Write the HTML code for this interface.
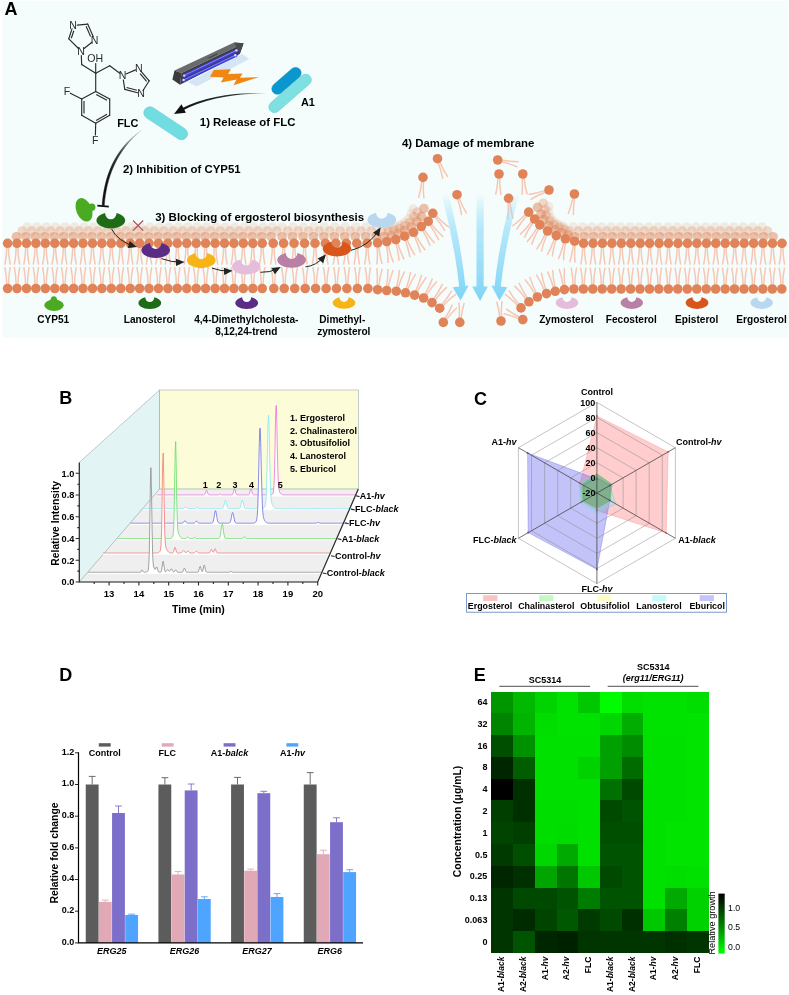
<!DOCTYPE html>
<html lang="en"><head><meta charset="utf-8"><title>Figure</title>
<style>
html,body{margin:0;padding:0;background:#fff;}
body{width:789px;height:995px;overflow:hidden;font-family:"Liberation Sans", Arial, sans-serif;}
svg{display:block;font-family:"Liberation Sans", Arial, sans-serif;}
</style></head><body>
<svg width="789" height="995" viewBox="0 0 789 995">
<rect x="2.2" y="0.8" width="785.8" height="336.9" fill="#f4fdfb"/>
<g fill="#e08358" fill-opacity="0.15"><circle cx="27.4" cy="227.0" r="4.8"/><circle cx="36.8" cy="227.0" r="4.8"/><circle cx="46.3" cy="227.0" r="4.8"/><circle cx="55.7" cy="227.0" r="4.8"/><circle cx="65.1" cy="227.0" r="4.8"/><circle cx="74.5" cy="227.0" r="4.8"/><circle cx="84.0" cy="227.0" r="4.8"/><circle cx="93.4" cy="227.0" r="4.8"/><circle cx="102.8" cy="227.0" r="4.8"/><circle cx="112.3" cy="227.0" r="4.8"/><circle cx="121.7" cy="227.0" r="4.8"/><circle cx="131.1" cy="227.0" r="4.8"/><circle cx="140.6" cy="227.0" r="4.8"/><circle cx="150.0" cy="227.0" r="4.8"/><circle cx="159.4" cy="227.0" r="4.8"/><circle cx="168.8" cy="227.0" r="4.8"/><circle cx="178.3" cy="227.0" r="4.8"/><circle cx="187.7" cy="227.0" r="4.8"/><circle cx="197.1" cy="227.0" r="4.8"/><circle cx="206.6" cy="227.0" r="4.8"/><circle cx="216.0" cy="227.0" r="4.8"/><circle cx="225.4" cy="227.0" r="4.8"/><circle cx="234.9" cy="227.0" r="4.8"/><circle cx="244.3" cy="227.0" r="4.8"/><circle cx="253.7" cy="227.0" r="4.8"/><circle cx="263.1" cy="227.0" r="4.8"/><circle cx="272.6" cy="227.0" r="4.8"/><circle cx="282.0" cy="227.0" r="4.8"/><circle cx="293.0" cy="227.0" r="4.8"/><circle cx="303.4" cy="227.0" r="4.8"/><circle cx="313.9" cy="227.0" r="4.8"/><circle cx="324.4" cy="227.0" r="4.8"/><circle cx="334.8" cy="227.0" r="4.8"/><circle cx="345.2" cy="227.0" r="4.8"/><circle cx="355.7" cy="227.0" r="4.8"/><circle cx="366.1" cy="227.0" r="4.8"/><circle cx="376.6" cy="227.0" r="4.8"/><circle cx="387.1" cy="227.0" r="4.8"/><circle cx="392.5" cy="227.2" r="4.8"/><circle cx="396.7" cy="226.5" r="4.8"/><circle cx="400.8" cy="224.9" r="4.8"/><circle cx="404.7" cy="222.2" r="4.8"/><circle cx="408.6" cy="218.9" r="4.8"/><circle cx="411.4" cy="213.6" r="4.8"/><circle cx="413.3" cy="209.1" r="4.8"/><circle cx="548.7" cy="206.6" r="4.8"/><circle cx="548.4" cy="211.9" r="4.8"/><circle cx="550.4" cy="217.3" r="4.8"/><circle cx="553.5" cy="221.3" r="4.8"/><circle cx="556.9" cy="223.8" r="4.8"/><circle cx="560.5" cy="225.6" r="4.8"/><circle cx="563.7" cy="227.0" r="4.8"/><circle cx="573.2" cy="227.0" r="4.8"/><circle cx="582.6" cy="227.0" r="4.8"/><circle cx="592.1" cy="227.0" r="4.8"/><circle cx="601.5" cy="227.0" r="4.8"/><circle cx="611.0" cy="227.0" r="4.8"/><circle cx="620.4" cy="227.0" r="4.8"/><circle cx="629.9" cy="227.0" r="4.8"/><circle cx="639.3" cy="227.0" r="4.8"/><circle cx="648.8" cy="227.0" r="4.8"/><circle cx="658.2" cy="227.0" r="4.8"/><circle cx="667.7" cy="227.0" r="4.8"/><circle cx="677.1" cy="227.0" r="4.8"/><circle cx="686.6" cy="227.0" r="4.8"/><circle cx="696.0" cy="227.0" r="4.8"/><circle cx="705.5" cy="227.0" r="4.8"/><circle cx="714.9" cy="227.0" r="4.8"/><circle cx="724.4" cy="227.0" r="4.8"/><circle cx="733.8" cy="227.0" r="4.8"/><circle cx="743.2" cy="227.0" r="4.8"/><circle cx="752.7" cy="227.0" r="4.8"/><circle cx="762.2" cy="227.0" r="4.8"/></g>
<g fill="#e08358" fill-opacity="0.3"><circle cx="22.2" cy="231.0" r="4.8"/><circle cx="31.6" cy="231.0" r="4.8"/><circle cx="41.1" cy="231.0" r="4.8"/><circle cx="50.5" cy="231.0" r="4.8"/><circle cx="59.9" cy="231.0" r="4.8"/><circle cx="69.3" cy="231.0" r="4.8"/><circle cx="78.8" cy="231.0" r="4.8"/><circle cx="88.2" cy="231.0" r="4.8"/><circle cx="97.6" cy="231.0" r="4.8"/><circle cx="107.1" cy="231.0" r="4.8"/><circle cx="116.5" cy="231.0" r="4.8"/><circle cx="125.9" cy="231.0" r="4.8"/><circle cx="135.4" cy="231.0" r="4.8"/><circle cx="144.8" cy="231.0" r="4.8"/><circle cx="154.2" cy="231.0" r="4.8"/><circle cx="163.6" cy="231.0" r="4.8"/><circle cx="173.1" cy="231.0" r="4.8"/><circle cx="182.5" cy="231.0" r="4.8"/><circle cx="191.9" cy="231.0" r="4.8"/><circle cx="201.4" cy="231.0" r="4.8"/><circle cx="210.8" cy="231.0" r="4.8"/><circle cx="220.2" cy="231.0" r="4.8"/><circle cx="229.7" cy="231.0" r="4.8"/><circle cx="239.1" cy="231.0" r="4.8"/><circle cx="248.5" cy="231.0" r="4.8"/><circle cx="257.9" cy="231.0" r="4.8"/><circle cx="267.4" cy="231.0" r="4.8"/><circle cx="276.8" cy="231.0" r="4.8"/><circle cx="287.8" cy="231.0" r="4.8"/><circle cx="298.2" cy="231.0" r="4.8"/><circle cx="308.7" cy="231.0" r="4.8"/><circle cx="319.2" cy="231.0" r="4.8"/><circle cx="329.6" cy="231.0" r="4.8"/><circle cx="340.1" cy="231.0" r="4.8"/><circle cx="350.5" cy="231.0" r="4.8"/><circle cx="360.9" cy="231.0" r="4.8"/><circle cx="371.4" cy="231.0" r="4.8"/><circle cx="381.9" cy="231.0" r="4.8"/><circle cx="388.6" cy="231.0" r="4.8"/><circle cx="394.1" cy="230.3" r="4.8"/><circle cx="399.4" cy="228.5" r="4.8"/><circle cx="404.7" cy="225.6" r="4.8"/><circle cx="409.9" cy="222.2" r="4.8"/><circle cx="414.0" cy="216.8" r="4.8"/><circle cx="417.2" cy="212.1" r="4.8"/><circle cx="543.3" cy="203.2" r="4.8"/><circle cx="545.0" cy="209.7" r="4.8"/><circle cx="546.2" cy="215.1" r="4.8"/><circle cx="549.7" cy="220.7" r="4.8"/><circle cx="554.2" cy="224.8" r="4.8"/><circle cx="559.1" cy="227.5" r="4.8"/><circle cx="564.2" cy="229.4" r="4.8"/><circle cx="568.9" cy="231.0" r="4.8"/><circle cx="578.4" cy="231.0" r="4.8"/><circle cx="587.8" cy="231.0" r="4.8"/><circle cx="597.2" cy="231.0" r="4.8"/><circle cx="606.7" cy="231.0" r="4.8"/><circle cx="616.1" cy="231.0" r="4.8"/><circle cx="625.6" cy="231.0" r="4.8"/><circle cx="635.0" cy="231.0" r="4.8"/><circle cx="644.5" cy="231.0" r="4.8"/><circle cx="653.9" cy="231.0" r="4.8"/><circle cx="663.4" cy="231.0" r="4.8"/><circle cx="672.9" cy="231.0" r="4.8"/><circle cx="682.3" cy="231.0" r="4.8"/><circle cx="691.8" cy="231.0" r="4.8"/><circle cx="701.2" cy="231.0" r="4.8"/><circle cx="710.6" cy="231.0" r="4.8"/><circle cx="720.1" cy="231.0" r="4.8"/><circle cx="729.5" cy="231.0" r="4.8"/><circle cx="739.0" cy="231.0" r="4.8"/><circle cx="748.4" cy="231.0" r="4.8"/><circle cx="757.9" cy="231.0" r="4.8"/><circle cx="767.4" cy="231.0" r="4.8"/></g>
<g fill="#e08358" fill-opacity="0.5"><circle cx="16.5" cy="236.7" r="4.8"/><circle cx="25.9" cy="236.7" r="4.8"/><circle cx="35.4" cy="236.7" r="4.8"/><circle cx="44.8" cy="236.7" r="4.8"/><circle cx="54.2" cy="236.7" r="4.8"/><circle cx="63.6" cy="236.7" r="4.8"/><circle cx="73.1" cy="236.7" r="4.8"/><circle cx="82.5" cy="236.7" r="4.8"/><circle cx="91.9" cy="236.7" r="4.8"/><circle cx="101.4" cy="236.7" r="4.8"/><circle cx="110.8" cy="236.7" r="4.8"/><circle cx="120.2" cy="236.7" r="4.8"/><circle cx="129.7" cy="236.7" r="4.8"/><circle cx="139.1" cy="236.7" r="4.8"/><circle cx="148.5" cy="236.7" r="4.8"/><circle cx="157.9" cy="236.7" r="4.8"/><circle cx="167.4" cy="236.7" r="4.8"/><circle cx="176.8" cy="236.7" r="4.8"/><circle cx="186.2" cy="236.7" r="4.8"/><circle cx="195.7" cy="236.7" r="4.8"/><circle cx="205.1" cy="236.7" r="4.8"/><circle cx="214.5" cy="236.7" r="4.8"/><circle cx="224.0" cy="236.7" r="4.8"/><circle cx="233.4" cy="236.7" r="4.8"/><circle cx="242.8" cy="236.7" r="4.8"/><circle cx="252.2" cy="236.7" r="4.8"/><circle cx="261.7" cy="236.7" r="4.8"/><circle cx="271.1" cy="236.7" r="4.8"/><circle cx="282.1" cy="236.7" r="4.8"/><circle cx="292.5" cy="236.7" r="4.8"/><circle cx="303.0" cy="236.7" r="4.8"/><circle cx="313.4" cy="236.7" r="4.8"/><circle cx="323.9" cy="236.7" r="4.8"/><circle cx="334.3" cy="236.7" r="4.8"/><circle cx="344.8" cy="236.7" r="4.8"/><circle cx="355.2" cy="236.7" r="4.8"/><circle cx="365.7" cy="236.7" r="4.8"/><circle cx="376.1" cy="236.7" r="4.8"/><circle cx="384.3" cy="236.5" r="4.8"/><circle cx="391.2" cy="235.6" r="4.8"/><circle cx="398.0" cy="233.6" r="4.8"/><circle cx="404.7" cy="230.5" r="4.8"/><circle cx="411.3" cy="226.9" r="4.8"/><circle cx="416.9" cy="221.3" r="4.8"/><circle cx="421.5" cy="216.4" r="4.8"/><circle cx="423.9" cy="208.5" r="4.8"/><circle cx="537.6" cy="207.3" r="4.8"/><circle cx="541.0" cy="214.0" r="4.8"/><circle cx="543.7" cy="219.6" r="4.8"/><circle cx="548.9" cy="225.5" r="4.8"/><circle cx="555.0" cy="229.8" r="4.8"/><circle cx="561.6" cy="232.7" r="4.8"/><circle cx="568.2" cy="234.9" r="4.8"/><circle cx="574.6" cy="236.7" r="4.8"/><circle cx="584.1" cy="236.7" r="4.8"/><circle cx="593.5" cy="236.7" r="4.8"/><circle cx="603.0" cy="236.7" r="4.8"/><circle cx="612.4" cy="236.7" r="4.8"/><circle cx="621.9" cy="236.7" r="4.8"/><circle cx="631.3" cy="236.7" r="4.8"/><circle cx="640.8" cy="236.7" r="4.8"/><circle cx="650.2" cy="236.7" r="4.8"/><circle cx="659.6" cy="236.7" r="4.8"/><circle cx="669.1" cy="236.7" r="4.8"/><circle cx="678.6" cy="236.7" r="4.8"/><circle cx="688.0" cy="236.7" r="4.8"/><circle cx="697.5" cy="236.7" r="4.8"/><circle cx="706.9" cy="236.7" r="4.8"/><circle cx="716.4" cy="236.7" r="4.8"/><circle cx="725.8" cy="236.7" r="4.8"/><circle cx="735.2" cy="236.7" r="4.8"/><circle cx="744.7" cy="236.7" r="4.8"/><circle cx="754.1" cy="236.7" r="4.8"/><circle cx="763.6" cy="236.7" r="4.8"/><circle cx="773.1" cy="236.7" r="4.8"/></g>
<path d="M376.04,212.75 A5.76,6.08 0 0 0 387.56,212.75 A14.40,7.80 0 1 1 376.04,212.75 Z" fill="#b9d8f0"/>
<path d="M8.5,247.6 Q8.6,256.4 10.3,264.6" stroke="#f7c6b4" stroke-width="1.5" fill="none"/><path d="M6.7,247.6 Q6.6,256.4 4.9,264.6" stroke="#f7c6b4" stroke-width="1.5" fill="none"/><circle cx="7.6" cy="243.3" r="4.8" fill="#e08358"/><path d="M17.9,247.6 Q18.0,256.4 19.7,264.6" stroke="#f7c6b4" stroke-width="1.5" fill="none"/><path d="M16.1,247.6 Q16.0,256.4 14.3,264.6" stroke="#f7c6b4" stroke-width="1.5" fill="none"/><circle cx="17.0" cy="243.3" r="4.8" fill="#e08358"/><path d="M27.4,247.6 Q27.5,256.4 29.2,264.6" stroke="#f7c6b4" stroke-width="1.5" fill="none"/><path d="M25.6,247.6 Q25.5,256.4 23.8,264.6" stroke="#f7c6b4" stroke-width="1.5" fill="none"/><circle cx="26.5" cy="243.3" r="4.8" fill="#e08358"/><path d="M36.8,247.6 Q36.9,256.4 38.6,264.6" stroke="#f7c6b4" stroke-width="1.5" fill="none"/><path d="M35.0,247.6 Q34.9,256.4 33.2,264.6" stroke="#f7c6b4" stroke-width="1.5" fill="none"/><circle cx="35.9" cy="243.3" r="4.8" fill="#e08358"/><path d="M46.2,247.6 Q46.3,256.4 48.0,264.6" stroke="#f7c6b4" stroke-width="1.5" fill="none"/><path d="M44.4,247.6 Q44.3,256.4 42.6,264.6" stroke="#f7c6b4" stroke-width="1.5" fill="none"/><circle cx="45.3" cy="243.3" r="4.8" fill="#e08358"/><path d="M55.6,247.6 Q55.8,256.4 57.5,264.6" stroke="#f7c6b4" stroke-width="1.5" fill="none"/><path d="M53.9,247.6 Q53.8,256.4 52.0,264.6" stroke="#f7c6b4" stroke-width="1.5" fill="none"/><circle cx="54.8" cy="243.3" r="4.8" fill="#e08358"/><path d="M65.1,247.6 Q65.2,256.4 66.9,264.6" stroke="#f7c6b4" stroke-width="1.5" fill="none"/><path d="M63.3,247.6 Q63.2,256.4 61.5,264.6" stroke="#f7c6b4" stroke-width="1.5" fill="none"/><circle cx="64.2" cy="243.3" r="4.8" fill="#e08358"/><path d="M74.5,247.6 Q74.6,256.4 76.3,264.6" stroke="#f7c6b4" stroke-width="1.5" fill="none"/><path d="M72.7,247.6 Q72.6,256.4 70.9,264.6" stroke="#f7c6b4" stroke-width="1.5" fill="none"/><circle cx="73.6" cy="243.3" r="4.8" fill="#e08358"/><path d="M83.9,247.6 Q84.0,256.4 85.7,264.6" stroke="#f7c6b4" stroke-width="1.5" fill="none"/><path d="M82.1,247.6 Q82.0,256.4 80.3,264.6" stroke="#f7c6b4" stroke-width="1.5" fill="none"/><circle cx="83.0" cy="243.3" r="4.8" fill="#e08358"/><path d="M93.4,247.6 Q93.5,256.4 95.2,264.6" stroke="#f7c6b4" stroke-width="1.5" fill="none"/><path d="M91.6,247.6 Q91.5,256.4 89.8,264.6" stroke="#f7c6b4" stroke-width="1.5" fill="none"/><circle cx="92.5" cy="243.3" r="4.8" fill="#e08358"/><path d="M102.8,247.6 Q102.9,256.4 104.6,264.6" stroke="#f7c6b4" stroke-width="1.5" fill="none"/><path d="M101.0,247.6 Q100.9,256.4 99.2,264.6" stroke="#f7c6b4" stroke-width="1.5" fill="none"/><circle cx="101.9" cy="243.3" r="4.8" fill="#e08358"/><path d="M112.2,247.6 Q112.3,256.4 114.0,264.6" stroke="#f7c6b4" stroke-width="1.5" fill="none"/><path d="M110.4,247.6 Q110.3,256.4 108.6,264.6" stroke="#f7c6b4" stroke-width="1.5" fill="none"/><circle cx="111.3" cy="243.3" r="4.8" fill="#e08358"/><path d="M121.7,247.6 Q121.8,256.4 123.5,264.6" stroke="#f7c6b4" stroke-width="1.5" fill="none"/><path d="M119.9,247.6 Q119.8,256.4 118.1,264.6" stroke="#f7c6b4" stroke-width="1.5" fill="none"/><circle cx="120.8" cy="243.3" r="4.8" fill="#e08358"/><path d="M131.1,247.6 Q131.2,256.4 132.9,264.6" stroke="#f7c6b4" stroke-width="1.5" fill="none"/><path d="M129.3,247.6 Q129.2,256.4 127.5,264.6" stroke="#f7c6b4" stroke-width="1.5" fill="none"/><circle cx="130.2" cy="243.3" r="4.8" fill="#e08358"/><path d="M140.5,247.6 Q140.6,256.4 142.3,264.6" stroke="#f7c6b4" stroke-width="1.5" fill="none"/><path d="M138.7,247.6 Q138.6,256.4 136.9,264.6" stroke="#f7c6b4" stroke-width="1.5" fill="none"/><circle cx="139.6" cy="243.3" r="4.8" fill="#e08358"/><path d="M149.9,247.6 Q150.0,256.4 151.7,264.6" stroke="#f7c6b4" stroke-width="1.5" fill="none"/><path d="M148.1,247.6 Q148.0,256.4 146.3,264.6" stroke="#f7c6b4" stroke-width="1.5" fill="none"/><circle cx="149.0" cy="243.3" r="4.8" fill="#e08358"/><path d="M159.4,247.6 Q159.5,256.4 161.2,264.6" stroke="#f7c6b4" stroke-width="1.5" fill="none"/><path d="M157.6,247.6 Q157.5,256.4 155.8,264.6" stroke="#f7c6b4" stroke-width="1.5" fill="none"/><circle cx="158.5" cy="243.3" r="4.8" fill="#e08358"/><path d="M168.8,247.6 Q168.9,256.4 170.6,264.6" stroke="#f7c6b4" stroke-width="1.5" fill="none"/><path d="M167.0,247.6 Q166.9,256.4 165.2,264.6" stroke="#f7c6b4" stroke-width="1.5" fill="none"/><circle cx="167.9" cy="243.3" r="4.8" fill="#e08358"/><path d="M178.2,247.6 Q178.3,256.4 180.0,264.6" stroke="#f7c6b4" stroke-width="1.5" fill="none"/><path d="M176.4,247.6 Q176.3,256.4 174.6,264.6" stroke="#f7c6b4" stroke-width="1.5" fill="none"/><circle cx="177.3" cy="243.3" r="4.8" fill="#e08358"/><path d="M187.7,247.6 Q187.8,256.4 189.5,264.6" stroke="#f7c6b4" stroke-width="1.5" fill="none"/><path d="M185.9,247.6 Q185.8,256.4 184.1,264.6" stroke="#f7c6b4" stroke-width="1.5" fill="none"/><circle cx="186.8" cy="243.3" r="4.8" fill="#e08358"/><path d="M197.1,247.6 Q197.2,256.4 198.9,264.6" stroke="#f7c6b4" stroke-width="1.5" fill="none"/><path d="M195.3,247.6 Q195.2,256.4 193.5,264.6" stroke="#f7c6b4" stroke-width="1.5" fill="none"/><circle cx="196.2" cy="243.3" r="4.8" fill="#e08358"/><path d="M206.5,247.6 Q206.6,256.4 208.3,264.6" stroke="#f7c6b4" stroke-width="1.5" fill="none"/><path d="M204.7,247.6 Q204.6,256.4 202.9,264.6" stroke="#f7c6b4" stroke-width="1.5" fill="none"/><circle cx="205.6" cy="243.3" r="4.8" fill="#e08358"/><path d="M216.0,247.6 Q216.1,256.4 217.8,264.6" stroke="#f7c6b4" stroke-width="1.5" fill="none"/><path d="M214.2,247.6 Q214.1,256.4 212.4,264.6" stroke="#f7c6b4" stroke-width="1.5" fill="none"/><circle cx="215.1" cy="243.3" r="4.8" fill="#e08358"/><path d="M225.4,247.6 Q225.5,256.4 227.2,264.6" stroke="#f7c6b4" stroke-width="1.5" fill="none"/><path d="M223.6,247.6 Q223.5,256.4 221.8,264.6" stroke="#f7c6b4" stroke-width="1.5" fill="none"/><circle cx="224.5" cy="243.3" r="4.8" fill="#e08358"/><path d="M234.8,247.6 Q234.9,256.4 236.6,264.6" stroke="#f7c6b4" stroke-width="1.5" fill="none"/><path d="M233.0,247.6 Q232.9,256.4 231.2,264.6" stroke="#f7c6b4" stroke-width="1.5" fill="none"/><circle cx="233.9" cy="243.3" r="4.8" fill="#e08358"/><path d="M244.2,247.6 Q244.3,256.4 246.0,264.6" stroke="#f7c6b4" stroke-width="1.5" fill="none"/><path d="M242.4,247.6 Q242.3,256.4 240.7,264.6" stroke="#f7c6b4" stroke-width="1.5" fill="none"/><circle cx="243.3" cy="243.3" r="4.8" fill="#e08358"/><path d="M253.7,247.6 Q253.8,256.4 255.5,264.6" stroke="#f7c6b4" stroke-width="1.5" fill="none"/><path d="M251.9,247.6 Q251.8,256.4 250.1,264.6" stroke="#f7c6b4" stroke-width="1.5" fill="none"/><circle cx="252.8" cy="243.3" r="4.8" fill="#e08358"/><path d="M263.1,247.6 Q263.2,256.4 264.9,264.6" stroke="#f7c6b4" stroke-width="1.5" fill="none"/><path d="M261.3,247.6 Q261.2,256.4 259.5,264.6" stroke="#f7c6b4" stroke-width="1.5" fill="none"/><circle cx="262.2" cy="243.3" r="4.8" fill="#e08358"/><path d="M274.1,247.6 Q274.2,256.4 275.9,264.6" stroke="#f7c6b4" stroke-width="1.5" fill="none"/><path d="M272.3,247.6 Q272.2,256.4 270.5,264.6" stroke="#f7c6b4" stroke-width="1.5" fill="none"/><circle cx="273.2" cy="243.3" r="4.8" fill="#e08358"/><path d="M284.5,247.6 Q284.6,256.4 286.3,264.6" stroke="#f7c6b4" stroke-width="1.5" fill="none"/><path d="M282.8,247.6 Q282.6,256.4 280.9,264.6" stroke="#f7c6b4" stroke-width="1.5" fill="none"/><circle cx="283.6" cy="243.3" r="4.8" fill="#e08358"/><path d="M295.0,247.6 Q295.1,256.4 296.8,264.6" stroke="#f7c6b4" stroke-width="1.5" fill="none"/><path d="M293.2,247.6 Q293.1,256.4 291.4,264.6" stroke="#f7c6b4" stroke-width="1.5" fill="none"/><circle cx="294.1" cy="243.3" r="4.8" fill="#e08358"/><path d="M305.4,247.6 Q305.6,256.4 307.2,264.6" stroke="#f7c6b4" stroke-width="1.5" fill="none"/><path d="M303.7,247.6 Q303.6,256.4 301.9,264.6" stroke="#f7c6b4" stroke-width="1.5" fill="none"/><circle cx="304.6" cy="243.3" r="4.8" fill="#e08358"/><path d="M315.9,247.6 Q316.0,256.4 317.7,264.6" stroke="#f7c6b4" stroke-width="1.5" fill="none"/><path d="M314.1,247.6 Q314.0,256.4 312.3,264.6" stroke="#f7c6b4" stroke-width="1.5" fill="none"/><circle cx="315.0" cy="243.3" r="4.8" fill="#e08358"/><path d="M326.3,247.6 Q326.4,256.4 328.1,264.6" stroke="#f7c6b4" stroke-width="1.5" fill="none"/><path d="M324.6,247.6 Q324.4,256.4 322.8,264.6" stroke="#f7c6b4" stroke-width="1.5" fill="none"/><circle cx="325.4" cy="243.3" r="4.8" fill="#e08358"/><path d="M336.8,247.6 Q336.9,256.4 338.6,264.6" stroke="#f7c6b4" stroke-width="1.5" fill="none"/><path d="M335.0,247.6 Q334.9,256.4 333.2,264.6" stroke="#f7c6b4" stroke-width="1.5" fill="none"/><circle cx="335.9" cy="243.3" r="4.8" fill="#e08358"/><path d="M347.2,247.6 Q347.3,256.4 349.0,264.6" stroke="#f7c6b4" stroke-width="1.5" fill="none"/><path d="M345.4,247.6 Q345.3,256.4 343.6,264.6" stroke="#f7c6b4" stroke-width="1.5" fill="none"/><circle cx="346.3" cy="243.3" r="4.8" fill="#e08358"/><path d="M357.7,247.6 Q357.8,256.4 359.5,264.6" stroke="#f7c6b4" stroke-width="1.5" fill="none"/><path d="M355.9,247.6 Q355.8,256.4 354.1,264.6" stroke="#f7c6b4" stroke-width="1.5" fill="none"/><circle cx="356.8" cy="243.3" r="4.8" fill="#e08358"/><path d="M368.1,247.6 Q368.2,256.4 369.9,264.6" stroke="#f7c6b4" stroke-width="1.5" fill="none"/><path d="M366.4,247.6 Q366.2,256.4 364.6,264.6" stroke="#f7c6b4" stroke-width="1.5" fill="none"/><circle cx="367.2" cy="243.3" r="4.8" fill="#e08358"/><path d="M378.9,247.1 Q379.8,255.8 382.2,263.9" stroke="#f7c6b4" stroke-width="1.5" fill="none"/><path d="M377.1,247.3 Q377.8,256.0 376.9,264.4" stroke="#f7c6b4" stroke-width="1.5" fill="none"/><circle cx="377.6" cy="242.9" r="4.8" fill="#e08358"/><path d="M388.5,245.8 Q390.2,254.3 393.3,262.2" stroke="#f7c6b4" stroke-width="1.5" fill="none"/><path d="M386.7,246.1 Q388.2,254.7 388.0,263.1" stroke="#f7c6b4" stroke-width="1.5" fill="none"/><circle cx="386.8" cy="241.7" r="4.8" fill="#e08358"/><path d="M397.8,243.4 Q400.3,251.8 404.2,259.3" stroke="#f7c6b4" stroke-width="1.5" fill="none"/><path d="M396.1,243.9 Q398.4,252.3 399.0,260.7" stroke="#f7c6b4" stroke-width="1.5" fill="none"/><circle cx="395.8" cy="239.5" r="4.8" fill="#e08358"/><path d="M407.1,239.9 Q410.3,248.0 414.9,255.1" stroke="#f7c6b4" stroke-width="1.5" fill="none"/><path d="M405.4,240.6 Q408.4,248.7 409.8,257.1" stroke="#f7c6b4" stroke-width="1.5" fill="none"/><circle cx="404.7" cy="236.2" r="4.8" fill="#e08358"/><path d="M416.2,235.8 Q420.2,243.6 425.3,250.2" stroke="#f7c6b4" stroke-width="1.5" fill="none"/><path d="M414.6,236.6 Q418.4,244.4 420.5,252.6" stroke="#f7c6b4" stroke-width="1.5" fill="none"/><circle cx="413.5" cy="232.3" r="4.8" fill="#e08358"/><path d="M424.3,229.7 Q429.0,237.1 434.7,243.3" stroke="#f7c6b4" stroke-width="1.5" fill="none"/><path d="M422.8,230.7 Q427.3,238.1 430.1,246.1" stroke="#f7c6b4" stroke-width="1.5" fill="none"/><circle cx="421.3" cy="226.5" r="4.8" fill="#e08358"/><path d="M431.5,224.3 Q436.8,231.3 443.1,236.9" stroke="#f7c6b4" stroke-width="1.5" fill="none"/><path d="M430.1,225.4 Q435.2,232.5 438.8,240.1" stroke="#f7c6b4" stroke-width="1.5" fill="none"/><circle cx="428.2" cy="221.4" r="4.8" fill="#e08358"/><path d="M436.4,215.9 Q442.3,222.3 449.1,227.3" stroke="#f7c6b4" stroke-width="1.5" fill="none"/><path d="M435.0,217.1 Q440.8,223.7 445.0,230.9" stroke="#f7c6b4" stroke-width="1.5" fill="none"/><circle cx="432.8" cy="213.3" r="4.8" fill="#e08358"/><path d="M526.5,215.9 Q520.7,222.5 516.5,229.7" stroke="#f7c6b4" stroke-width="1.5" fill="none"/><path d="M525.1,214.7 Q519.2,221.1 512.4,226.1" stroke="#f7c6b4" stroke-width="1.5" fill="none"/><circle cx="528.7" cy="212.1" r="4.8" fill="#e08358"/><path d="M532.8,223.0 Q527.7,230.1 524.3,237.8" stroke="#f7c6b4" stroke-width="1.5" fill="none"/><path d="M531.3,222.0 Q526.1,229.0 519.9,234.6" stroke="#f7c6b4" stroke-width="1.5" fill="none"/><circle cx="534.6" cy="219.0" r="4.8" fill="#e08358"/><path d="M538.5,229.1 Q534.2,236.7 531.6,244.7" stroke="#f7c6b4" stroke-width="1.5" fill="none"/><path d="M537.0,228.2 Q532.5,235.7 526.9,242.0" stroke="#f7c6b4" stroke-width="1.5" fill="none"/><circle cx="539.9" cy="224.9" r="4.8" fill="#e08358"/><path d="M546.7,235.3 Q543.2,243.3 541.4,251.6" stroke="#f7c6b4" stroke-width="1.5" fill="none"/><path d="M545.0,234.6 Q541.4,242.5 536.5,249.4" stroke="#f7c6b4" stroke-width="1.5" fill="none"/><circle cx="547.6" cy="231.0" r="4.8" fill="#e08358"/><path d="M555.8,240.0 Q553.2,248.3 552.3,256.7" stroke="#f7c6b4" stroke-width="1.5" fill="none"/><path d="M554.1,239.4 Q551.3,247.7 547.2,255.0" stroke="#f7c6b4" stroke-width="1.5" fill="none"/><circle cx="556.3" cy="235.6" r="4.8" fill="#e08358"/><path d="M565.4,243.2 Q563.7,251.8 563.6,260.2" stroke="#f7c6b4" stroke-width="1.5" fill="none"/><path d="M563.6,242.8 Q561.7,251.4 558.3,259.1" stroke="#f7c6b4" stroke-width="1.5" fill="none"/><circle cx="565.4" cy="238.8" r="4.8" fill="#e08358"/><path d="M575.0,245.6 Q574.2,254.3 575.1,262.7" stroke="#f7c6b4" stroke-width="1.5" fill="none"/><path d="M573.3,245.4 Q572.2,254.1 569.7,262.1" stroke="#f7c6b4" stroke-width="1.5" fill="none"/><circle cx="574.6" cy="241.2" r="4.8" fill="#e08358"/><path d="M584.4,247.6 Q584.5,256.4 586.2,264.6" stroke="#f7c6b4" stroke-width="1.5" fill="none"/><path d="M582.6,247.6 Q582.5,256.4 580.8,264.6" stroke="#f7c6b4" stroke-width="1.5" fill="none"/><circle cx="583.5" cy="243.3" r="4.8" fill="#e08358"/><path d="M593.9,247.6 Q594.0,256.4 595.7,264.6" stroke="#f7c6b4" stroke-width="1.5" fill="none"/><path d="M592.1,247.6 Q592.0,256.4 590.2,264.6" stroke="#f7c6b4" stroke-width="1.5" fill="none"/><circle cx="593.0" cy="243.3" r="4.8" fill="#e08358"/><path d="M603.3,247.6 Q603.4,256.4 605.1,264.6" stroke="#f7c6b4" stroke-width="1.5" fill="none"/><path d="M601.5,247.6 Q601.4,256.4 599.7,264.6" stroke="#f7c6b4" stroke-width="1.5" fill="none"/><circle cx="602.4" cy="243.3" r="4.8" fill="#e08358"/><path d="M612.8,247.6 Q612.9,256.4 614.6,264.6" stroke="#f7c6b4" stroke-width="1.5" fill="none"/><path d="M611.0,247.6 Q610.9,256.4 609.1,264.6" stroke="#f7c6b4" stroke-width="1.5" fill="none"/><circle cx="611.9" cy="243.3" r="4.8" fill="#e08358"/><path d="M622.2,247.6 Q622.3,256.4 624.0,264.6" stroke="#f7c6b4" stroke-width="1.5" fill="none"/><path d="M620.4,247.6 Q620.3,256.4 618.6,264.6" stroke="#f7c6b4" stroke-width="1.5" fill="none"/><circle cx="621.3" cy="243.3" r="4.8" fill="#e08358"/><path d="M631.6,247.6 Q631.8,256.4 633.5,264.6" stroke="#f7c6b4" stroke-width="1.5" fill="none"/><path d="M629.9,247.6 Q629.8,256.4 628.0,264.6" stroke="#f7c6b4" stroke-width="1.5" fill="none"/><circle cx="630.8" cy="243.3" r="4.8" fill="#e08358"/><path d="M641.1,247.6 Q641.2,256.4 642.9,264.6" stroke="#f7c6b4" stroke-width="1.5" fill="none"/><path d="M639.3,247.6 Q639.2,256.4 637.5,264.6" stroke="#f7c6b4" stroke-width="1.5" fill="none"/><circle cx="640.2" cy="243.3" r="4.8" fill="#e08358"/><path d="M650.5,247.6 Q650.6,256.4 652.4,264.6" stroke="#f7c6b4" stroke-width="1.5" fill="none"/><path d="M648.8,247.6 Q648.6,256.4 646.9,264.6" stroke="#f7c6b4" stroke-width="1.5" fill="none"/><circle cx="649.6" cy="243.3" r="4.8" fill="#e08358"/><path d="M660.0,247.6 Q660.1,256.4 661.8,264.6" stroke="#f7c6b4" stroke-width="1.5" fill="none"/><path d="M658.2,247.6 Q658.1,256.4 656.4,264.6" stroke="#f7c6b4" stroke-width="1.5" fill="none"/><circle cx="659.1" cy="243.3" r="4.8" fill="#e08358"/><path d="M669.4,247.6 Q669.5,256.4 671.2,264.6" stroke="#f7c6b4" stroke-width="1.5" fill="none"/><path d="M667.6,247.6 Q667.5,256.4 665.8,264.6" stroke="#f7c6b4" stroke-width="1.5" fill="none"/><circle cx="668.5" cy="243.3" r="4.8" fill="#e08358"/><path d="M678.9,247.6 Q679.0,256.4 680.7,264.6" stroke="#f7c6b4" stroke-width="1.5" fill="none"/><path d="M677.1,247.6 Q677.0,256.4 675.3,264.6" stroke="#f7c6b4" stroke-width="1.5" fill="none"/><circle cx="678.0" cy="243.3" r="4.8" fill="#e08358"/><path d="M688.4,247.6 Q688.5,256.4 690.2,264.6" stroke="#f7c6b4" stroke-width="1.5" fill="none"/><path d="M686.6,247.6 Q686.5,256.4 684.8,264.6" stroke="#f7c6b4" stroke-width="1.5" fill="none"/><circle cx="687.5" cy="243.3" r="4.8" fill="#e08358"/><path d="M697.8,247.6 Q697.9,256.4 699.6,264.6" stroke="#f7c6b4" stroke-width="1.5" fill="none"/><path d="M696.0,247.6 Q695.9,256.4 694.2,264.6" stroke="#f7c6b4" stroke-width="1.5" fill="none"/><circle cx="696.9" cy="243.3" r="4.8" fill="#e08358"/><path d="M707.2,247.6 Q707.4,256.4 709.1,264.6" stroke="#f7c6b4" stroke-width="1.5" fill="none"/><path d="M705.5,247.6 Q705.4,256.4 703.6,264.6" stroke="#f7c6b4" stroke-width="1.5" fill="none"/><circle cx="706.4" cy="243.3" r="4.8" fill="#e08358"/><path d="M716.7,247.6 Q716.8,256.4 718.5,264.6" stroke="#f7c6b4" stroke-width="1.5" fill="none"/><path d="M714.9,247.6 Q714.8,256.4 713.1,264.6" stroke="#f7c6b4" stroke-width="1.5" fill="none"/><circle cx="715.8" cy="243.3" r="4.8" fill="#e08358"/><path d="M726.1,247.6 Q726.2,256.4 728.0,264.6" stroke="#f7c6b4" stroke-width="1.5" fill="none"/><path d="M724.4,247.6 Q724.2,256.4 722.5,264.6" stroke="#f7c6b4" stroke-width="1.5" fill="none"/><circle cx="725.2" cy="243.3" r="4.8" fill="#e08358"/><path d="M735.6,247.6 Q735.7,256.4 737.4,264.6" stroke="#f7c6b4" stroke-width="1.5" fill="none"/><path d="M733.8,247.6 Q733.7,256.4 732.0,264.6" stroke="#f7c6b4" stroke-width="1.5" fill="none"/><circle cx="734.7" cy="243.3" r="4.8" fill="#e08358"/><path d="M745.0,247.6 Q745.1,256.4 746.9,264.6" stroke="#f7c6b4" stroke-width="1.5" fill="none"/><path d="M743.2,247.6 Q743.1,256.4 741.4,264.6" stroke="#f7c6b4" stroke-width="1.5" fill="none"/><circle cx="744.1" cy="243.3" r="4.8" fill="#e08358"/><path d="M754.5,247.6 Q754.6,256.4 756.3,264.6" stroke="#f7c6b4" stroke-width="1.5" fill="none"/><path d="M752.7,247.6 Q752.6,256.4 750.9,264.6" stroke="#f7c6b4" stroke-width="1.5" fill="none"/><circle cx="753.6" cy="243.3" r="4.8" fill="#e08358"/><path d="M763.9,247.6 Q764.0,256.4 765.8,264.6" stroke="#f7c6b4" stroke-width="1.5" fill="none"/><path d="M762.1,247.6 Q762.0,256.4 760.3,264.6" stroke="#f7c6b4" stroke-width="1.5" fill="none"/><circle cx="763.0" cy="243.3" r="4.8" fill="#e08358"/><path d="M773.4,247.6 Q773.5,256.4 775.2,264.6" stroke="#f7c6b4" stroke-width="1.5" fill="none"/><path d="M771.6,247.6 Q771.5,256.4 769.8,264.6" stroke="#f7c6b4" stroke-width="1.5" fill="none"/><circle cx="772.5" cy="243.3" r="4.8" fill="#e08358"/><path d="M782.9,247.6 Q783.0,256.4 784.7,264.6" stroke="#f7c6b4" stroke-width="1.5" fill="none"/><path d="M781.1,247.6 Q781.0,256.4 779.2,264.6" stroke="#f7c6b4" stroke-width="1.5" fill="none"/><circle cx="782.0" cy="243.3" r="4.8" fill="#e08358"/>
<path d="M6.7,284.2 Q6.6,275.4 4.9,267.2" stroke="#f7c6b4" stroke-width="1.5" fill="none"/><path d="M8.5,284.2 Q8.6,275.4 10.3,267.2" stroke="#f7c6b4" stroke-width="1.5" fill="none"/><circle cx="7.6" cy="288.5" r="4.8" fill="#e08358"/><path d="M16.1,284.2 Q16.0,275.4 14.3,267.2" stroke="#f7c6b4" stroke-width="1.5" fill="none"/><path d="M17.9,284.2 Q18.0,275.4 19.7,267.2" stroke="#f7c6b4" stroke-width="1.5" fill="none"/><circle cx="17.0" cy="288.5" r="4.8" fill="#e08358"/><path d="M25.6,284.2 Q25.5,275.4 23.8,267.2" stroke="#f7c6b4" stroke-width="1.5" fill="none"/><path d="M27.4,284.2 Q27.5,275.4 29.2,267.2" stroke="#f7c6b4" stroke-width="1.5" fill="none"/><circle cx="26.5" cy="288.5" r="4.8" fill="#e08358"/><path d="M35.0,284.2 Q34.9,275.4 33.2,267.2" stroke="#f7c6b4" stroke-width="1.5" fill="none"/><path d="M36.8,284.2 Q36.9,275.4 38.6,267.2" stroke="#f7c6b4" stroke-width="1.5" fill="none"/><circle cx="35.9" cy="288.5" r="4.8" fill="#e08358"/><path d="M44.4,284.2 Q44.3,275.4 42.6,267.2" stroke="#f7c6b4" stroke-width="1.5" fill="none"/><path d="M46.2,284.2 Q46.3,275.4 48.0,267.2" stroke="#f7c6b4" stroke-width="1.5" fill="none"/><circle cx="45.3" cy="288.5" r="4.8" fill="#e08358"/><path d="M53.9,284.2 Q53.8,275.4 52.0,267.2" stroke="#f7c6b4" stroke-width="1.5" fill="none"/><path d="M55.6,284.2 Q55.8,275.4 57.5,267.2" stroke="#f7c6b4" stroke-width="1.5" fill="none"/><circle cx="54.8" cy="288.5" r="4.8" fill="#e08358"/><path d="M63.3,284.2 Q63.2,275.4 61.5,267.2" stroke="#f7c6b4" stroke-width="1.5" fill="none"/><path d="M65.1,284.2 Q65.2,275.4 66.9,267.2" stroke="#f7c6b4" stroke-width="1.5" fill="none"/><circle cx="64.2" cy="288.5" r="4.8" fill="#e08358"/><path d="M72.7,284.2 Q72.6,275.4 70.9,267.2" stroke="#f7c6b4" stroke-width="1.5" fill="none"/><path d="M74.5,284.2 Q74.6,275.4 76.3,267.2" stroke="#f7c6b4" stroke-width="1.5" fill="none"/><circle cx="73.6" cy="288.5" r="4.8" fill="#e08358"/><path d="M82.1,284.2 Q82.0,275.4 80.3,267.2" stroke="#f7c6b4" stroke-width="1.5" fill="none"/><path d="M83.9,284.2 Q84.0,275.4 85.7,267.2" stroke="#f7c6b4" stroke-width="1.5" fill="none"/><circle cx="83.0" cy="288.5" r="4.8" fill="#e08358"/><path d="M91.6,284.2 Q91.5,275.4 89.8,267.2" stroke="#f7c6b4" stroke-width="1.5" fill="none"/><path d="M93.4,284.2 Q93.5,275.4 95.2,267.2" stroke="#f7c6b4" stroke-width="1.5" fill="none"/><circle cx="92.5" cy="288.5" r="4.8" fill="#e08358"/><path d="M101.0,284.2 Q100.9,275.4 99.2,267.2" stroke="#f7c6b4" stroke-width="1.5" fill="none"/><path d="M102.8,284.2 Q102.9,275.4 104.6,267.2" stroke="#f7c6b4" stroke-width="1.5" fill="none"/><circle cx="101.9" cy="288.5" r="4.8" fill="#e08358"/><path d="M110.4,284.2 Q110.3,275.4 108.6,267.2" stroke="#f7c6b4" stroke-width="1.5" fill="none"/><path d="M112.2,284.2 Q112.3,275.4 114.0,267.2" stroke="#f7c6b4" stroke-width="1.5" fill="none"/><circle cx="111.3" cy="288.5" r="4.8" fill="#e08358"/><path d="M119.9,284.2 Q119.8,275.4 118.1,267.2" stroke="#f7c6b4" stroke-width="1.5" fill="none"/><path d="M121.7,284.2 Q121.8,275.4 123.5,267.2" stroke="#f7c6b4" stroke-width="1.5" fill="none"/><circle cx="120.8" cy="288.5" r="4.8" fill="#e08358"/><path d="M129.3,284.2 Q129.2,275.4 127.5,267.2" stroke="#f7c6b4" stroke-width="1.5" fill="none"/><path d="M131.1,284.2 Q131.2,275.4 132.9,267.2" stroke="#f7c6b4" stroke-width="1.5" fill="none"/><circle cx="130.2" cy="288.5" r="4.8" fill="#e08358"/><path d="M138.7,284.2 Q138.6,275.4 136.9,267.2" stroke="#f7c6b4" stroke-width="1.5" fill="none"/><path d="M140.5,284.2 Q140.6,275.4 142.3,267.2" stroke="#f7c6b4" stroke-width="1.5" fill="none"/><circle cx="139.6" cy="288.5" r="4.8" fill="#e08358"/><path d="M148.1,284.2 Q148.0,275.4 146.3,267.2" stroke="#f7c6b4" stroke-width="1.5" fill="none"/><path d="M149.9,284.2 Q150.0,275.4 151.7,267.2" stroke="#f7c6b4" stroke-width="1.5" fill="none"/><circle cx="149.0" cy="288.5" r="4.8" fill="#e08358"/><path d="M157.6,284.2 Q157.5,275.4 155.8,267.2" stroke="#f7c6b4" stroke-width="1.5" fill="none"/><path d="M159.4,284.2 Q159.5,275.4 161.2,267.2" stroke="#f7c6b4" stroke-width="1.5" fill="none"/><circle cx="158.5" cy="288.5" r="4.8" fill="#e08358"/><path d="M167.0,284.2 Q166.9,275.4 165.2,267.2" stroke="#f7c6b4" stroke-width="1.5" fill="none"/><path d="M168.8,284.2 Q168.9,275.4 170.6,267.2" stroke="#f7c6b4" stroke-width="1.5" fill="none"/><circle cx="167.9" cy="288.5" r="4.8" fill="#e08358"/><path d="M176.4,284.2 Q176.3,275.4 174.6,267.2" stroke="#f7c6b4" stroke-width="1.5" fill="none"/><path d="M178.2,284.2 Q178.3,275.4 180.0,267.2" stroke="#f7c6b4" stroke-width="1.5" fill="none"/><circle cx="177.3" cy="288.5" r="4.8" fill="#e08358"/><path d="M185.9,284.2 Q185.8,275.4 184.1,267.2" stroke="#f7c6b4" stroke-width="1.5" fill="none"/><path d="M187.7,284.2 Q187.8,275.4 189.5,267.2" stroke="#f7c6b4" stroke-width="1.5" fill="none"/><circle cx="186.8" cy="288.5" r="4.8" fill="#e08358"/><path d="M195.3,284.2 Q195.2,275.4 193.5,267.2" stroke="#f7c6b4" stroke-width="1.5" fill="none"/><path d="M197.1,284.2 Q197.2,275.4 198.9,267.2" stroke="#f7c6b4" stroke-width="1.5" fill="none"/><circle cx="196.2" cy="288.5" r="4.8" fill="#e08358"/><path d="M204.7,284.2 Q204.6,275.4 202.9,267.2" stroke="#f7c6b4" stroke-width="1.5" fill="none"/><path d="M206.5,284.2 Q206.6,275.4 208.3,267.2" stroke="#f7c6b4" stroke-width="1.5" fill="none"/><circle cx="205.6" cy="288.5" r="4.8" fill="#e08358"/><path d="M214.2,284.2 Q214.1,275.4 212.4,267.2" stroke="#f7c6b4" stroke-width="1.5" fill="none"/><path d="M216.0,284.2 Q216.1,275.4 217.8,267.2" stroke="#f7c6b4" stroke-width="1.5" fill="none"/><circle cx="215.1" cy="288.5" r="4.8" fill="#e08358"/><path d="M223.6,284.2 Q223.5,275.4 221.8,267.2" stroke="#f7c6b4" stroke-width="1.5" fill="none"/><path d="M225.4,284.2 Q225.5,275.4 227.2,267.2" stroke="#f7c6b4" stroke-width="1.5" fill="none"/><circle cx="224.5" cy="288.5" r="4.8" fill="#e08358"/><path d="M233.0,284.2 Q232.9,275.4 231.2,267.2" stroke="#f7c6b4" stroke-width="1.5" fill="none"/><path d="M234.8,284.2 Q234.9,275.4 236.6,267.2" stroke="#f7c6b4" stroke-width="1.5" fill="none"/><circle cx="233.9" cy="288.5" r="4.8" fill="#e08358"/><path d="M242.4,284.2 Q242.3,275.4 240.7,267.2" stroke="#f7c6b4" stroke-width="1.5" fill="none"/><path d="M244.2,284.2 Q244.3,275.4 246.0,267.2" stroke="#f7c6b4" stroke-width="1.5" fill="none"/><circle cx="243.3" cy="288.5" r="4.8" fill="#e08358"/><path d="M251.9,284.2 Q251.8,275.4 250.1,267.2" stroke="#f7c6b4" stroke-width="1.5" fill="none"/><path d="M253.7,284.2 Q253.8,275.4 255.5,267.2" stroke="#f7c6b4" stroke-width="1.5" fill="none"/><circle cx="252.8" cy="288.5" r="4.8" fill="#e08358"/><path d="M261.3,284.2 Q261.2,275.4 259.5,267.2" stroke="#f7c6b4" stroke-width="1.5" fill="none"/><path d="M263.1,284.2 Q263.2,275.4 264.9,267.2" stroke="#f7c6b4" stroke-width="1.5" fill="none"/><circle cx="262.2" cy="288.5" r="4.8" fill="#e08358"/><path d="M272.9,284.2 Q272.8,275.4 271.1,267.2" stroke="#f7c6b4" stroke-width="1.5" fill="none"/><path d="M274.7,284.2 Q274.8,275.4 276.5,267.2" stroke="#f7c6b4" stroke-width="1.5" fill="none"/><circle cx="273.8" cy="288.5" r="4.8" fill="#e08358"/><path d="M283.4,284.2 Q283.2,275.4 281.6,267.2" stroke="#f7c6b4" stroke-width="1.5" fill="none"/><path d="M285.1,284.2 Q285.2,275.4 286.9,267.2" stroke="#f7c6b4" stroke-width="1.5" fill="none"/><circle cx="284.2" cy="288.5" r="4.8" fill="#e08358"/><path d="M293.8,284.2 Q293.7,275.4 292.0,267.2" stroke="#f7c6b4" stroke-width="1.5" fill="none"/><path d="M295.6,284.2 Q295.7,275.4 297.4,267.2" stroke="#f7c6b4" stroke-width="1.5" fill="none"/><circle cx="294.7" cy="288.5" r="4.8" fill="#e08358"/><path d="M304.3,284.2 Q304.2,275.4 302.5,267.2" stroke="#f7c6b4" stroke-width="1.5" fill="none"/><path d="M306.1,284.2 Q306.2,275.4 307.9,267.2" stroke="#f7c6b4" stroke-width="1.5" fill="none"/><circle cx="305.2" cy="288.5" r="4.8" fill="#e08358"/><path d="M314.7,284.2 Q314.6,275.4 312.9,267.2" stroke="#f7c6b4" stroke-width="1.5" fill="none"/><path d="M316.5,284.2 Q316.6,275.4 318.3,267.2" stroke="#f7c6b4" stroke-width="1.5" fill="none"/><circle cx="315.6" cy="288.5" r="4.8" fill="#e08358"/><path d="M325.2,284.2 Q325.1,275.4 323.4,267.2" stroke="#f7c6b4" stroke-width="1.5" fill="none"/><path d="M326.9,284.2 Q327.1,275.4 328.8,267.2" stroke="#f7c6b4" stroke-width="1.5" fill="none"/><circle cx="326.1" cy="288.5" r="4.8" fill="#e08358"/><path d="M335.6,284.2 Q335.5,275.4 333.8,267.2" stroke="#f7c6b4" stroke-width="1.5" fill="none"/><path d="M337.4,284.2 Q337.5,275.4 339.2,267.2" stroke="#f7c6b4" stroke-width="1.5" fill="none"/><circle cx="336.5" cy="288.5" r="4.8" fill="#e08358"/><path d="M346.1,284.2 Q345.9,275.4 344.2,267.2" stroke="#f7c6b4" stroke-width="1.5" fill="none"/><path d="M347.8,284.2 Q347.9,275.4 349.6,267.2" stroke="#f7c6b4" stroke-width="1.5" fill="none"/><circle cx="346.9" cy="288.5" r="4.8" fill="#e08358"/><path d="M356.5,284.2 Q356.4,275.4 354.7,267.2" stroke="#f7c6b4" stroke-width="1.5" fill="none"/><path d="M358.3,284.2 Q358.4,275.4 360.1,267.2" stroke="#f7c6b4" stroke-width="1.5" fill="none"/><circle cx="357.4" cy="288.5" r="4.8" fill="#e08358"/><path d="M367.0,284.2 Q366.9,275.4 365.2,267.2" stroke="#f7c6b4" stroke-width="1.5" fill="none"/><path d="M368.8,284.2 Q368.9,275.4 370.6,267.2" stroke="#f7c6b4" stroke-width="1.5" fill="none"/><circle cx="367.9" cy="288.5" r="4.8" fill="#e08358"/><path d="M377.1,285.3 Q377.8,276.6 376.9,268.2" stroke="#f7c6b4" stroke-width="1.5" fill="none"/><path d="M378.9,285.5 Q379.8,276.8 382.2,268.7" stroke="#f7c6b4" stroke-width="1.5" fill="none"/><circle cx="377.6" cy="289.7" r="4.8" fill="#e08358"/><path d="M386.6,286.1 Q388.1,277.5 387.9,269.1" stroke="#f7c6b4" stroke-width="1.5" fill="none"/><path d="M388.4,286.4 Q390.1,277.9 393.2,270.0" stroke="#f7c6b4" stroke-width="1.5" fill="none"/><circle cx="386.7" cy="290.5" r="4.8" fill="#e08358"/><path d="M396.6,286.8 Q398.9,278.4 399.5,270.0" stroke="#f7c6b4" stroke-width="1.5" fill="none"/><path d="M398.3,287.3 Q400.8,278.9 404.7,271.4" stroke="#f7c6b4" stroke-width="1.5" fill="none"/><circle cx="396.3" cy="291.2" r="4.8" fill="#e08358"/><path d="M406.2,288.4 Q409.2,280.3 410.6,271.9" stroke="#f7c6b4" stroke-width="1.5" fill="none"/><path d="M407.9,289.1 Q411.1,281.0 415.7,273.9" stroke="#f7c6b4" stroke-width="1.5" fill="none"/><circle cx="405.5" cy="292.8" r="4.8" fill="#e08358"/><path d="M415.7,290.8 Q419.5,283.0 421.6,274.8" stroke="#f7c6b4" stroke-width="1.5" fill="none"/><path d="M417.3,291.6 Q421.3,283.8 426.4,277.2" stroke="#f7c6b4" stroke-width="1.5" fill="none"/><circle cx="414.6" cy="295.1" r="4.8" fill="#e08358"/><path d="M425.1,293.8 Q429.6,286.4 432.4,278.4" stroke="#f7c6b4" stroke-width="1.5" fill="none"/><path d="M426.6,294.8 Q431.3,287.4 437.0,281.2" stroke="#f7c6b4" stroke-width="1.5" fill="none"/><circle cx="423.6" cy="298.0" r="4.8" fill="#e08358"/><path d="M433.9,298.6 Q439.0,291.5 442.6,283.9" stroke="#f7c6b4" stroke-width="1.5" fill="none"/><path d="M435.3,299.7 Q440.6,292.7 446.9,287.1" stroke="#f7c6b4" stroke-width="1.5" fill="none"/><circle cx="432.0" cy="302.6" r="4.8" fill="#e08358"/><path d="M441.9,304.4 Q447.7,297.8 451.9,290.6" stroke="#f7c6b4" stroke-width="1.5" fill="none"/><path d="M443.3,305.6 Q449.2,299.2 456.0,294.2" stroke="#f7c6b4" stroke-width="1.5" fill="none"/><circle cx="439.7" cy="308.2" r="4.8" fill="#e08358"/><path d="M517.4,305.3 Q511.5,298.9 504.7,293.9" stroke="#f7c6b4" stroke-width="1.5" fill="none"/><path d="M518.8,304.1 Q513.0,297.5 508.8,290.3" stroke="#f7c6b4" stroke-width="1.5" fill="none"/><circle cx="521.0" cy="307.9" r="4.8" fill="#e08358"/><path d="M525.7,298.8 Q520.6,291.7 514.5,285.9" stroke="#f7c6b4" stroke-width="1.5" fill="none"/><path d="M527.2,297.7 Q522.2,290.5 518.9,282.8" stroke="#f7c6b4" stroke-width="1.5" fill="none"/><circle cx="528.9" cy="301.8" r="4.8" fill="#e08358"/><path d="M534.6,293.6 Q530.4,285.9 525.0,279.5" stroke="#f7c6b4" stroke-width="1.5" fill="none"/><path d="M536.2,292.8 Q532.2,285.0 529.8,276.9" stroke="#f7c6b4" stroke-width="1.5" fill="none"/><circle cx="537.4" cy="297.0" r="4.8" fill="#e08358"/><path d="M544.1,289.9 Q540.9,281.8 536.3,274.7" stroke="#f7c6b4" stroke-width="1.5" fill="none"/><path d="M545.8,289.2 Q542.8,281.1 541.4,272.7" stroke="#f7c6b4" stroke-width="1.5" fill="none"/><circle cx="546.5" cy="293.6" r="4.8" fill="#e08358"/><path d="M553.3,287.3 Q551.1,278.9 547.4,271.3" stroke="#f7c6b4" stroke-width="1.5" fill="none"/><path d="M555.0,286.9 Q553.0,278.4 552.7,270.0" stroke="#f7c6b4" stroke-width="1.5" fill="none"/><circle cx="555.2" cy="291.3" r="4.8" fill="#e08358"/><path d="M563.0,285.4 Q561.8,276.8 559.1,268.8" stroke="#f7c6b4" stroke-width="1.5" fill="none"/><path d="M564.8,285.2 Q563.8,276.5 564.5,268.1" stroke="#f7c6b4" stroke-width="1.5" fill="none"/><circle cx="564.4" cy="289.6" r="4.8" fill="#e08358"/><path d="M573.0,284.7 Q572.9,275.9 571.2,267.7" stroke="#f7c6b4" stroke-width="1.5" fill="none"/><path d="M574.8,284.7 Q574.9,275.9 576.6,267.7" stroke="#f7c6b4" stroke-width="1.5" fill="none"/><circle cx="573.9" cy="289.0" r="4.8" fill="#e08358"/><path d="M582.5,284.7 Q582.4,275.9 580.6,267.7" stroke="#f7c6b4" stroke-width="1.5" fill="none"/><path d="M584.2,284.7 Q584.4,275.9 586.1,267.7" stroke="#f7c6b4" stroke-width="1.5" fill="none"/><circle cx="583.4" cy="289.0" r="4.8" fill="#e08358"/><path d="M591.9,284.7 Q591.8,275.9 590.1,267.7" stroke="#f7c6b4" stroke-width="1.5" fill="none"/><path d="M593.7,284.7 Q593.8,275.9 595.5,267.7" stroke="#f7c6b4" stroke-width="1.5" fill="none"/><circle cx="592.8" cy="289.0" r="4.8" fill="#e08358"/><path d="M601.4,284.7 Q601.2,275.9 599.5,267.7" stroke="#f7c6b4" stroke-width="1.5" fill="none"/><path d="M603.1,284.7 Q603.2,275.9 605.0,267.7" stroke="#f7c6b4" stroke-width="1.5" fill="none"/><circle cx="602.2" cy="289.0" r="4.8" fill="#e08358"/><path d="M610.8,284.7 Q610.7,275.9 609.0,267.7" stroke="#f7c6b4" stroke-width="1.5" fill="none"/><path d="M612.6,284.7 Q612.7,275.9 614.4,267.7" stroke="#f7c6b4" stroke-width="1.5" fill="none"/><circle cx="611.7" cy="289.0" r="4.8" fill="#e08358"/><path d="M620.2,284.7 Q620.1,275.9 618.4,267.7" stroke="#f7c6b4" stroke-width="1.5" fill="none"/><path d="M622.0,284.7 Q622.1,275.9 623.9,267.7" stroke="#f7c6b4" stroke-width="1.5" fill="none"/><circle cx="621.1" cy="289.0" r="4.8" fill="#e08358"/><path d="M629.7,284.7 Q629.6,275.9 627.9,267.7" stroke="#f7c6b4" stroke-width="1.5" fill="none"/><path d="M631.5,284.7 Q631.6,275.9 633.3,267.7" stroke="#f7c6b4" stroke-width="1.5" fill="none"/><circle cx="630.6" cy="289.0" r="4.8" fill="#e08358"/><path d="M639.1,284.7 Q639.0,275.9 637.3,267.7" stroke="#f7c6b4" stroke-width="1.5" fill="none"/><path d="M640.9,284.7 Q641.0,275.9 642.8,267.7" stroke="#f7c6b4" stroke-width="1.5" fill="none"/><circle cx="640.0" cy="289.0" r="4.8" fill="#e08358"/><path d="M648.6,284.7 Q648.5,275.9 646.8,267.7" stroke="#f7c6b4" stroke-width="1.5" fill="none"/><path d="M650.4,284.7 Q650.5,275.9 652.2,267.7" stroke="#f7c6b4" stroke-width="1.5" fill="none"/><circle cx="649.5" cy="289.0" r="4.8" fill="#e08358"/><path d="M658.0,284.7 Q657.9,275.9 656.2,267.7" stroke="#f7c6b4" stroke-width="1.5" fill="none"/><path d="M659.8,284.7 Q659.9,275.9 661.6,267.7" stroke="#f7c6b4" stroke-width="1.5" fill="none"/><circle cx="658.9" cy="289.0" r="4.8" fill="#e08358"/><path d="M667.5,284.7 Q667.4,275.9 665.7,267.7" stroke="#f7c6b4" stroke-width="1.5" fill="none"/><path d="M669.3,284.7 Q669.4,275.9 671.1,267.7" stroke="#f7c6b4" stroke-width="1.5" fill="none"/><circle cx="668.4" cy="289.0" r="4.8" fill="#e08358"/><path d="M676.9,284.7 Q676.8,275.9 675.1,267.7" stroke="#f7c6b4" stroke-width="1.5" fill="none"/><path d="M678.7,284.7 Q678.8,275.9 680.5,267.7" stroke="#f7c6b4" stroke-width="1.5" fill="none"/><circle cx="677.8" cy="289.0" r="4.8" fill="#e08358"/><path d="M686.4,284.7 Q686.3,275.9 684.6,267.7" stroke="#f7c6b4" stroke-width="1.5" fill="none"/><path d="M688.2,284.7 Q688.3,275.9 690.0,267.7" stroke="#f7c6b4" stroke-width="1.5" fill="none"/><circle cx="687.3" cy="289.0" r="4.8" fill="#e08358"/><path d="M695.9,284.7 Q695.8,275.9 694.0,267.7" stroke="#f7c6b4" stroke-width="1.5" fill="none"/><path d="M697.6,284.7 Q697.8,275.9 699.5,267.7" stroke="#f7c6b4" stroke-width="1.5" fill="none"/><circle cx="696.8" cy="289.0" r="4.8" fill="#e08358"/><path d="M705.3,284.7 Q705.2,275.9 703.5,267.7" stroke="#f7c6b4" stroke-width="1.5" fill="none"/><path d="M707.1,284.7 Q707.2,275.9 708.9,267.7" stroke="#f7c6b4" stroke-width="1.5" fill="none"/><circle cx="706.2" cy="289.0" r="4.8" fill="#e08358"/><path d="M714.8,284.7 Q714.6,275.9 712.9,267.7" stroke="#f7c6b4" stroke-width="1.5" fill="none"/><path d="M716.5,284.7 Q716.6,275.9 718.4,267.7" stroke="#f7c6b4" stroke-width="1.5" fill="none"/><circle cx="715.6" cy="289.0" r="4.8" fill="#e08358"/><path d="M724.2,284.7 Q724.1,275.9 722.4,267.7" stroke="#f7c6b4" stroke-width="1.5" fill="none"/><path d="M726.0,284.7 Q726.1,275.9 727.8,267.7" stroke="#f7c6b4" stroke-width="1.5" fill="none"/><circle cx="725.1" cy="289.0" r="4.8" fill="#e08358"/><path d="M733.6,284.7 Q733.5,275.9 731.8,267.7" stroke="#f7c6b4" stroke-width="1.5" fill="none"/><path d="M735.4,284.7 Q735.5,275.9 737.2,267.7" stroke="#f7c6b4" stroke-width="1.5" fill="none"/><circle cx="734.5" cy="289.0" r="4.8" fill="#e08358"/><path d="M743.1,284.7 Q743.0,275.9 741.3,267.7" stroke="#f7c6b4" stroke-width="1.5" fill="none"/><path d="M744.9,284.7 Q745.0,275.9 746.7,267.7" stroke="#f7c6b4" stroke-width="1.5" fill="none"/><circle cx="744.0" cy="289.0" r="4.8" fill="#e08358"/><path d="M752.5,284.7 Q752.4,275.9 750.7,267.7" stroke="#f7c6b4" stroke-width="1.5" fill="none"/><path d="M754.3,284.7 Q754.4,275.9 756.1,267.7" stroke="#f7c6b4" stroke-width="1.5" fill="none"/><circle cx="753.4" cy="289.0" r="4.8" fill="#e08358"/><path d="M762.0,284.7 Q761.9,275.9 760.2,267.7" stroke="#f7c6b4" stroke-width="1.5" fill="none"/><path d="M763.8,284.7 Q763.9,275.9 765.6,267.7" stroke="#f7c6b4" stroke-width="1.5" fill="none"/><circle cx="762.9" cy="289.0" r="4.8" fill="#e08358"/><path d="M771.4,284.7 Q771.3,275.9 769.6,267.7" stroke="#f7c6b4" stroke-width="1.5" fill="none"/><path d="M773.2,284.7 Q773.3,275.9 775.0,267.7" stroke="#f7c6b4" stroke-width="1.5" fill="none"/><circle cx="772.3" cy="289.0" r="4.8" fill="#e08358"/><path d="M780.9,284.7 Q780.8,275.9 779.1,267.7" stroke="#f7c6b4" stroke-width="1.5" fill="none"/><path d="M782.7,284.7 Q782.8,275.9 784.5,267.7" stroke="#f7c6b4" stroke-width="1.5" fill="none"/><circle cx="781.8" cy="289.0" r="4.8" fill="#e08358"/><path d="M445.0,318.3 Q449.5,311.8 452.4,304.6" stroke="#f7c6b4" stroke-width="1.5" fill="none"/><path d="M446.5,319.4 Q451.2,312.9 456.9,307.7" stroke="#f7c6b4" stroke-width="1.5" fill="none"/><circle cx="443.3" cy="322.4" r="4.8" fill="#e08358"/><path d="M459.3,318.0 Q459.9,310.1 458.8,302.4" stroke="#f7c6b4" stroke-width="1.5" fill="none"/><path d="M461.1,318.2 Q461.9,310.2 464.2,302.9" stroke="#f7c6b4" stroke-width="1.5" fill="none"/><circle cx="459.8" cy="322.4" r="4.8" fill="#e08358"/><path d="M499.7,316.8 Q498.9,308.8 496.6,301.5" stroke="#f7c6b4" stroke-width="1.5" fill="none"/><path d="M501.5,316.6 Q500.9,308.7 502.0,301.0" stroke="#f7c6b4" stroke-width="1.5" fill="none"/><circle cx="501.0" cy="321.0" r="4.8" fill="#e08358"/><path d="M518.5,318.6 Q511.2,315.3 503.7,313.7" stroke="#f7c6b4" stroke-width="1.5" fill="none"/><path d="M519.3,317.0 Q512.1,313.5 506.0,308.8" stroke="#f7c6b4" stroke-width="1.5" fill="none"/><circle cx="522.8" cy="319.6" r="4.8" fill="#e08358"/><path d="M440.0,162.4 Q443.2,170.2 447.8,177.0" stroke="#f7c6b4" stroke-width="1.5" fill="none"/><path d="M438.3,163.0 Q441.4,170.9 442.8,179.0" stroke="#f7c6b4" stroke-width="1.5" fill="none"/><circle cx="437.5" cy="158.7" r="4.8" fill="#e08358"/><path d="M423.5,181.8 Q422.9,190.2 423.9,198.4" stroke="#f7c6b4" stroke-width="1.5" fill="none"/><path d="M421.7,181.6 Q420.9,190.1 418.5,197.9" stroke="#f7c6b4" stroke-width="1.5" fill="none"/><circle cx="423.0" cy="177.4" r="4.8" fill="#e08358"/><path d="M459.3,198.5 Q462.3,206.4 466.7,213.3" stroke="#f7c6b4" stroke-width="1.5" fill="none"/><path d="M457.6,199.1 Q460.4,207.1 461.6,215.2" stroke="#f7c6b4" stroke-width="1.5" fill="none"/><circle cx="457.0" cy="194.7" r="4.8" fill="#e08358"/><path d="M502.1,160.0 Q510.4,161.7 518.6,161.7" stroke="#f7c6b4" stroke-width="1.5" fill="none"/><path d="M501.7,161.8 Q510.0,163.6 517.5,167.0" stroke="#f7c6b4" stroke-width="1.5" fill="none"/><circle cx="497.7" cy="160.0" r="4.8" fill="#e08358"/><path d="M499.7,178.3 Q499.6,186.8 501.0,194.9" stroke="#f7c6b4" stroke-width="1.5" fill="none"/><path d="M497.9,178.3 Q497.6,186.8 495.6,194.7" stroke="#f7c6b4" stroke-width="1.5" fill="none"/><circle cx="499.0" cy="174.0" r="4.8" fill="#e08358"/><path d="M524.1,178.2 Q524.9,186.7 527.3,194.5" stroke="#f7c6b4" stroke-width="1.5" fill="none"/><path d="M522.3,178.4 Q522.9,186.8 521.9,195.0" stroke="#f7c6b4" stroke-width="1.5" fill="none"/><circle cx="522.8" cy="174.0" r="4.8" fill="#e08358"/><path d="M545.2,192.3 Q537.3,195.3 530.4,199.7" stroke="#f7c6b4" stroke-width="1.5" fill="none"/><path d="M544.6,190.6 Q536.6,193.4 528.5,194.6" stroke="#f7c6b4" stroke-width="1.5" fill="none"/><circle cx="549.0" cy="190.0" r="4.8" fill="#e08358"/><path d="M509.9,202.5 Q510.7,211.0 513.1,218.8" stroke="#f7c6b4" stroke-width="1.5" fill="none"/><path d="M508.1,202.7 Q508.7,211.1 507.7,219.3" stroke="#f7c6b4" stroke-width="1.5" fill="none"/><circle cx="508.6" cy="198.3" r="4.8" fill="#e08358"/><path d="M574.5,198.4 Q573.2,206.8 573.4,215.0" stroke="#f7c6b4" stroke-width="1.5" fill="none"/><path d="M572.8,198.1 Q571.2,206.4 568.1,214.0" stroke="#f7c6b4" stroke-width="1.5" fill="none"/><circle cx="574.4" cy="194.0" r="4.8" fill="#e08358"/>
<defs>
<linearGradient id="ba" x1="0" y1="193" x2="0" y2="300" gradientUnits="userSpaceOnUse">
<stop offset="0" stop-color="#7fd6f8" stop-opacity="0"/><stop offset="0.35" stop-color="#9fe0fa" stop-opacity="0.75"/><stop offset="1" stop-color="#7fd4f7" stop-opacity="1"/></linearGradient></defs>
<path d="M476.5,193 L483.7,193 L483.7,286.6 L487.8,286.6 L480.1,301 L472.2,286.6 L476.5,286.6 Z" fill="url(#ba)"/>
<path d="M441.1,193 L448.1,192.5 Q460.5,240 465.4,286 L468.6,285.5 L460.6,300.4 L452.6,287.3 L459.2,286.6 Q454,240 441.1,193 Z" fill="url(#ba)"/>
<path d="M518.9,195 L511.9,194.5 Q499.5,240 494.6,286 L491.4,285.5 L499.4,300.4 L507.4,287.3 L500.8,286.6 Q506,240 518.9,195 Z" fill="url(#ba)"/>
<path d="M105.04,212.98 A5.76,6.32 0 0 0 116.56,212.98 A14.40,8.10 0 1 1 105.04,212.98 Z" fill="#1e6d16"/>
<path d="M149.98,242.96 A5.72,6.16 0 0 0 161.42,242.96 A14.30,7.90 0 1 1 149.98,242.96 Z" fill="#5b2c86"/>
<path d="M195.58,253.11 A5.72,6.12 0 0 0 207.02,253.11 A14.30,7.85 0 1 1 195.58,253.11 Z" fill="#f6b417"/>
<path d="M240.50,259.41 A5.70,6.12 0 0 0 251.90,259.41 A14.25,7.85 0 1 1 240.50,259.41 Z" fill="#e6bcdc"/>
<path d="M285.86,252.90 A5.74,6.04 0 0 0 297.34,252.90 A14.35,7.75 0 1 1 285.86,252.90 Z" fill="#b97fa6"/>
<path d="M331.30,241.74 A5.70,6.01 0 0 0 342.70,241.74 A14.25,7.70 0 1 1 331.30,241.74 Z" fill="#d8561b"/>
<ellipse cx="84" cy="209.8" rx="7.7" ry="12.3" transform="rotate(-22 84 209.8)" fill="#4aab22"/><circle cx="91.7" cy="207.3" r="3.7" fill="#4aab22"/>
<ellipse cx="54" cy="305.2" rx="9.7" ry="5.7" fill="#4aab22"/><circle cx="53.8" cy="299.2" r="3" fill="#4aab22"/><path d="M48.5,301.2 Q51,300.2 51.2,298.2 L56.4,298.2 Q56.8,300.2 59.5,301.2 Z" fill="#4aab22"/>
<path d="M145.24,297.31 A4.56,4.76 0 0 0 154.36,297.31 A11.40,6.10 0 1 1 145.24,297.31 Z" fill="#1e6d16"/>
<path d="M242.14,297.31 A4.56,4.76 0 0 0 251.26,297.31 A11.40,6.10 0 1 1 242.14,297.31 Z" fill="#5b2c86"/>
<path d="M339.44,297.30 A4.56,4.68 0 0 0 348.56,297.30 A11.40,6.00 0 1 1 339.44,297.30 Z" fill="#f6b417"/>
<path d="M562.48,297.16 A4.52,4.80 0 0 0 571.52,297.16 A11.30,6.15 0 1 1 562.48,297.16 Z" fill="#e6bcdc"/>
<path d="M627.32,297.16 A4.48,4.80 0 0 0 636.28,297.16 A11.20,6.15 0 1 1 627.32,297.16 Z" fill="#b97fa6"/>
<path d="M692.44,297.16 A4.56,4.80 0 0 0 701.56,297.16 A11.40,6.15 0 1 1 692.44,297.16 Z" fill="#d8561b"/>
<path d="M757.22,297.16 A4.48,4.80 0 0 0 766.18,297.16 A11.20,6.15 0 1 1 757.22,297.16 Z" fill="#b9d8f0"/>
<text x="53.2" y="323.3" font-size="10.1" font-weight="bold" text-anchor="middle" fill="#000" >CYP51</text>
<text x="149.6" y="323.3" font-size="10.1" font-weight="bold" text-anchor="middle" fill="#000" >Lanosterol</text>
<text x="566.4" y="323.3" font-size="10.1" font-weight="bold" text-anchor="middle" fill="#000" >Zymosterol</text>
<text x="631.3" y="323.3" font-size="10.1" font-weight="bold" text-anchor="middle" fill="#000" >Fecosterol</text>
<text x="696.7" y="323.3" font-size="10.1" font-weight="bold" text-anchor="middle" fill="#000" >Episterol</text>
<text x="761.6" y="323.3" font-size="10.1" font-weight="bold" text-anchor="middle" fill="#000" >Ergosterol</text>
<text x="246.3" y="323.0" font-size="10.1" font-weight="bold" text-anchor="middle" fill="#000" >4,4-Dimethylcholesta-</text>
<text x="246.3" y="335.3" font-size="10.1" font-weight="bold" text-anchor="middle" fill="#000" >8,12,24-trend</text>
<text x="342.3" y="323.0" font-size="10.1" font-weight="bold" text-anchor="middle" fill="#000" >Dimethyl-</text>
<text x="343.8" y="335.3" font-size="10.1" font-weight="bold" text-anchor="middle" fill="#000" >zymosterol</text>
<path d="M133,220.5 L143.2,230.7 M143.2,220.5 L133,230.7" stroke="#b04a55" stroke-width="1.1" fill="none"/>
<defs><marker id="ah" viewBox="0 0 10 10" refX="7" refY="5" markerWidth="9.5" markerHeight="8.6" orient="auto" markerUnits="userSpaceOnUse"><path d="M0,0.8 L10,5 L0,9.2 Z" fill="#222"/></marker></defs>
<path d="M111.6,229 Q118,241.5 134.5,246.2" stroke="#222" stroke-width="1" fill="none" marker-end="url(#ah)"/>
<path d="M161.3,258.6 Q172,262.5 182,262.2" stroke="#222" stroke-width="1" fill="none" marker-end="url(#ah)"/>
<path d="M212,268.1 Q221,271.5 230,271" stroke="#222" stroke-width="1" fill="none" marker-end="url(#ah)"/>
<path d="M260.5,272.3 Q270,272.8 278.5,268.3" stroke="#222" stroke-width="1" fill="none" marker-end="url(#ah)"/>
<path d="M305.5,266.8 Q316,266 324.3,256.3" stroke="#222" stroke-width="1" fill="none" marker-end="url(#ah)"/>
<path d="M351,250.4 Q369,246 379.3,229.5" stroke="#222" stroke-width="1" fill="none" marker-end="url(#ah)"/>
<text x="199.8" y="126.4" font-size="11.4" font-weight="bold" text-anchor="start" fill="#000" >1) Release of FLC</text>
<text x="122.9" y="173.0" font-size="11.4" font-weight="bold" text-anchor="start" fill="#000" >2) Inhibition of CYP51</text>
<text x="155.2" y="221.4" font-size="11.5" font-weight="bold" text-anchor="start" fill="#000" >3) Blocking of ergosterol biosynthesis</text>
<text x="402.0" y="146.7" font-size="11.4" font-weight="bold" text-anchor="start" fill="#000" >4) Damage of membrane</text>
<text x="117.2" y="126.9" font-size="10.9" font-weight="bold" text-anchor="start" fill="#000" >FLC</text>
<text x="301.0" y="105.7" font-size="10.9" font-weight="bold" text-anchor="start" fill="#000" >A1</text>
<rect x="-25" y="-6" width="50" height="12" rx="6" transform="translate(165.7,123.3) rotate(33.5)" fill="#72dde1" stroke="#5ccfd6" stroke-width="0.6"/>
<rect x="-17.6" y="-5.6" width="35.2" height="11.2" rx="5.6" transform="translate(286.5,80.9) rotate(-41)" fill="#0a97cf" stroke="#0a8cc4" stroke-width="0.5"/>
<rect x="-26.3" y="-5.6" width="52.6" height="11.2" rx="5.6" transform="translate(290.1,93.4) rotate(-41)" fill="#7fe0e2" stroke="#5ccfd6" stroke-width="0.6"/>
<defs><linearGradient id="ga" x1="266" y1="0" x2="180" y2="0" gradientUnits="userSpaceOnUse"><stop offset="0" stop-color="#111" stop-opacity="0.15"/><stop offset="0.35" stop-color="#111" stop-opacity="0.85"/><stop offset="1" stop-color="#111"/></linearGradient></defs><path d="M265.6,93.2 Q216,91.5 181.6,108.4 L182.6,110.4 Q216,93.3 265.6,93.6 Z" fill="url(#ga)"/>
<path d="M174,113.9 L181.5,104.2 L185.9,112.8 Z" fill="#111"/>
<defs><linearGradient id="gi" x1="0" y1="130" x2="0" y2="206" gradientUnits="userSpaceOnUse"><stop offset="0" stop-color="#111" stop-opacity="0.1"/><stop offset="0.3" stop-color="#111" stop-opacity="0.8"/><stop offset="0.6" stop-color="#111"/></linearGradient></defs><path d="M141.5,130.2 C113.5,149.5 104.2,178 102.1,205.5 L104.3,205.5 C106.4,178 116,151 141.5,130.2 Z" fill="url(#gi)" stroke="url(#gi)" stroke-width="0.4"/>
<path d="M97.3,205.6 L108.8,206.6" stroke="#111" stroke-width="1.6"/>
<polygon points="187.8,81.9 196.7,86.4 249.3,59.1 242.3,54" fill="#d6e5f6"/>
<polygon points="174.5,70.5 234.1,42.6 243.6,43.2 181.5,73" fill="#6b6b6b"/>
<polygon points="174.5,70.5 181.5,73 180,84.7 172.4,79.4" fill="#3a3a3a"/>
<polygon points="181.5,73 243.6,43.2 239.8,54 180,84.7" fill="#3d3d48"/>
<polygon points="234.1,42.6 243.6,43.2 239.8,54 236.5,47" fill="#4a4a4a"/>
<path d="M184,76 L237.2,50.4" stroke="#3f3fd9" stroke-width="3.2" stroke-linecap="round"/>
<path d="M183.4,80.6 L236,55.4" stroke="#3f3fd9" stroke-width="3.2" stroke-linecap="round"/>
<path d="M185,75 L236.5,50.2" stroke="#8c8cf2" stroke-width="0.9"/>
<path d="M184.4,79.6 L235.4,55.2" stroke="#8c8cf2" stroke-width="0.9"/>
<circle cx="184.2" cy="75.6" r="1.2" fill="#dde"/><circle cx="183.6" cy="79.9" r="1.2" fill="#dde"/><circle cx="236.4" cy="50.4" r="1.2" fill="#dde"/><circle cx="235.2" cy="55.3" r="1.2" fill="#dde"/>
<path d="M208.7,58 L217,54.1" stroke="#333" stroke-width="0.9"/>
<polygon points="213.8,69.9 230.9,69.2 228.1,74 242.6,73.4 240,77.8 258.8,77.2 233.4,85.3 236.6,79.6 220.8,82.5 223.6,77.5 210,76.8" fill="#f08712"/>
<line x1="77.3" y1="25.1" x2="87.7" y2="24.1" stroke="#2b2b2b" stroke-width="1.15" stroke-linecap="round"/>
<line x1="87.7" y1="24.1" x2="93.2" y2="36.6" stroke="#2b2b2b" stroke-width="1.15" stroke-linecap="round"/>
<line x1="86.1" y1="26.2" x2="90.6" y2="36.4" stroke="#2b2b2b" stroke-width="1.15"/>
<line x1="91.9" y1="42.2" x2="83.8" y2="48.8" stroke="#2b2b2b" stroke-width="1.15" stroke-linecap="round"/>
<line x1="78.5" y1="48.5" x2="68.8" y2="38.8" stroke="#2b2b2b" stroke-width="1.15" stroke-linecap="round"/>
<line x1="68.8" y1="38.8" x2="72.0" y2="28.9" stroke="#2b2b2b" stroke-width="1.15" stroke-linecap="round"/>
<line x1="71.3" y1="38.3" x2="73.8" y2="30.7" stroke="#2b2b2b" stroke-width="1.15"/>
<text x="73.1" y="29.0" font-size="10.6" text-anchor="middle" fill="#2b2b2b">N</text>
<text x="94.6" y="43.5" font-size="10.6" text-anchor="middle" fill="#2b2b2b">N</text>
<text x="81.1" y="54.7" font-size="10.6" text-anchor="middle" fill="#2b2b2b">N</text>
<line x1="81.3" y1="55.5" x2="81.7" y2="64.6" stroke="#2b2b2b" stroke-width="1.15" stroke-linecap="round"/>
<line x1="81.7" y1="64.6" x2="95.7" y2="73.3" stroke="#2b2b2b" stroke-width="1.15" stroke-linecap="round"/>
<line x1="95.7" y1="73.3" x2="109.7" y2="65.7" stroke="#2b2b2b" stroke-width="1.15" stroke-linecap="round"/>
<line x1="109.7" y1="65.7" x2="119.8" y2="73.3" stroke="#2b2b2b" stroke-width="1.15" stroke-linecap="round"/>
<line x1="95.7" y1="73.3" x2="95.7" y2="63.6" stroke="#2b2b2b" stroke-width="1.15" stroke-linecap="round"/>
<text x="95.3" y="61.8" font-size="10.6" text-anchor="middle" fill="#2b2b2b">OH</text>
<line x1="126.0" y1="74.0" x2="135.5" y2="69.9" stroke="#2b2b2b" stroke-width="1.15" stroke-linecap="round"/>
<line x1="141.1" y1="71.3" x2="149.2" y2="80.8" stroke="#2b2b2b" stroke-width="1.15" stroke-linecap="round"/>
<line x1="149.2" y1="80.8" x2="142.9" y2="90.7" stroke="#2b2b2b" stroke-width="1.15" stroke-linecap="round"/>
<line x1="137.5" y1="92.8" x2="124.8" y2="89.4" stroke="#2b2b2b" stroke-width="1.15" stroke-linecap="round"/>
<line x1="124.8" y1="89.4" x2="123.3" y2="79.8" stroke="#2b2b2b" stroke-width="1.15" stroke-linecap="round"/>
<line x1="140.1" y1="73.7" x2="146.6" y2="81.4" stroke="#2b2b2b" stroke-width="1.15"/>
<line x1="136.9" y1="90.3" x2="126.6" y2="87.5" stroke="#2b2b2b" stroke-width="1.15"/>
<text x="122.7" y="79.0" font-size="10.6" text-anchor="middle" fill="#2b2b2b">N</text>
<text x="138.8" y="72.1" font-size="10.6" text-anchor="middle" fill="#2b2b2b">N</text>
<text x="141.0" y="97.3" font-size="10.6" text-anchor="middle" fill="#2b2b2b">N</text>
<line x1="95.7" y1="73.3" x2="95.7" y2="91.6" stroke="#2b2b2b" stroke-width="1.15" stroke-linecap="round"/>
<line x1="95.7" y1="91.6" x2="81.7" y2="99.1" stroke="#2b2b2b" stroke-width="1.15" stroke-linecap="round"/>
<line x1="81.7" y1="99.1" x2="81.7" y2="115.3" stroke="#2b2b2b" stroke-width="1.15" stroke-linecap="round"/>
<line x1="81.7" y1="115.3" x2="95.7" y2="123.2" stroke="#2b2b2b" stroke-width="1.15" stroke-linecap="round"/>
<line x1="95.7" y1="123.2" x2="109.7" y2="115.3" stroke="#2b2b2b" stroke-width="1.15" stroke-linecap="round"/>
<line x1="109.7" y1="115.3" x2="109.7" y2="99.1" stroke="#2b2b2b" stroke-width="1.15" stroke-linecap="round"/>
<line x1="109.7" y1="99.1" x2="95.7" y2="91.6" stroke="#2b2b2b" stroke-width="1.15" stroke-linecap="round"/>
<line x1="84.0" y1="100.9" x2="84.0" y2="113.5" stroke="#2b2b2b" stroke-width="1.15"/>
<line x1="96.1" y1="120.4" x2="107.0" y2="114.2" stroke="#2b2b2b" stroke-width="1.15"/>
<line x1="107.0" y1="100.3" x2="96.2" y2="94.5" stroke="#2b2b2b" stroke-width="1.15"/>
<line x1="81.7" y1="99.1" x2="70.3" y2="93.2" stroke="#2b2b2b" stroke-width="1.15" stroke-linecap="round"/>
<text x="67.1" y="95.2" font-size="10.6" text-anchor="middle" fill="#2b2b2b">F</text>
<line x1="95.7" y1="123.2" x2="95.4" y2="135.0" stroke="#2b2b2b" stroke-width="1.15" stroke-linecap="round"/>
<text x="95.3" y="143.7" font-size="10.6" text-anchor="middle" fill="#2b2b2b">F</text>
<polygon points="79.3,582 79.3,462.4 159.6,390 159.6,489.1" fill="#e2f4f3" stroke="#9aa" stroke-width="0.6"/>
<rect x="159.6" y="390" width="198.7" height="99.1" fill="#fdfcd8" stroke="#9aa" stroke-width="0.6"/>
<polygon points="79.3,582 159.6,489.1 358.3,489.1 317.7,582" fill="#efefef" stroke="#9aa" stroke-width="0.5"/>
<path d="M157.1,494.9 L157.6,494.9 L158.0,494.9 L158.5,494.9 L159.0,494.9 L159.5,494.9 L159.9,494.9 L160.4,494.9 L160.9,494.9 L161.3,494.9 L161.8,494.9 L162.3,494.9 L162.8,494.9 L163.2,494.9 L163.7,494.9 L164.2,494.9 L164.6,494.9 L165.1,494.9 L165.6,494.9 L166.1,494.9 L166.5,494.9 L167.0,494.9 L167.5,494.9 L167.9,494.9 L168.4,494.9 L168.9,494.9 L169.4,494.9 L169.8,494.9 L170.3,494.9 L170.8,494.9 L171.2,494.9 L171.7,494.9 L172.2,494.9 L172.7,494.9 L173.1,494.9 L173.6,494.9 L174.1,494.9 L174.5,494.9 L175.0,494.9 L175.5,494.9 L176.0,494.9 L176.4,494.9 L176.9,494.9 L177.4,494.9 L177.8,494.9 L178.3,494.9 L178.8,494.9 L179.3,494.9 L179.7,494.9 L180.2,494.9 L180.7,494.9 L181.1,494.9 L181.6,494.9 L182.1,494.9 L182.6,494.9 L183.0,494.9 L183.5,494.9 L184.0,494.9 L184.4,494.9 L184.9,494.9 L185.4,494.9 L185.9,494.9 L186.3,494.9 L186.8,494.9 L187.3,494.9 L187.7,494.9 L188.2,494.9 L188.7,494.9 L189.2,494.9 L189.6,494.9 L190.1,494.9 L190.6,494.9 L191.0,494.9 L191.5,494.9 L192.0,494.9 L192.5,494.9 L192.9,494.9 L193.4,494.9 L193.9,494.9 L194.3,494.9 L194.8,494.9 L195.3,494.9 L195.8,494.9 L196.2,494.9 L196.7,494.9 L197.2,494.9 L197.6,494.9 L198.1,494.9 L198.6,494.9 L199.1,494.9 L199.5,494.9 L200.0,494.9 L200.5,494.9 L200.9,494.9 L201.4,494.9 L201.9,494.9 L202.4,494.9 L202.8,494.9 L203.3,494.9 L203.8,494.9 L204.2,494.8 L204.7,494.4 L205.2,493.7 L205.7,492.3 L206.1,490.9 L206.6,490.3 L207.1,490.9 L207.5,492.3 L208.0,493.7 L208.5,494.4 L209.0,494.8 L209.4,494.9 L209.9,494.9 L210.4,494.9 L210.8,494.9 L211.3,494.9 L211.8,494.9 L212.3,494.9 L212.7,494.9 L213.2,494.9 L213.7,494.9 L214.1,494.9 L214.6,494.9 L215.1,494.9 L215.6,494.9 L216.0,494.9 L216.5,494.9 L217.0,494.9 L217.4,494.9 L217.9,494.9 L218.4,494.9 L218.9,494.8 L219.3,494.5 L219.8,494.2 L220.3,494.1 L220.7,494.3 L221.2,494.6 L221.7,494.8 L222.2,494.9 L222.6,494.9 L223.1,494.9 L223.6,494.9 L224.0,494.9 L224.5,494.9 L225.0,494.9 L225.5,494.9 L225.9,494.9 L226.4,494.9 L226.9,494.9 L227.3,494.9 L227.8,494.9 L228.3,494.9 L228.8,494.9 L229.2,494.9 L229.7,494.9 L230.2,494.9 L230.6,494.9 L231.1,494.9 L231.6,494.9 L232.1,494.8 L232.5,494.5 L233.0,493.7 L233.5,492.2 L233.9,490.2 L234.4,489.0 L234.9,489.3 L235.4,490.9 L235.8,492.8 L236.3,494.1 L236.8,494.6 L237.2,494.8 L237.7,494.9 L238.2,494.9 L238.7,494.9 L239.1,494.9 L239.6,494.9 L240.1,494.9 L240.5,494.9 L241.0,494.9 L241.5,494.9 L242.0,494.9 L242.4,494.9 L242.9,494.9 L243.4,494.9 L243.8,494.9 L244.3,494.9 L244.8,494.9 L245.3,494.9 L245.7,494.9 L246.2,494.9 L246.7,494.9 L247.1,494.9 L247.6,494.9 L248.1,494.9 L248.6,494.7 L249.0,494.3 L249.5,493.2 L250.0,491.3 L250.4,489.4 L250.9,488.6 L251.4,489.5 L251.9,491.4 L252.3,493.2 L252.8,494.3 L253.3,494.7 L253.7,494.9 L254.2,494.9 L254.7,494.9 L255.2,494.9 L255.6,494.9 L256.1,494.9 L256.6,494.9 L257.0,494.9 L257.5,494.9 L258.0,494.9 L258.5,494.9 L258.9,494.9 L259.4,494.9 L259.9,494.9 L260.3,494.9 L260.8,494.9 L261.3,494.9 L261.8,494.9 L262.2,494.9 L262.7,494.9 L263.2,494.9 L263.6,494.9 L264.1,494.9 L264.6,494.9 L265.1,494.9 L265.5,494.9 L266.0,494.9 L266.5,494.9 L266.9,494.9 L267.4,494.9 L267.9,494.9 L268.4,494.9 L268.8,494.9 L269.3,494.9 L269.8,494.9 L270.2,494.9 L270.7,494.8 L271.2,494.7 L271.7,494.6 L272.1,494.4 L272.6,493.9 L273.1,493.0 L273.5,490.7 L274.0,484.9 L274.5,472.1 L275.0,450.8 L275.4,425.1 L275.9,406.4 L276.4,405.4 L276.8,422.4 L277.3,447.3 L277.8,468.5 L278.3,481.5 L278.7,487.8 L279.2,490.5 L279.7,491.9 L280.1,492.8 L280.6,493.4 L281.1,493.9 L281.6,494.3 L282.0,494.5 L282.5,494.7 L283.0,494.8 L283.4,494.8 L283.9,494.9 L284.4,494.9 L284.9,494.9 L285.3,494.9 L285.8,494.9 L286.3,494.9 L286.7,494.9 L287.2,494.9 L287.7,494.9 L288.2,494.9 L288.6,494.9 L289.1,494.9 L289.6,494.9 L290.0,494.9 L290.5,494.9 L291.0,494.9 L291.5,494.9 L291.9,494.9 L292.4,494.9 L292.9,494.9 L293.3,494.9 L293.8,494.9 L294.3,494.9 L294.8,494.9 L295.2,494.9 L295.7,494.9 L296.2,494.9 L296.6,494.9 L297.1,494.9 L297.6,494.9 L298.1,494.9 L298.5,494.9 L299.0,494.9 L299.5,494.9 L299.9,494.9 L300.4,494.9 L300.9,494.9 L301.4,494.9 L301.8,494.9 L302.3,494.9 L302.8,494.9 L303.2,494.9 L303.7,494.9 L304.2,494.9 L304.7,494.9 L305.1,494.9 L305.6,494.9 L306.1,494.9 L306.5,494.9 L307.0,494.9 L307.5,494.9 L308.0,494.9 L308.4,494.9 L308.9,494.9 L309.4,494.9 L309.8,494.9 L310.3,494.9 L310.8,494.9 L311.3,494.9 L311.7,494.9 L312.2,494.9 L312.7,494.9 L313.1,494.9 L313.6,494.9 L314.1,494.9 L314.6,494.9 L315.0,494.9 L315.5,494.9 L316.0,494.9 L316.4,494.9 L316.9,494.9 L317.4,494.9 L317.9,494.9 L318.3,494.9 L318.8,494.9 L319.3,494.9 L319.7,494.9 L320.2,494.9 L320.7,494.9 L321.2,494.9 L321.6,494.9 L322.1,494.9 L322.6,494.9 L323.0,494.9 L323.5,494.9 L324.0,494.9 L324.5,494.9 L324.9,494.9 L325.4,494.9 L325.9,494.9 L326.3,494.9 L326.8,494.9 L327.3,494.9 L327.8,494.9 L328.2,494.9 L328.7,494.9 L329.2,494.9 L329.6,494.9 L330.1,494.9 L330.6,494.9 L331.1,494.9 L331.5,494.9 L332.0,494.9 L332.5,494.9 L332.9,494.9 L333.4,494.9 L333.9,494.9 L334.4,494.9 L334.8,494.9 L335.3,494.9 L335.8,494.9 L336.2,494.9 L336.7,494.9 L337.2,494.9 L337.7,494.9 L338.1,494.9 L338.6,494.9 L339.1,494.9 L339.5,494.9 L340.0,494.9 L340.5,494.9 L341.0,494.9 L341.4,494.9 L341.9,494.9 L342.4,494.9 L342.8,494.9 L343.3,494.9 L343.8,494.9 L344.3,494.9 L344.7,494.9 L345.2,494.9 L345.7,494.9 L346.1,494.9 L346.6,494.9 L347.1,494.9 L347.6,494.9 L348.0,494.9 L348.5,494.9 L349.0,494.9 L349.4,494.9 L349.9,494.9 L350.4,494.9 L350.9,494.9 L351.3,494.9 L351.8,494.9 L352.3,494.9 L352.7,494.9 L353.2,494.9 L353.7,494.9 L354.2,494.9 L354.6,494.9 L355.1,494.9 L355.1,496.6 L157.1,496.6 Z" fill="#fff" stroke="none"/>
<path d="M157.1,494.9 L157.6,494.9 L158.0,494.9 L158.5,494.9 L159.0,494.9 L159.5,494.9 L159.9,494.9 L160.4,494.9 L160.9,494.9 L161.3,494.9 L161.8,494.9 L162.3,494.9 L162.8,494.9 L163.2,494.9 L163.7,494.9 L164.2,494.9 L164.6,494.9 L165.1,494.9 L165.6,494.9 L166.1,494.9 L166.5,494.9 L167.0,494.9 L167.5,494.9 L167.9,494.9 L168.4,494.9 L168.9,494.9 L169.4,494.9 L169.8,494.9 L170.3,494.9 L170.8,494.9 L171.2,494.9 L171.7,494.9 L172.2,494.9 L172.7,494.9 L173.1,494.9 L173.6,494.9 L174.1,494.9 L174.5,494.9 L175.0,494.9 L175.5,494.9 L176.0,494.9 L176.4,494.9 L176.9,494.9 L177.4,494.9 L177.8,494.9 L178.3,494.9 L178.8,494.9 L179.3,494.9 L179.7,494.9 L180.2,494.9 L180.7,494.9 L181.1,494.9 L181.6,494.9 L182.1,494.9 L182.6,494.9 L183.0,494.9 L183.5,494.9 L184.0,494.9 L184.4,494.9 L184.9,494.9 L185.4,494.9 L185.9,494.9 L186.3,494.9 L186.8,494.9 L187.3,494.9 L187.7,494.9 L188.2,494.9 L188.7,494.9 L189.2,494.9 L189.6,494.9 L190.1,494.9 L190.6,494.9 L191.0,494.9 L191.5,494.9 L192.0,494.9 L192.5,494.9 L192.9,494.9 L193.4,494.9 L193.9,494.9 L194.3,494.9 L194.8,494.9 L195.3,494.9 L195.8,494.9 L196.2,494.9 L196.7,494.9 L197.2,494.9 L197.6,494.9 L198.1,494.9 L198.6,494.9 L199.1,494.9 L199.5,494.9 L200.0,494.9 L200.5,494.9 L200.9,494.9 L201.4,494.9 L201.9,494.9 L202.4,494.9 L202.8,494.9 L203.3,494.9 L203.8,494.9 L204.2,494.8 L204.7,494.4 L205.2,493.7 L205.7,492.3 L206.1,490.9 L206.6,490.3 L207.1,490.9 L207.5,492.3 L208.0,493.7 L208.5,494.4 L209.0,494.8 L209.4,494.9 L209.9,494.9 L210.4,494.9 L210.8,494.9 L211.3,494.9 L211.8,494.9 L212.3,494.9 L212.7,494.9 L213.2,494.9 L213.7,494.9 L214.1,494.9 L214.6,494.9 L215.1,494.9 L215.6,494.9 L216.0,494.9 L216.5,494.9 L217.0,494.9 L217.4,494.9 L217.9,494.9 L218.4,494.9 L218.9,494.8 L219.3,494.5 L219.8,494.2 L220.3,494.1 L220.7,494.3 L221.2,494.6 L221.7,494.8 L222.2,494.9 L222.6,494.9 L223.1,494.9 L223.6,494.9 L224.0,494.9 L224.5,494.9 L225.0,494.9 L225.5,494.9 L225.9,494.9 L226.4,494.9 L226.9,494.9 L227.3,494.9 L227.8,494.9 L228.3,494.9 L228.8,494.9 L229.2,494.9 L229.7,494.9 L230.2,494.9 L230.6,494.9 L231.1,494.9 L231.6,494.9 L232.1,494.8 L232.5,494.5 L233.0,493.7 L233.5,492.2 L233.9,490.2 L234.4,489.0 L234.9,489.3 L235.4,490.9 L235.8,492.8 L236.3,494.1 L236.8,494.6 L237.2,494.8 L237.7,494.9 L238.2,494.9 L238.7,494.9 L239.1,494.9 L239.6,494.9 L240.1,494.9 L240.5,494.9 L241.0,494.9 L241.5,494.9 L242.0,494.9 L242.4,494.9 L242.9,494.9 L243.4,494.9 L243.8,494.9 L244.3,494.9 L244.8,494.9 L245.3,494.9 L245.7,494.9 L246.2,494.9 L246.7,494.9 L247.1,494.9 L247.6,494.9 L248.1,494.9 L248.6,494.7 L249.0,494.3 L249.5,493.2 L250.0,491.3 L250.4,489.4 L250.9,488.6 L251.4,489.5 L251.9,491.4 L252.3,493.2 L252.8,494.3 L253.3,494.7 L253.7,494.9 L254.2,494.9 L254.7,494.9 L255.2,494.9 L255.6,494.9 L256.1,494.9 L256.6,494.9 L257.0,494.9 L257.5,494.9 L258.0,494.9 L258.5,494.9 L258.9,494.9 L259.4,494.9 L259.9,494.9 L260.3,494.9 L260.8,494.9 L261.3,494.9 L261.8,494.9 L262.2,494.9 L262.7,494.9 L263.2,494.9 L263.6,494.9 L264.1,494.9 L264.6,494.9 L265.1,494.9 L265.5,494.9 L266.0,494.9 L266.5,494.9 L266.9,494.9 L267.4,494.9 L267.9,494.9 L268.4,494.9 L268.8,494.9 L269.3,494.9 L269.8,494.9 L270.2,494.9 L270.7,494.8 L271.2,494.7 L271.7,494.6 L272.1,494.4 L272.6,493.9 L273.1,493.0 L273.5,490.7 L274.0,484.9 L274.5,472.1 L275.0,450.8 L275.4,425.1 L275.9,406.4 L276.4,405.4 L276.8,422.4 L277.3,447.3 L277.8,468.5 L278.3,481.5 L278.7,487.8 L279.2,490.5 L279.7,491.9 L280.1,492.8 L280.6,493.4 L281.1,493.9 L281.6,494.3 L282.0,494.5 L282.5,494.7 L283.0,494.8 L283.4,494.8 L283.9,494.9 L284.4,494.9 L284.9,494.9 L285.3,494.9 L285.8,494.9 L286.3,494.9 L286.7,494.9 L287.2,494.9 L287.7,494.9 L288.2,494.9 L288.6,494.9 L289.1,494.9 L289.6,494.9 L290.0,494.9 L290.5,494.9 L291.0,494.9 L291.5,494.9 L291.9,494.9 L292.4,494.9 L292.9,494.9 L293.3,494.9 L293.8,494.9 L294.3,494.9 L294.8,494.9 L295.2,494.9 L295.7,494.9 L296.2,494.9 L296.6,494.9 L297.1,494.9 L297.6,494.9 L298.1,494.9 L298.5,494.9 L299.0,494.9 L299.5,494.9 L299.9,494.9 L300.4,494.9 L300.9,494.9 L301.4,494.9 L301.8,494.9 L302.3,494.9 L302.8,494.9 L303.2,494.9 L303.7,494.9 L304.2,494.9 L304.7,494.9 L305.1,494.9 L305.6,494.9 L306.1,494.9 L306.5,494.9 L307.0,494.9 L307.5,494.9 L308.0,494.9 L308.4,494.9 L308.9,494.9 L309.4,494.9 L309.8,494.9 L310.3,494.9 L310.8,494.9 L311.3,494.9 L311.7,494.9 L312.2,494.9 L312.7,494.9 L313.1,494.9 L313.6,494.9 L314.1,494.9 L314.6,494.9 L315.0,494.9 L315.5,494.9 L316.0,494.9 L316.4,494.9 L316.9,494.9 L317.4,494.9 L317.9,494.9 L318.3,494.9 L318.8,494.9 L319.3,494.9 L319.7,494.9 L320.2,494.9 L320.7,494.9 L321.2,494.9 L321.6,494.9 L322.1,494.9 L322.6,494.9 L323.0,494.9 L323.5,494.9 L324.0,494.9 L324.5,494.9 L324.9,494.9 L325.4,494.9 L325.9,494.9 L326.3,494.9 L326.8,494.9 L327.3,494.9 L327.8,494.9 L328.2,494.9 L328.7,494.9 L329.2,494.9 L329.6,494.9 L330.1,494.9 L330.6,494.9 L331.1,494.9 L331.5,494.9 L332.0,494.9 L332.5,494.9 L332.9,494.9 L333.4,494.9 L333.9,494.9 L334.4,494.9 L334.8,494.9 L335.3,494.9 L335.8,494.9 L336.2,494.9 L336.7,494.9 L337.2,494.9 L337.7,494.9 L338.1,494.9 L338.6,494.9 L339.1,494.9 L339.5,494.9 L340.0,494.9 L340.5,494.9 L341.0,494.9 L341.4,494.9 L341.9,494.9 L342.4,494.9 L342.8,494.9 L343.3,494.9 L343.8,494.9 L344.3,494.9 L344.7,494.9 L345.2,494.9 L345.7,494.9 L346.1,494.9 L346.6,494.9 L347.1,494.9 L347.6,494.9 L348.0,494.9 L348.5,494.9 L349.0,494.9 L349.4,494.9 L349.9,494.9 L350.4,494.9 L350.9,494.9 L351.3,494.9 L351.8,494.9 L352.3,494.9 L352.7,494.9 L353.2,494.9 L353.7,494.9 L354.2,494.9 L354.6,494.9 L355.1,494.9" fill="none" stroke="#ec6fdc" stroke-width="0.8" stroke-linejoin="round"/>
<path d="M143.9,508.6 L144.4,508.6 L144.9,508.6 L145.4,508.6 L145.9,508.6 L146.4,508.6 L146.9,508.6 L147.4,508.6 L147.9,508.6 L148.3,508.6 L148.8,508.6 L149.3,508.6 L149.8,508.6 L150.3,508.6 L150.8,508.6 L151.3,508.6 L151.8,508.6 L152.3,508.6 L152.8,508.6 L153.3,508.6 L153.8,508.6 L154.3,508.6 L154.8,508.6 L155.3,508.6 L155.8,508.6 L156.3,508.6 L156.8,508.6 L157.2,508.6 L157.7,508.6 L158.2,508.6 L158.7,508.6 L159.2,508.6 L159.7,508.6 L160.2,508.6 L160.7,508.6 L161.2,508.6 L161.7,508.6 L162.2,508.6 L162.7,508.6 L163.2,508.6 L163.7,508.6 L164.2,508.6 L164.7,508.6 L165.2,508.6 L165.6,508.6 L166.1,508.6 L166.6,508.6 L167.1,508.6 L167.6,508.6 L168.1,508.6 L168.6,508.6 L169.1,508.6 L169.6,508.6 L170.1,508.6 L170.6,508.6 L171.1,508.6 L171.6,508.6 L172.1,508.6 L172.6,508.6 L173.1,508.6 L173.6,508.6 L174.1,508.6 L174.5,508.6 L175.0,508.6 L175.5,508.6 L176.0,508.6 L176.5,508.6 L177.0,508.6 L177.5,508.6 L178.0,508.6 L178.5,508.6 L179.0,508.6 L179.5,508.6 L180.0,508.6 L180.5,508.6 L181.0,508.6 L181.5,508.6 L182.0,508.6 L182.5,508.6 L182.9,508.6 L183.4,508.4 L183.9,508.1 L184.4,507.6 L184.9,507.0 L185.4,506.8 L185.9,507.0 L186.4,507.6 L186.9,508.1 L187.4,508.4 L187.9,508.6 L188.4,508.6 L188.9,508.6 L189.4,508.6 L189.9,508.6 L190.4,508.6 L190.9,508.6 L191.4,508.6 L191.8,508.6 L192.3,508.6 L192.8,508.6 L193.3,508.6 L193.8,508.6 L194.3,508.6 L194.8,508.5 L195.3,508.4 L195.8,508.2 L196.3,507.8 L196.8,507.5 L197.3,507.4 L197.8,507.7 L198.3,508.1 L198.8,508.4 L199.3,508.5 L199.8,508.6 L200.2,508.6 L200.7,508.6 L201.2,508.6 L201.7,508.6 L202.2,508.6 L202.7,508.6 L203.2,508.6 L203.7,508.6 L204.2,508.6 L204.7,508.6 L205.2,508.6 L205.7,508.6 L206.2,508.6 L206.7,508.6 L207.2,508.6 L207.7,508.6 L208.2,508.6 L208.7,508.6 L209.1,508.6 L209.6,508.6 L210.1,508.6 L210.6,508.6 L211.1,508.6 L211.6,508.6 L212.1,508.6 L212.6,508.6 L213.1,508.6 L213.6,508.6 L214.1,508.6 L214.6,508.6 L215.1,508.6 L215.6,508.6 L216.1,508.6 L216.6,508.6 L217.1,508.6 L217.5,508.6 L218.0,508.6 L218.5,508.6 L219.0,508.6 L219.5,508.6 L220.0,508.6 L220.5,508.6 L221.0,508.6 L221.5,508.6 L222.0,508.5 L222.5,508.3 L223.0,507.8 L223.5,506.8 L224.0,505.0 L224.5,502.8 L225.0,501.0 L225.5,500.4 L226.0,501.4 L226.4,503.5 L226.9,505.6 L227.4,507.2 L227.9,508.0 L228.4,508.4 L228.9,508.6 L229.4,508.6 L229.9,508.6 L230.4,508.6 L230.9,508.6 L231.4,508.6 L231.9,508.6 L232.4,508.6 L232.9,508.6 L233.4,508.6 L233.9,508.6 L234.4,508.6 L234.8,508.6 L235.3,508.6 L235.8,508.6 L236.3,508.6 L236.8,508.6 L237.3,508.6 L237.8,508.6 L238.3,508.6 L238.8,508.5 L239.3,508.4 L239.8,507.9 L240.3,506.9 L240.8,505.1 L241.3,502.8 L241.8,500.8 L242.3,500.0 L242.8,500.9 L243.3,502.9 L243.7,505.2 L244.2,506.9 L244.7,507.9 L245.2,508.4 L245.7,508.5 L246.2,508.6 L246.7,508.6 L247.2,508.6 L247.7,508.6 L248.2,508.6 L248.7,508.6 L249.2,508.6 L249.7,508.6 L250.2,508.6 L250.7,508.6 L251.2,508.6 L251.7,508.6 L252.1,508.6 L252.6,508.6 L253.1,508.6 L253.6,508.6 L254.1,508.6 L254.6,508.6 L255.1,508.6 L255.6,508.6 L256.1,508.6 L256.6,508.6 L257.1,508.6 L257.6,508.6 L258.1,508.6 L258.6,508.6 L259.1,508.6 L259.6,508.6 L260.1,508.6 L260.6,508.6 L261.0,508.6 L261.5,508.6 L262.0,508.5 L262.5,508.4 L263.0,508.3 L263.5,508.1 L264.0,507.8 L264.5,507.3 L265.0,506.3 L265.5,504.2 L266.0,499.3 L266.5,488.8 L267.0,470.7 L267.5,446.5 L268.0,424.5 L268.5,415.1 L269.0,423.4 L269.4,444.4 L269.9,467.8 L270.4,485.5 L270.9,495.9 L271.4,500.9 L271.9,503.4 L272.4,504.8 L272.9,505.8 L273.4,506.6 L273.9,507.3 L274.4,507.7 L274.9,508.1 L275.4,508.3 L275.9,508.4 L276.4,508.5 L276.9,508.5 L277.4,508.6 L277.9,508.6 L278.3,508.6 L278.8,508.6 L279.3,508.6 L279.8,508.6 L280.3,508.6 L280.8,508.6 L281.3,508.6 L281.8,508.6 L282.3,508.6 L282.8,508.6 L283.3,508.6 L283.8,508.6 L284.3,508.6 L284.8,508.6 L285.3,508.6 L285.8,508.6 L286.3,508.6 L286.7,508.6 L287.2,508.6 L287.7,508.6 L288.2,508.6 L288.7,508.6 L289.2,508.6 L289.7,508.6 L290.2,508.6 L290.7,508.6 L291.2,508.6 L291.7,508.6 L292.2,508.6 L292.7,508.6 L293.2,508.6 L293.7,508.6 L294.2,508.6 L294.7,508.6 L295.2,508.6 L295.6,508.6 L296.1,508.6 L296.6,508.6 L297.1,508.6 L297.6,508.6 L298.1,508.6 L298.6,508.6 L299.1,508.6 L299.6,508.6 L300.1,508.6 L300.6,508.6 L301.1,508.6 L301.6,508.6 L302.1,508.6 L302.6,508.6 L303.1,508.6 L303.6,508.6 L304.0,508.6 L304.5,508.6 L305.0,508.6 L305.5,508.6 L306.0,508.6 L306.5,508.6 L307.0,508.6 L307.5,508.6 L308.0,508.6 L308.5,508.6 L309.0,508.6 L309.5,508.6 L310.0,508.6 L310.5,508.6 L311.0,508.6 L311.5,508.6 L312.0,508.6 L312.5,508.6 L312.9,508.6 L313.4,508.6 L313.9,508.6 L314.4,508.6 L314.9,508.6 L315.4,508.6 L315.9,508.6 L316.4,508.6 L316.9,508.6 L317.4,508.6 L317.9,508.6 L318.4,508.6 L318.9,508.6 L319.4,508.6 L319.9,508.6 L320.4,508.6 L320.9,508.6 L321.3,508.6 L321.8,508.6 L322.3,508.6 L322.8,508.6 L323.3,508.6 L323.8,508.6 L324.3,508.6 L324.8,508.6 L325.3,508.6 L325.8,508.6 L326.3,508.6 L326.8,508.6 L327.3,508.6 L327.8,508.6 L328.3,508.6 L328.8,508.6 L329.3,508.6 L329.8,508.6 L330.2,508.6 L330.7,508.6 L331.2,508.6 L331.7,508.6 L332.2,508.6 L332.7,508.6 L333.2,508.6 L333.7,508.6 L334.2,508.6 L334.7,508.6 L335.2,508.6 L335.7,508.6 L336.2,508.6 L336.7,508.6 L337.2,508.6 L337.7,508.6 L338.2,508.6 L338.6,508.6 L339.1,508.6 L339.6,508.6 L340.1,508.6 L340.6,508.6 L341.1,508.6 L341.6,508.6 L342.1,508.6 L342.6,508.6 L343.1,508.6 L343.6,508.6 L344.1,508.6 L344.6,508.6 L345.1,508.6 L345.6,508.6 L346.1,508.6 L346.6,508.6 L347.1,508.6 L347.5,508.6 L348.0,508.6 L348.5,508.6 L349.0,508.6 L349.5,508.6 L350.0,508.6 L350.5,508.6 L351.0,508.6 L351.5,508.6 L351.5,510.3 L143.9,510.3 Z" fill="#fff" stroke="none"/>
<path d="M143.9,508.6 L144.4,508.6 L144.9,508.6 L145.4,508.6 L145.9,508.6 L146.4,508.6 L146.9,508.6 L147.4,508.6 L147.9,508.6 L148.3,508.6 L148.8,508.6 L149.3,508.6 L149.8,508.6 L150.3,508.6 L150.8,508.6 L151.3,508.6 L151.8,508.6 L152.3,508.6 L152.8,508.6 L153.3,508.6 L153.8,508.6 L154.3,508.6 L154.8,508.6 L155.3,508.6 L155.8,508.6 L156.3,508.6 L156.8,508.6 L157.2,508.6 L157.7,508.6 L158.2,508.6 L158.7,508.6 L159.2,508.6 L159.7,508.6 L160.2,508.6 L160.7,508.6 L161.2,508.6 L161.7,508.6 L162.2,508.6 L162.7,508.6 L163.2,508.6 L163.7,508.6 L164.2,508.6 L164.7,508.6 L165.2,508.6 L165.6,508.6 L166.1,508.6 L166.6,508.6 L167.1,508.6 L167.6,508.6 L168.1,508.6 L168.6,508.6 L169.1,508.6 L169.6,508.6 L170.1,508.6 L170.6,508.6 L171.1,508.6 L171.6,508.6 L172.1,508.6 L172.6,508.6 L173.1,508.6 L173.6,508.6 L174.1,508.6 L174.5,508.6 L175.0,508.6 L175.5,508.6 L176.0,508.6 L176.5,508.6 L177.0,508.6 L177.5,508.6 L178.0,508.6 L178.5,508.6 L179.0,508.6 L179.5,508.6 L180.0,508.6 L180.5,508.6 L181.0,508.6 L181.5,508.6 L182.0,508.6 L182.5,508.6 L182.9,508.6 L183.4,508.4 L183.9,508.1 L184.4,507.6 L184.9,507.0 L185.4,506.8 L185.9,507.0 L186.4,507.6 L186.9,508.1 L187.4,508.4 L187.9,508.6 L188.4,508.6 L188.9,508.6 L189.4,508.6 L189.9,508.6 L190.4,508.6 L190.9,508.6 L191.4,508.6 L191.8,508.6 L192.3,508.6 L192.8,508.6 L193.3,508.6 L193.8,508.6 L194.3,508.6 L194.8,508.5 L195.3,508.4 L195.8,508.2 L196.3,507.8 L196.8,507.5 L197.3,507.4 L197.8,507.7 L198.3,508.1 L198.8,508.4 L199.3,508.5 L199.8,508.6 L200.2,508.6 L200.7,508.6 L201.2,508.6 L201.7,508.6 L202.2,508.6 L202.7,508.6 L203.2,508.6 L203.7,508.6 L204.2,508.6 L204.7,508.6 L205.2,508.6 L205.7,508.6 L206.2,508.6 L206.7,508.6 L207.2,508.6 L207.7,508.6 L208.2,508.6 L208.7,508.6 L209.1,508.6 L209.6,508.6 L210.1,508.6 L210.6,508.6 L211.1,508.6 L211.6,508.6 L212.1,508.6 L212.6,508.6 L213.1,508.6 L213.6,508.6 L214.1,508.6 L214.6,508.6 L215.1,508.6 L215.6,508.6 L216.1,508.6 L216.6,508.6 L217.1,508.6 L217.5,508.6 L218.0,508.6 L218.5,508.6 L219.0,508.6 L219.5,508.6 L220.0,508.6 L220.5,508.6 L221.0,508.6 L221.5,508.6 L222.0,508.5 L222.5,508.3 L223.0,507.8 L223.5,506.8 L224.0,505.0 L224.5,502.8 L225.0,501.0 L225.5,500.4 L226.0,501.4 L226.4,503.5 L226.9,505.6 L227.4,507.2 L227.9,508.0 L228.4,508.4 L228.9,508.6 L229.4,508.6 L229.9,508.6 L230.4,508.6 L230.9,508.6 L231.4,508.6 L231.9,508.6 L232.4,508.6 L232.9,508.6 L233.4,508.6 L233.9,508.6 L234.4,508.6 L234.8,508.6 L235.3,508.6 L235.8,508.6 L236.3,508.6 L236.8,508.6 L237.3,508.6 L237.8,508.6 L238.3,508.6 L238.8,508.5 L239.3,508.4 L239.8,507.9 L240.3,506.9 L240.8,505.1 L241.3,502.8 L241.8,500.8 L242.3,500.0 L242.8,500.9 L243.3,502.9 L243.7,505.2 L244.2,506.9 L244.7,507.9 L245.2,508.4 L245.7,508.5 L246.2,508.6 L246.7,508.6 L247.2,508.6 L247.7,508.6 L248.2,508.6 L248.7,508.6 L249.2,508.6 L249.7,508.6 L250.2,508.6 L250.7,508.6 L251.2,508.6 L251.7,508.6 L252.1,508.6 L252.6,508.6 L253.1,508.6 L253.6,508.6 L254.1,508.6 L254.6,508.6 L255.1,508.6 L255.6,508.6 L256.1,508.6 L256.6,508.6 L257.1,508.6 L257.6,508.6 L258.1,508.6 L258.6,508.6 L259.1,508.6 L259.6,508.6 L260.1,508.6 L260.6,508.6 L261.0,508.6 L261.5,508.6 L262.0,508.5 L262.5,508.4 L263.0,508.3 L263.5,508.1 L264.0,507.8 L264.5,507.3 L265.0,506.3 L265.5,504.2 L266.0,499.3 L266.5,488.8 L267.0,470.7 L267.5,446.5 L268.0,424.5 L268.5,415.1 L269.0,423.4 L269.4,444.4 L269.9,467.8 L270.4,485.5 L270.9,495.9 L271.4,500.9 L271.9,503.4 L272.4,504.8 L272.9,505.8 L273.4,506.6 L273.9,507.3 L274.4,507.7 L274.9,508.1 L275.4,508.3 L275.9,508.4 L276.4,508.5 L276.9,508.5 L277.4,508.6 L277.9,508.6 L278.3,508.6 L278.8,508.6 L279.3,508.6 L279.8,508.6 L280.3,508.6 L280.8,508.6 L281.3,508.6 L281.8,508.6 L282.3,508.6 L282.8,508.6 L283.3,508.6 L283.8,508.6 L284.3,508.6 L284.8,508.6 L285.3,508.6 L285.8,508.6 L286.3,508.6 L286.7,508.6 L287.2,508.6 L287.7,508.6 L288.2,508.6 L288.7,508.6 L289.2,508.6 L289.7,508.6 L290.2,508.6 L290.7,508.6 L291.2,508.6 L291.7,508.6 L292.2,508.6 L292.7,508.6 L293.2,508.6 L293.7,508.6 L294.2,508.6 L294.7,508.6 L295.2,508.6 L295.6,508.6 L296.1,508.6 L296.6,508.6 L297.1,508.6 L297.6,508.6 L298.1,508.6 L298.6,508.6 L299.1,508.6 L299.6,508.6 L300.1,508.6 L300.6,508.6 L301.1,508.6 L301.6,508.6 L302.1,508.6 L302.6,508.6 L303.1,508.6 L303.6,508.6 L304.0,508.6 L304.5,508.6 L305.0,508.6 L305.5,508.6 L306.0,508.6 L306.5,508.6 L307.0,508.6 L307.5,508.6 L308.0,508.6 L308.5,508.6 L309.0,508.6 L309.5,508.6 L310.0,508.6 L310.5,508.6 L311.0,508.6 L311.5,508.6 L312.0,508.6 L312.5,508.6 L312.9,508.6 L313.4,508.6 L313.9,508.6 L314.4,508.6 L314.9,508.6 L315.4,508.6 L315.9,508.6 L316.4,508.6 L316.9,508.6 L317.4,508.6 L317.9,508.6 L318.4,508.6 L318.9,508.6 L319.4,508.6 L319.9,508.6 L320.4,508.6 L320.9,508.6 L321.3,508.6 L321.8,508.6 L322.3,508.6 L322.8,508.6 L323.3,508.6 L323.8,508.6 L324.3,508.6 L324.8,508.6 L325.3,508.6 L325.8,508.6 L326.3,508.6 L326.8,508.6 L327.3,508.6 L327.8,508.6 L328.3,508.6 L328.8,508.6 L329.3,508.6 L329.8,508.6 L330.2,508.6 L330.7,508.6 L331.2,508.6 L331.7,508.6 L332.2,508.6 L332.7,508.6 L333.2,508.6 L333.7,508.6 L334.2,508.6 L334.7,508.6 L335.2,508.6 L335.7,508.6 L336.2,508.6 L336.7,508.6 L337.2,508.6 L337.7,508.6 L338.2,508.6 L338.6,508.6 L339.1,508.6 L339.6,508.6 L340.1,508.6 L340.6,508.6 L341.1,508.6 L341.6,508.6 L342.1,508.6 L342.6,508.6 L343.1,508.6 L343.6,508.6 L344.1,508.6 L344.6,508.6 L345.1,508.6 L345.6,508.6 L346.1,508.6 L346.6,508.6 L347.1,508.6 L347.5,508.6 L348.0,508.6 L348.5,508.6 L349.0,508.6 L349.5,508.6 L350.0,508.6 L350.5,508.6 L351.0,508.6 L351.5,508.6" fill="none" stroke="#7fe8ec" stroke-width="0.8" stroke-linejoin="round"/>
<path d="M130.5,523.2 L131.0,523.2 L131.5,523.2 L132.0,523.2 L132.5,523.2 L133.1,523.2 L133.6,523.2 L134.1,523.2 L134.6,523.2 L135.1,523.2 L135.6,523.2 L136.1,523.2 L136.6,523.2 L137.1,523.2 L137.7,523.2 L138.2,523.2 L138.7,523.2 L139.2,523.2 L139.7,523.2 L140.2,523.2 L140.7,523.2 L141.2,523.2 L141.7,523.2 L142.2,523.2 L142.8,523.2 L143.3,523.2 L143.8,523.2 L144.3,523.2 L144.8,523.2 L145.3,523.2 L145.8,523.2 L146.3,523.2 L146.8,523.2 L147.4,523.2 L147.9,523.2 L148.4,523.2 L148.9,523.2 L149.4,523.2 L149.9,523.2 L150.4,523.2 L150.9,523.2 L151.4,523.2 L151.9,523.2 L152.5,523.2 L153.0,523.2 L153.5,523.2 L154.0,523.2 L154.5,523.2 L155.0,523.2 L155.5,523.2 L156.0,523.2 L156.5,523.2 L157.1,523.2 L157.6,523.2 L158.1,523.2 L158.6,523.2 L159.1,523.2 L159.6,523.2 L160.1,523.2 L160.6,523.2 L161.1,523.2 L161.7,523.2 L162.2,523.2 L162.7,523.2 L163.2,523.2 L163.7,523.2 L164.2,523.2 L164.7,523.2 L165.2,523.2 L165.7,523.2 L166.2,523.2 L166.8,523.2 L167.3,523.2 L167.8,523.2 L168.3,523.2 L168.8,523.2 L169.3,523.2 L169.8,523.2 L170.3,523.2 L170.8,523.2 L171.4,523.2 L171.9,523.2 L172.4,523.2 L172.9,523.2 L173.4,523.2 L173.9,523.2 L174.4,523.2 L174.9,523.2 L175.4,523.2 L176.0,523.2 L176.5,523.2 L177.0,523.2 L177.5,523.2 L178.0,523.2 L178.5,523.2 L179.0,523.2 L179.5,523.2 L180.0,523.2 L180.6,523.2 L181.1,523.2 L181.6,523.2 L182.1,523.2 L182.6,523.1 L183.1,522.8 L183.6,522.2 L184.1,521.5 L184.6,520.8 L185.1,520.8 L185.7,521.3 L186.2,522.1 L186.7,522.7 L187.2,523.1 L187.7,523.2 L188.2,523.2 L188.7,523.2 L189.2,523.2 L189.7,523.2 L190.3,523.2 L190.8,523.2 L191.3,523.2 L191.8,523.2 L192.3,523.2 L192.8,523.2 L193.3,523.2 L193.8,523.2 L194.3,523.0 L194.8,522.7 L195.4,522.2 L195.9,521.5 L196.4,521.2 L196.9,521.4 L197.4,522.0 L197.9,522.6 L198.4,523.0 L198.9,523.1 L199.4,523.2 L200.0,523.2 L200.5,523.2 L201.0,523.2 L201.5,523.2 L202.0,523.2 L202.5,523.2 L203.0,523.2 L203.5,523.2 L204.0,523.2 L204.6,523.2 L205.1,523.2 L205.6,523.2 L206.1,523.2 L206.6,523.2 L207.1,523.2 L207.6,523.2 L208.1,523.2 L208.6,523.2 L209.2,523.2 L209.7,523.2 L210.2,523.2 L210.7,523.2 L211.2,523.2 L211.7,523.2 L212.2,523.0 L212.7,522.5 L213.2,521.4 L213.7,519.3 L214.3,516.2 L214.8,512.9 L215.3,510.7 L215.8,510.9 L216.3,513.3 L216.8,516.7 L217.3,519.7 L217.8,521.7 L218.3,522.6 L218.9,523.0 L219.4,523.2 L219.9,523.2 L220.4,523.2 L220.9,523.2 L221.4,523.2 L221.9,523.2 L222.4,523.2 L222.9,523.2 L223.4,523.2 L224.0,523.2 L224.5,523.2 L225.0,523.2 L225.5,523.2 L226.0,523.2 L226.5,523.2 L227.0,523.2 L227.5,523.2 L228.0,523.2 L228.6,523.2 L229.1,523.1 L229.6,522.9 L230.1,522.4 L230.6,521.1 L231.1,518.9 L231.6,516.1 L232.1,513.5 L232.6,512.4 L233.2,513.4 L233.7,515.9 L234.2,518.8 L234.7,521.0 L235.2,522.3 L235.7,522.9 L236.2,523.1 L236.7,523.2 L237.2,523.2 L237.8,523.2 L238.3,523.2 L238.8,523.2 L239.3,523.2 L239.8,523.2 L240.3,523.2 L240.8,523.2 L241.3,523.2 L241.8,523.2 L242.3,523.2 L242.9,523.2 L243.4,523.2 L243.9,523.2 L244.4,523.2 L244.9,523.2 L245.4,523.2 L245.9,523.2 L246.4,523.2 L246.9,523.2 L247.5,523.2 L248.0,523.2 L248.5,523.2 L249.0,523.2 L249.5,523.2 L250.0,523.2 L250.5,523.2 L251.0,523.2 L251.5,523.2 L252.1,523.2 L252.6,523.2 L253.1,523.1 L253.6,523.1 L254.1,523.0 L254.6,522.8 L255.1,522.6 L255.6,522.2 L256.1,521.4 L256.6,519.9 L257.2,516.4 L257.7,508.5 L258.2,493.8 L258.7,471.9 L259.2,447.4 L259.7,429.9 L260.2,428.0 L260.7,442.5 L261.2,465.7 L261.8,487.9 L262.3,503.4 L262.8,512.1 L263.3,516.4 L263.8,518.5 L264.3,519.8 L264.8,520.8 L265.3,521.5 L265.8,522.1 L266.4,522.5 L266.9,522.8 L267.4,522.9 L267.9,523.1 L268.4,523.1 L268.9,523.2 L269.4,523.2 L269.9,523.2 L270.4,523.2 L270.9,523.2 L271.5,523.2 L272.0,523.2 L272.5,523.2 L273.0,523.2 L273.5,523.2 L274.0,523.2 L274.5,523.2 L275.0,523.2 L275.5,523.2 L276.1,523.2 L276.6,523.2 L277.1,523.2 L277.6,523.2 L278.1,523.2 L278.6,523.2 L279.1,523.2 L279.6,523.2 L280.1,523.2 L280.6,523.2 L281.2,523.2 L281.7,523.2 L282.2,523.2 L282.7,523.2 L283.2,523.2 L283.7,523.2 L284.2,523.2 L284.7,523.2 L285.2,523.2 L285.8,523.2 L286.3,523.2 L286.8,523.2 L287.3,523.2 L287.8,523.2 L288.3,523.2 L288.8,523.2 L289.3,523.2 L289.8,523.2 L290.4,523.2 L290.9,523.2 L291.4,523.2 L291.9,523.2 L292.4,523.2 L292.9,523.2 L293.4,523.2 L293.9,523.2 L294.4,523.2 L294.9,523.2 L295.5,523.2 L296.0,523.2 L296.5,523.2 L297.0,523.2 L297.5,523.2 L298.0,523.2 L298.5,523.2 L299.0,523.2 L299.5,523.2 L300.1,523.2 L300.6,523.2 L301.1,523.2 L301.6,523.2 L302.1,523.2 L302.6,523.2 L303.1,523.2 L303.6,523.2 L304.1,523.2 L304.7,523.2 L305.2,523.2 L305.7,523.2 L306.2,523.2 L306.7,523.2 L307.2,523.2 L307.7,523.2 L308.2,523.2 L308.7,523.2 L309.2,523.2 L309.8,523.2 L310.3,523.2 L310.8,523.2 L311.3,523.2 L311.8,523.2 L312.3,523.2 L312.8,523.2 L313.3,523.2 L313.8,523.2 L314.4,523.2 L314.9,523.2 L315.4,523.2 L315.9,523.2 L316.4,523.1 L316.9,522.9 L317.4,522.6 L317.9,522.4 L318.4,522.4 L319.0,522.6 L319.5,522.9 L320.0,523.1 L320.5,523.2 L321.0,523.2 L321.5,523.2 L322.0,523.2 L322.5,523.2 L323.0,523.2 L323.6,523.2 L324.1,523.2 L324.6,523.2 L325.1,523.2 L325.6,523.2 L326.1,523.2 L326.6,523.2 L327.1,523.2 L327.6,523.2 L328.1,523.2 L328.7,523.2 L329.2,523.2 L329.7,523.2 L330.2,523.2 L330.7,523.2 L331.2,523.2 L331.7,523.2 L332.2,523.2 L332.7,523.2 L333.3,523.2 L333.8,523.2 L334.3,523.2 L334.8,523.2 L335.3,523.2 L335.8,523.2 L336.3,523.2 L336.8,523.2 L337.3,523.2 L337.9,523.2 L338.4,523.2 L338.9,523.2 L339.4,523.2 L339.9,523.2 L340.4,523.2 L340.9,523.2 L341.4,523.2 L341.9,523.2 L342.4,523.2 L343.0,523.2 L343.5,523.2 L344.0,523.2 L344.5,523.2 L345.0,523.2 L345.0,524.9 L130.5,524.9 Z" fill="#fff" stroke="none"/>
<path d="M130.5,523.2 L131.0,523.2 L131.5,523.2 L132.0,523.2 L132.5,523.2 L133.1,523.2 L133.6,523.2 L134.1,523.2 L134.6,523.2 L135.1,523.2 L135.6,523.2 L136.1,523.2 L136.6,523.2 L137.1,523.2 L137.7,523.2 L138.2,523.2 L138.7,523.2 L139.2,523.2 L139.7,523.2 L140.2,523.2 L140.7,523.2 L141.2,523.2 L141.7,523.2 L142.2,523.2 L142.8,523.2 L143.3,523.2 L143.8,523.2 L144.3,523.2 L144.8,523.2 L145.3,523.2 L145.8,523.2 L146.3,523.2 L146.8,523.2 L147.4,523.2 L147.9,523.2 L148.4,523.2 L148.9,523.2 L149.4,523.2 L149.9,523.2 L150.4,523.2 L150.9,523.2 L151.4,523.2 L151.9,523.2 L152.5,523.2 L153.0,523.2 L153.5,523.2 L154.0,523.2 L154.5,523.2 L155.0,523.2 L155.5,523.2 L156.0,523.2 L156.5,523.2 L157.1,523.2 L157.6,523.2 L158.1,523.2 L158.6,523.2 L159.1,523.2 L159.6,523.2 L160.1,523.2 L160.6,523.2 L161.1,523.2 L161.7,523.2 L162.2,523.2 L162.7,523.2 L163.2,523.2 L163.7,523.2 L164.2,523.2 L164.7,523.2 L165.2,523.2 L165.7,523.2 L166.2,523.2 L166.8,523.2 L167.3,523.2 L167.8,523.2 L168.3,523.2 L168.8,523.2 L169.3,523.2 L169.8,523.2 L170.3,523.2 L170.8,523.2 L171.4,523.2 L171.9,523.2 L172.4,523.2 L172.9,523.2 L173.4,523.2 L173.9,523.2 L174.4,523.2 L174.9,523.2 L175.4,523.2 L176.0,523.2 L176.5,523.2 L177.0,523.2 L177.5,523.2 L178.0,523.2 L178.5,523.2 L179.0,523.2 L179.5,523.2 L180.0,523.2 L180.6,523.2 L181.1,523.2 L181.6,523.2 L182.1,523.2 L182.6,523.1 L183.1,522.8 L183.6,522.2 L184.1,521.5 L184.6,520.8 L185.1,520.8 L185.7,521.3 L186.2,522.1 L186.7,522.7 L187.2,523.1 L187.7,523.2 L188.2,523.2 L188.7,523.2 L189.2,523.2 L189.7,523.2 L190.3,523.2 L190.8,523.2 L191.3,523.2 L191.8,523.2 L192.3,523.2 L192.8,523.2 L193.3,523.2 L193.8,523.2 L194.3,523.0 L194.8,522.7 L195.4,522.2 L195.9,521.5 L196.4,521.2 L196.9,521.4 L197.4,522.0 L197.9,522.6 L198.4,523.0 L198.9,523.1 L199.4,523.2 L200.0,523.2 L200.5,523.2 L201.0,523.2 L201.5,523.2 L202.0,523.2 L202.5,523.2 L203.0,523.2 L203.5,523.2 L204.0,523.2 L204.6,523.2 L205.1,523.2 L205.6,523.2 L206.1,523.2 L206.6,523.2 L207.1,523.2 L207.6,523.2 L208.1,523.2 L208.6,523.2 L209.2,523.2 L209.7,523.2 L210.2,523.2 L210.7,523.2 L211.2,523.2 L211.7,523.2 L212.2,523.0 L212.7,522.5 L213.2,521.4 L213.7,519.3 L214.3,516.2 L214.8,512.9 L215.3,510.7 L215.8,510.9 L216.3,513.3 L216.8,516.7 L217.3,519.7 L217.8,521.7 L218.3,522.6 L218.9,523.0 L219.4,523.2 L219.9,523.2 L220.4,523.2 L220.9,523.2 L221.4,523.2 L221.9,523.2 L222.4,523.2 L222.9,523.2 L223.4,523.2 L224.0,523.2 L224.5,523.2 L225.0,523.2 L225.5,523.2 L226.0,523.2 L226.5,523.2 L227.0,523.2 L227.5,523.2 L228.0,523.2 L228.6,523.2 L229.1,523.1 L229.6,522.9 L230.1,522.4 L230.6,521.1 L231.1,518.9 L231.6,516.1 L232.1,513.5 L232.6,512.4 L233.2,513.4 L233.7,515.9 L234.2,518.8 L234.7,521.0 L235.2,522.3 L235.7,522.9 L236.2,523.1 L236.7,523.2 L237.2,523.2 L237.8,523.2 L238.3,523.2 L238.8,523.2 L239.3,523.2 L239.8,523.2 L240.3,523.2 L240.8,523.2 L241.3,523.2 L241.8,523.2 L242.3,523.2 L242.9,523.2 L243.4,523.2 L243.9,523.2 L244.4,523.2 L244.9,523.2 L245.4,523.2 L245.9,523.2 L246.4,523.2 L246.9,523.2 L247.5,523.2 L248.0,523.2 L248.5,523.2 L249.0,523.2 L249.5,523.2 L250.0,523.2 L250.5,523.2 L251.0,523.2 L251.5,523.2 L252.1,523.2 L252.6,523.2 L253.1,523.1 L253.6,523.1 L254.1,523.0 L254.6,522.8 L255.1,522.6 L255.6,522.2 L256.1,521.4 L256.6,519.9 L257.2,516.4 L257.7,508.5 L258.2,493.8 L258.7,471.9 L259.2,447.4 L259.7,429.9 L260.2,428.0 L260.7,442.5 L261.2,465.7 L261.8,487.9 L262.3,503.4 L262.8,512.1 L263.3,516.4 L263.8,518.5 L264.3,519.8 L264.8,520.8 L265.3,521.5 L265.8,522.1 L266.4,522.5 L266.9,522.8 L267.4,522.9 L267.9,523.1 L268.4,523.1 L268.9,523.2 L269.4,523.2 L269.9,523.2 L270.4,523.2 L270.9,523.2 L271.5,523.2 L272.0,523.2 L272.5,523.2 L273.0,523.2 L273.5,523.2 L274.0,523.2 L274.5,523.2 L275.0,523.2 L275.5,523.2 L276.1,523.2 L276.6,523.2 L277.1,523.2 L277.6,523.2 L278.1,523.2 L278.6,523.2 L279.1,523.2 L279.6,523.2 L280.1,523.2 L280.6,523.2 L281.2,523.2 L281.7,523.2 L282.2,523.2 L282.7,523.2 L283.2,523.2 L283.7,523.2 L284.2,523.2 L284.7,523.2 L285.2,523.2 L285.8,523.2 L286.3,523.2 L286.8,523.2 L287.3,523.2 L287.8,523.2 L288.3,523.2 L288.8,523.2 L289.3,523.2 L289.8,523.2 L290.4,523.2 L290.9,523.2 L291.4,523.2 L291.9,523.2 L292.4,523.2 L292.9,523.2 L293.4,523.2 L293.9,523.2 L294.4,523.2 L294.9,523.2 L295.5,523.2 L296.0,523.2 L296.5,523.2 L297.0,523.2 L297.5,523.2 L298.0,523.2 L298.5,523.2 L299.0,523.2 L299.5,523.2 L300.1,523.2 L300.6,523.2 L301.1,523.2 L301.6,523.2 L302.1,523.2 L302.6,523.2 L303.1,523.2 L303.6,523.2 L304.1,523.2 L304.7,523.2 L305.2,523.2 L305.7,523.2 L306.2,523.2 L306.7,523.2 L307.2,523.2 L307.7,523.2 L308.2,523.2 L308.7,523.2 L309.2,523.2 L309.8,523.2 L310.3,523.2 L310.8,523.2 L311.3,523.2 L311.8,523.2 L312.3,523.2 L312.8,523.2 L313.3,523.2 L313.8,523.2 L314.4,523.2 L314.9,523.2 L315.4,523.2 L315.9,523.2 L316.4,523.1 L316.9,522.9 L317.4,522.6 L317.9,522.4 L318.4,522.4 L319.0,522.6 L319.5,522.9 L320.0,523.1 L320.5,523.2 L321.0,523.2 L321.5,523.2 L322.0,523.2 L322.5,523.2 L323.0,523.2 L323.6,523.2 L324.1,523.2 L324.6,523.2 L325.1,523.2 L325.6,523.2 L326.1,523.2 L326.6,523.2 L327.1,523.2 L327.6,523.2 L328.1,523.2 L328.7,523.2 L329.2,523.2 L329.7,523.2 L330.2,523.2 L330.7,523.2 L331.2,523.2 L331.7,523.2 L332.2,523.2 L332.7,523.2 L333.3,523.2 L333.8,523.2 L334.3,523.2 L334.8,523.2 L335.3,523.2 L335.8,523.2 L336.3,523.2 L336.8,523.2 L337.3,523.2 L337.9,523.2 L338.4,523.2 L338.9,523.2 L339.4,523.2 L339.9,523.2 L340.4,523.2 L340.9,523.2 L341.4,523.2 L341.9,523.2 L342.4,523.2 L343.0,523.2 L343.5,523.2 L344.0,523.2 L344.5,523.2 L345.0,523.2" fill="none" stroke="#6a6ee6" stroke-width="0.8" stroke-linejoin="round"/>
<path d="M117.3,538.5 L117.8,538.5 L118.4,538.5 L118.9,538.5 L119.4,538.5 L119.9,538.5 L120.5,538.5 L121.0,538.5 L121.5,538.5 L122.0,538.5 L122.6,538.5 L123.1,538.5 L123.6,538.5 L124.1,538.5 L124.7,538.5 L125.2,538.5 L125.7,538.5 L126.2,538.5 L126.8,538.5 L127.3,538.5 L127.8,538.5 L128.3,538.5 L128.9,538.5 L129.4,538.5 L129.9,538.5 L130.4,538.5 L131.0,538.5 L131.5,538.5 L132.0,538.5 L132.6,538.5 L133.1,538.5 L133.6,538.5 L134.1,538.5 L134.7,538.5 L135.2,538.5 L135.7,538.5 L136.2,538.5 L136.8,538.5 L137.3,538.5 L137.8,538.5 L138.3,538.5 L138.9,538.5 L139.4,538.5 L139.9,538.5 L140.4,538.5 L141.0,538.5 L141.5,538.5 L142.0,538.5 L142.5,538.5 L143.1,538.5 L143.6,538.5 L144.1,538.5 L144.6,538.5 L145.2,538.5 L145.7,538.5 L146.2,538.5 L146.8,538.5 L147.3,538.5 L147.8,538.5 L148.3,538.5 L148.9,538.5 L149.4,538.5 L149.9,538.5 L150.4,538.5 L151.0,538.5 L151.5,538.5 L152.0,538.5 L152.5,538.5 L153.1,538.5 L153.6,538.5 L154.1,538.5 L154.6,538.5 L155.2,538.5 L155.7,538.5 L156.2,538.5 L156.7,538.5 L157.3,538.5 L157.8,538.5 L158.3,538.5 L158.9,538.5 L159.4,538.5 L159.9,538.5 L160.4,538.5 L161.0,538.5 L161.5,538.5 L162.0,538.5 L162.5,538.5 L163.1,538.5 L163.6,538.5 L164.1,538.5 L164.6,538.5 L165.2,538.5 L165.7,538.5 L166.2,538.5 L166.7,538.5 L167.3,538.5 L167.8,538.5 L168.3,538.5 L168.8,538.5 L169.4,538.5 L169.9,538.4 L170.4,538.3 L170.9,538.2 L171.5,537.9 L172.0,537.5 L172.5,536.8 L173.1,535.3 L173.6,530.3 L174.1,515.4 L174.6,485.6 L175.2,451.9 L175.7,441.6 L176.2,464.2 L176.7,498.0 L177.3,520.5 L177.8,529.7 L178.3,532.8 L178.8,534.3 L179.4,535.4 L179.9,536.4 L180.4,537.1 L180.9,537.7 L181.5,538.0 L182.0,538.2 L182.5,538.4 L183.0,538.4 L183.6,538.5 L184.1,538.5 L184.6,538.5 L185.1,538.5 L185.7,538.4 L186.2,538.3 L186.7,537.8 L187.3,537.2 L187.8,537.0 L188.3,537.4 L188.8,538.0 L189.4,538.3 L189.9,538.5 L190.4,538.5 L190.9,538.5 L191.5,538.5 L192.0,538.5 L192.5,538.5 L193.0,538.4 L193.6,538.1 L194.1,537.7 L194.6,537.5 L195.1,537.7 L195.7,538.1 L196.2,538.4 L196.7,538.5 L197.2,538.5 L197.8,538.5 L198.3,538.5 L198.8,538.5 L199.3,538.5 L199.9,538.5 L200.4,538.5 L200.9,538.5 L201.5,538.5 L202.0,538.5 L202.5,538.5 L203.0,538.5 L203.6,538.5 L204.1,538.5 L204.6,538.5 L205.1,538.5 L205.7,538.5 L206.2,538.5 L206.7,538.5 L207.2,538.5 L207.8,538.5 L208.3,538.5 L208.8,538.5 L209.3,538.5 L209.9,538.5 L210.4,538.5 L210.9,538.5 L211.4,538.5 L212.0,538.5 L212.5,538.5 L213.0,538.5 L213.5,538.5 L214.1,538.5 L214.6,538.5 L215.1,538.5 L215.7,538.5 L216.2,538.5 L216.7,538.5 L217.2,538.5 L217.8,538.5 L218.3,538.5 L218.8,538.4 L219.3,538.1 L219.9,537.2 L220.4,535.1 L220.9,531.6 L221.4,527.3 L222.0,524.2 L222.5,524.2 L223.0,527.3 L223.5,531.6 L224.1,535.1 L224.6,537.2 L225.1,538.1 L225.6,538.4 L226.2,538.5 L226.7,538.5 L227.2,538.5 L227.8,538.5 L228.3,538.5 L228.8,538.5 L229.3,538.5 L229.9,538.5 L230.4,538.5 L230.9,538.5 L231.4,538.5 L232.0,538.5 L232.5,538.5 L233.0,538.5 L233.5,538.5 L234.1,538.5 L234.6,538.5 L235.1,538.5 L235.6,538.5 L236.2,538.5 L236.7,538.5 L237.2,538.5 L237.7,538.5 L238.3,538.5 L238.8,538.5 L239.3,538.5 L239.8,538.5 L240.4,538.5 L240.9,538.5 L241.4,538.5 L242.0,538.4 L242.5,538.2 L243.0,537.9 L243.5,537.3 L244.1,537.0 L244.6,537.0 L245.1,537.3 L245.6,537.9 L246.2,538.2 L246.7,538.4 L247.2,538.5 L247.7,538.5 L248.3,538.5 L248.8,538.5 L249.3,538.5 L249.8,538.5 L250.4,538.5 L250.9,538.5 L251.4,538.5 L251.9,538.5 L252.5,538.5 L253.0,538.5 L253.5,538.5 L254.0,538.5 L254.6,538.5 L255.1,538.5 L255.6,538.5 L256.2,538.5 L256.7,538.5 L257.2,538.5 L257.7,538.5 L258.3,538.5 L258.8,538.5 L259.3,538.5 L259.8,538.5 L260.4,538.5 L260.9,538.5 L261.4,538.5 L261.9,538.5 L262.5,538.5 L263.0,538.5 L263.5,538.5 L264.0,538.5 L264.6,538.5 L265.1,538.5 L265.6,538.5 L266.1,538.5 L266.7,538.5 L267.2,538.5 L267.7,538.5 L268.2,538.5 L268.8,538.5 L269.3,538.5 L269.8,538.5 L270.4,538.5 L270.9,538.5 L271.4,538.5 L271.9,538.5 L272.5,538.5 L273.0,538.5 L273.5,538.5 L274.0,538.5 L274.6,538.5 L275.1,538.5 L275.6,538.5 L276.1,538.5 L276.7,538.5 L277.2,538.5 L277.7,538.5 L278.2,538.5 L278.8,538.5 L279.3,538.5 L279.8,538.5 L280.3,538.5 L280.9,538.5 L281.4,538.5 L281.9,538.5 L282.4,538.5 L283.0,538.5 L283.5,538.5 L284.0,538.5 L284.6,538.5 L285.1,538.5 L285.6,538.5 L286.1,538.5 L286.7,538.5 L287.2,538.5 L287.7,538.5 L288.2,538.5 L288.8,538.5 L289.3,538.5 L289.8,538.5 L290.3,538.5 L290.9,538.5 L291.4,538.5 L291.9,538.5 L292.4,538.5 L293.0,538.5 L293.5,538.5 L294.0,538.5 L294.5,538.5 L295.1,538.5 L295.6,538.5 L296.1,538.5 L296.6,538.5 L297.2,538.5 L297.7,538.5 L298.2,538.5 L298.8,538.5 L299.3,538.5 L299.8,538.5 L300.3,538.5 L300.9,538.5 L301.4,538.5 L301.9,538.5 L302.4,538.5 L303.0,538.5 L303.5,538.5 L304.0,538.5 L304.5,538.5 L305.1,538.5 L305.6,538.5 L306.1,538.5 L306.6,538.5 L307.2,538.5 L307.7,538.5 L308.2,538.5 L308.7,538.5 L309.3,538.5 L309.8,538.5 L310.3,538.5 L310.9,538.5 L311.4,538.5 L311.9,538.5 L312.4,538.5 L313.0,538.5 L313.5,538.5 L314.0,538.5 L314.5,538.5 L315.1,538.5 L315.6,538.5 L316.1,538.5 L316.6,538.5 L317.2,538.5 L317.7,538.5 L318.2,538.5 L318.7,538.5 L319.3,538.5 L319.8,538.5 L320.3,538.5 L320.8,538.5 L321.4,538.5 L321.9,538.5 L322.4,538.5 L322.9,538.5 L323.5,538.5 L324.0,538.5 L324.5,538.5 L325.1,538.5 L325.6,538.5 L326.1,538.5 L326.6,538.5 L327.2,538.5 L327.7,538.5 L328.2,538.5 L328.7,538.5 L329.3,538.5 L329.8,538.5 L330.3,538.5 L330.8,538.5 L331.4,538.5 L331.9,538.5 L332.4,538.5 L332.9,538.5 L333.5,538.5 L334.0,538.5 L334.5,538.5 L335.0,538.5 L335.6,538.5 L336.1,538.5 L336.6,538.5 L337.1,538.5 L337.7,538.5 L338.2,538.5 L338.2,540.2 L117.3,540.2 Z" fill="#fff" stroke="none"/>
<path d="M117.3,538.5 L117.8,538.5 L118.4,538.5 L118.9,538.5 L119.4,538.5 L119.9,538.5 L120.5,538.5 L121.0,538.5 L121.5,538.5 L122.0,538.5 L122.6,538.5 L123.1,538.5 L123.6,538.5 L124.1,538.5 L124.7,538.5 L125.2,538.5 L125.7,538.5 L126.2,538.5 L126.8,538.5 L127.3,538.5 L127.8,538.5 L128.3,538.5 L128.9,538.5 L129.4,538.5 L129.9,538.5 L130.4,538.5 L131.0,538.5 L131.5,538.5 L132.0,538.5 L132.6,538.5 L133.1,538.5 L133.6,538.5 L134.1,538.5 L134.7,538.5 L135.2,538.5 L135.7,538.5 L136.2,538.5 L136.8,538.5 L137.3,538.5 L137.8,538.5 L138.3,538.5 L138.9,538.5 L139.4,538.5 L139.9,538.5 L140.4,538.5 L141.0,538.5 L141.5,538.5 L142.0,538.5 L142.5,538.5 L143.1,538.5 L143.6,538.5 L144.1,538.5 L144.6,538.5 L145.2,538.5 L145.7,538.5 L146.2,538.5 L146.8,538.5 L147.3,538.5 L147.8,538.5 L148.3,538.5 L148.9,538.5 L149.4,538.5 L149.9,538.5 L150.4,538.5 L151.0,538.5 L151.5,538.5 L152.0,538.5 L152.5,538.5 L153.1,538.5 L153.6,538.5 L154.1,538.5 L154.6,538.5 L155.2,538.5 L155.7,538.5 L156.2,538.5 L156.7,538.5 L157.3,538.5 L157.8,538.5 L158.3,538.5 L158.9,538.5 L159.4,538.5 L159.9,538.5 L160.4,538.5 L161.0,538.5 L161.5,538.5 L162.0,538.5 L162.5,538.5 L163.1,538.5 L163.6,538.5 L164.1,538.5 L164.6,538.5 L165.2,538.5 L165.7,538.5 L166.2,538.5 L166.7,538.5 L167.3,538.5 L167.8,538.5 L168.3,538.5 L168.8,538.5 L169.4,538.5 L169.9,538.4 L170.4,538.3 L170.9,538.2 L171.5,537.9 L172.0,537.5 L172.5,536.8 L173.1,535.3 L173.6,530.3 L174.1,515.4 L174.6,485.6 L175.2,451.9 L175.7,441.6 L176.2,464.2 L176.7,498.0 L177.3,520.5 L177.8,529.7 L178.3,532.8 L178.8,534.3 L179.4,535.4 L179.9,536.4 L180.4,537.1 L180.9,537.7 L181.5,538.0 L182.0,538.2 L182.5,538.4 L183.0,538.4 L183.6,538.5 L184.1,538.5 L184.6,538.5 L185.1,538.5 L185.7,538.4 L186.2,538.3 L186.7,537.8 L187.3,537.2 L187.8,537.0 L188.3,537.4 L188.8,538.0 L189.4,538.3 L189.9,538.5 L190.4,538.5 L190.9,538.5 L191.5,538.5 L192.0,538.5 L192.5,538.5 L193.0,538.4 L193.6,538.1 L194.1,537.7 L194.6,537.5 L195.1,537.7 L195.7,538.1 L196.2,538.4 L196.7,538.5 L197.2,538.5 L197.8,538.5 L198.3,538.5 L198.8,538.5 L199.3,538.5 L199.9,538.5 L200.4,538.5 L200.9,538.5 L201.5,538.5 L202.0,538.5 L202.5,538.5 L203.0,538.5 L203.6,538.5 L204.1,538.5 L204.6,538.5 L205.1,538.5 L205.7,538.5 L206.2,538.5 L206.7,538.5 L207.2,538.5 L207.8,538.5 L208.3,538.5 L208.8,538.5 L209.3,538.5 L209.9,538.5 L210.4,538.5 L210.9,538.5 L211.4,538.5 L212.0,538.5 L212.5,538.5 L213.0,538.5 L213.5,538.5 L214.1,538.5 L214.6,538.5 L215.1,538.5 L215.7,538.5 L216.2,538.5 L216.7,538.5 L217.2,538.5 L217.8,538.5 L218.3,538.5 L218.8,538.4 L219.3,538.1 L219.9,537.2 L220.4,535.1 L220.9,531.6 L221.4,527.3 L222.0,524.2 L222.5,524.2 L223.0,527.3 L223.5,531.6 L224.1,535.1 L224.6,537.2 L225.1,538.1 L225.6,538.4 L226.2,538.5 L226.7,538.5 L227.2,538.5 L227.8,538.5 L228.3,538.5 L228.8,538.5 L229.3,538.5 L229.9,538.5 L230.4,538.5 L230.9,538.5 L231.4,538.5 L232.0,538.5 L232.5,538.5 L233.0,538.5 L233.5,538.5 L234.1,538.5 L234.6,538.5 L235.1,538.5 L235.6,538.5 L236.2,538.5 L236.7,538.5 L237.2,538.5 L237.7,538.5 L238.3,538.5 L238.8,538.5 L239.3,538.5 L239.8,538.5 L240.4,538.5 L240.9,538.5 L241.4,538.5 L242.0,538.4 L242.5,538.2 L243.0,537.9 L243.5,537.3 L244.1,537.0 L244.6,537.0 L245.1,537.3 L245.6,537.9 L246.2,538.2 L246.7,538.4 L247.2,538.5 L247.7,538.5 L248.3,538.5 L248.8,538.5 L249.3,538.5 L249.8,538.5 L250.4,538.5 L250.9,538.5 L251.4,538.5 L251.9,538.5 L252.5,538.5 L253.0,538.5 L253.5,538.5 L254.0,538.5 L254.6,538.5 L255.1,538.5 L255.6,538.5 L256.2,538.5 L256.7,538.5 L257.2,538.5 L257.7,538.5 L258.3,538.5 L258.8,538.5 L259.3,538.5 L259.8,538.5 L260.4,538.5 L260.9,538.5 L261.4,538.5 L261.9,538.5 L262.5,538.5 L263.0,538.5 L263.5,538.5 L264.0,538.5 L264.6,538.5 L265.1,538.5 L265.6,538.5 L266.1,538.5 L266.7,538.5 L267.2,538.5 L267.7,538.5 L268.2,538.5 L268.8,538.5 L269.3,538.5 L269.8,538.5 L270.4,538.5 L270.9,538.5 L271.4,538.5 L271.9,538.5 L272.5,538.5 L273.0,538.5 L273.5,538.5 L274.0,538.5 L274.6,538.5 L275.1,538.5 L275.6,538.5 L276.1,538.5 L276.7,538.5 L277.2,538.5 L277.7,538.5 L278.2,538.5 L278.8,538.5 L279.3,538.5 L279.8,538.5 L280.3,538.5 L280.9,538.5 L281.4,538.5 L281.9,538.5 L282.4,538.5 L283.0,538.5 L283.5,538.5 L284.0,538.5 L284.6,538.5 L285.1,538.5 L285.6,538.5 L286.1,538.5 L286.7,538.5 L287.2,538.5 L287.7,538.5 L288.2,538.5 L288.8,538.5 L289.3,538.5 L289.8,538.5 L290.3,538.5 L290.9,538.5 L291.4,538.5 L291.9,538.5 L292.4,538.5 L293.0,538.5 L293.5,538.5 L294.0,538.5 L294.5,538.5 L295.1,538.5 L295.6,538.5 L296.1,538.5 L296.6,538.5 L297.2,538.5 L297.7,538.5 L298.2,538.5 L298.8,538.5 L299.3,538.5 L299.8,538.5 L300.3,538.5 L300.9,538.5 L301.4,538.5 L301.9,538.5 L302.4,538.5 L303.0,538.5 L303.5,538.5 L304.0,538.5 L304.5,538.5 L305.1,538.5 L305.6,538.5 L306.1,538.5 L306.6,538.5 L307.2,538.5 L307.7,538.5 L308.2,538.5 L308.7,538.5 L309.3,538.5 L309.8,538.5 L310.3,538.5 L310.9,538.5 L311.4,538.5 L311.9,538.5 L312.4,538.5 L313.0,538.5 L313.5,538.5 L314.0,538.5 L314.5,538.5 L315.1,538.5 L315.6,538.5 L316.1,538.5 L316.6,538.5 L317.2,538.5 L317.7,538.5 L318.2,538.5 L318.7,538.5 L319.3,538.5 L319.8,538.5 L320.3,538.5 L320.8,538.5 L321.4,538.5 L321.9,538.5 L322.4,538.5 L322.9,538.5 L323.5,538.5 L324.0,538.5 L324.5,538.5 L325.1,538.5 L325.6,538.5 L326.1,538.5 L326.6,538.5 L327.2,538.5 L327.7,538.5 L328.2,538.5 L328.7,538.5 L329.3,538.5 L329.8,538.5 L330.3,538.5 L330.8,538.5 L331.4,538.5 L331.9,538.5 L332.4,538.5 L332.9,538.5 L333.5,538.5 L334.0,538.5 L334.5,538.5 L335.0,538.5 L335.6,538.5 L336.1,538.5 L336.6,538.5 L337.1,538.5 L337.7,538.5 L338.2,538.5" fill="none" stroke="#62dc62" stroke-width="0.8" stroke-linejoin="round"/>
<path d="M102.6,553.0 L103.1,553.0 L103.7,553.0 L104.2,553.0 L104.8,553.0 L105.3,553.0 L105.8,553.0 L106.4,553.0 L106.9,553.0 L107.5,553.0 L108.0,553.0 L108.6,553.0 L109.1,553.0 L109.6,553.0 L110.2,553.0 L110.7,553.0 L111.3,553.0 L111.8,553.0 L112.3,553.0 L112.9,553.0 L113.4,553.0 L114.0,553.0 L114.5,553.0 L115.0,553.0 L115.6,553.0 L116.1,553.0 L116.7,553.0 L117.2,553.0 L117.7,553.0 L118.3,553.0 L118.8,553.0 L119.4,553.0 L119.9,553.0 L120.5,553.0 L121.0,553.0 L121.5,553.0 L122.1,553.0 L122.6,553.0 L123.2,553.0 L123.7,553.0 L124.2,553.0 L124.8,553.0 L125.3,553.0 L125.9,553.0 L126.4,553.0 L126.9,553.0 L127.5,553.0 L128.0,553.0 L128.6,553.0 L129.1,553.0 L129.6,553.0 L130.2,553.0 L130.7,553.0 L131.3,553.0 L131.8,553.0 L132.4,553.0 L132.9,553.0 L133.4,553.0 L134.0,553.0 L134.5,553.0 L135.1,553.0 L135.6,553.0 L136.1,553.0 L136.7,553.0 L137.2,553.0 L137.8,553.0 L138.3,553.0 L138.8,553.0 L139.4,553.0 L139.9,553.0 L140.5,553.0 L141.0,553.0 L141.5,553.0 L142.1,553.0 L142.6,553.0 L143.2,553.0 L143.7,553.0 L144.3,553.0 L144.8,553.0 L145.3,553.0 L145.9,553.0 L146.4,553.0 L147.0,553.0 L147.5,553.0 L148.0,553.0 L148.6,553.0 L149.1,553.0 L149.7,553.0 L150.2,553.0 L150.7,553.0 L151.3,553.0 L151.8,553.0 L152.4,553.0 L152.9,553.0 L153.4,553.0 L154.0,553.0 L154.5,553.0 L155.1,553.0 L155.6,553.0 L156.2,553.0 L156.7,553.0 L157.2,552.9 L157.8,552.8 L158.3,552.7 L158.9,552.4 L159.4,552.0 L159.9,551.4 L160.5,549.9 L161.0,545.1 L161.6,530.5 L162.1,500.5 L162.6,465.5 L163.2,453.1 L163.7,475.1 L164.3,510.0 L164.8,533.9 L165.4,543.9 L165.9,547.2 L166.4,548.7 L167.0,549.9 L167.5,550.8 L168.1,551.6 L168.6,552.1 L169.1,552.5 L169.7,552.7 L170.2,552.9 L170.8,552.9 L171.3,553.0 L171.8,553.0 L172.4,553.0 L172.9,552.8 L173.5,552.1 L174.0,550.4 L174.5,548.2 L175.1,547.3 L175.6,548.7 L176.2,551.0 L176.7,552.4 L177.3,552.9 L177.8,553.0 L178.3,553.0 L178.9,553.0 L179.4,553.0 L180.0,553.0 L180.5,553.0 L181.0,552.9 L181.6,552.6 L182.1,552.1 L182.7,551.3 L183.2,550.6 L183.7,550.6 L184.3,551.1 L184.8,551.9 L185.4,552.5 L185.9,552.7 L186.4,552.5 L187.0,551.8 L187.5,551.1 L188.1,551.1 L188.6,551.8 L189.2,552.5 L189.7,552.9 L190.2,553.0 L190.8,553.0 L191.3,553.0 L191.9,553.0 L192.4,553.0 L192.9,553.0 L193.5,553.0 L194.0,552.9 L194.6,552.6 L195.1,552.1 L195.6,551.6 L196.2,551.2 L196.7,551.3 L197.3,551.8 L197.8,552.4 L198.3,552.8 L198.9,552.9 L199.4,553.0 L200.0,553.0 L200.5,553.0 L201.1,553.0 L201.6,553.0 L202.1,553.0 L202.7,553.0 L203.2,553.0 L203.8,553.0 L204.3,553.0 L204.8,553.0 L205.4,553.0 L205.9,553.0 L206.5,553.0 L207.0,553.0 L207.5,553.0 L208.1,553.0 L208.6,553.0 L209.2,552.9 L209.7,552.6 L210.2,551.6 L210.8,550.2 L211.3,549.3 L211.9,550.0 L212.4,551.4 L213.0,552.3 L213.5,552.2 L214.0,551.0 L214.6,549.3 L215.1,548.6 L215.7,549.7 L216.2,551.4 L216.7,552.5 L217.3,552.9 L217.8,553.0 L218.4,553.0 L218.9,553.0 L219.4,553.0 L220.0,553.0 L220.5,553.0 L221.1,553.0 L221.6,553.0 L222.2,553.0 L222.7,553.0 L223.2,553.0 L223.8,553.0 L224.3,553.0 L224.9,553.0 L225.4,553.0 L225.9,553.0 L226.5,553.0 L227.0,553.0 L227.6,553.0 L228.1,553.0 L228.6,553.0 L229.2,553.0 L229.7,553.0 L230.3,553.0 L230.8,553.0 L231.3,553.0 L231.9,553.0 L232.4,553.0 L233.0,553.0 L233.5,553.0 L234.1,553.0 L234.6,553.0 L235.1,553.0 L235.7,553.0 L236.2,553.0 L236.8,553.0 L237.3,553.0 L237.8,553.0 L238.4,553.0 L238.9,553.0 L239.5,553.0 L240.0,553.0 L240.5,553.0 L241.1,553.0 L241.6,553.0 L242.2,553.0 L242.7,553.0 L243.2,553.0 L243.8,553.0 L244.3,553.0 L244.9,553.0 L245.4,553.0 L246.0,553.0 L246.5,553.0 L247.0,553.0 L247.6,553.0 L248.1,553.0 L248.7,553.0 L249.2,553.0 L249.7,553.0 L250.3,553.0 L250.8,553.0 L251.4,553.0 L251.9,553.0 L252.4,553.0 L253.0,553.0 L253.5,553.0 L254.1,553.0 L254.6,553.0 L255.1,553.0 L255.7,553.0 L256.2,553.0 L256.8,553.0 L257.3,553.0 L257.9,553.0 L258.4,553.0 L258.9,553.0 L259.5,553.0 L260.0,553.0 L260.6,553.0 L261.1,553.0 L261.6,553.0 L262.2,553.0 L262.7,553.0 L263.3,553.0 L263.8,553.0 L264.3,553.0 L264.9,553.0 L265.4,553.0 L266.0,553.0 L266.5,553.0 L267.0,553.0 L267.6,553.0 L268.1,553.0 L268.7,553.0 L269.2,553.0 L269.8,553.0 L270.3,553.0 L270.8,553.0 L271.4,553.0 L271.9,553.0 L272.5,553.0 L273.0,553.0 L273.5,553.0 L274.1,553.0 L274.6,553.0 L275.2,553.0 L275.7,553.0 L276.2,553.0 L276.8,553.0 L277.3,553.0 L277.9,553.0 L278.4,553.0 L279.0,553.0 L279.5,553.0 L280.0,553.0 L280.6,553.0 L281.1,553.0 L281.7,553.0 L282.2,553.0 L282.7,553.0 L283.3,553.0 L283.8,553.0 L284.4,553.0 L284.9,553.0 L285.4,553.0 L286.0,553.0 L286.5,553.0 L287.1,553.0 L287.6,553.0 L288.1,553.0 L288.7,553.0 L289.2,553.0 L289.8,553.0 L290.3,553.0 L290.9,553.0 L291.4,553.0 L291.9,553.0 L292.5,553.0 L293.0,553.0 L293.6,553.0 L294.1,553.0 L294.6,553.0 L295.2,553.0 L295.7,553.0 L296.3,553.0 L296.8,553.0 L297.3,553.0 L297.9,553.0 L298.4,553.0 L299.0,553.0 L299.5,553.0 L300.0,553.0 L300.6,553.0 L301.1,553.0 L301.7,553.0 L302.2,553.0 L302.8,553.0 L303.3,553.0 L303.8,553.0 L304.4,553.0 L304.9,553.0 L305.5,553.0 L306.0,553.0 L306.5,553.0 L307.1,553.0 L307.6,553.0 L308.2,553.0 L308.7,553.0 L309.2,553.0 L309.8,553.0 L310.3,553.0 L310.9,553.0 L311.4,553.0 L311.9,553.0 L312.5,553.0 L313.0,553.0 L313.6,553.0 L314.1,553.0 L314.7,553.0 L315.2,553.0 L315.7,553.0 L316.3,553.0 L316.8,553.0 L317.4,553.0 L317.9,553.0 L318.4,553.0 L319.0,553.0 L319.5,553.0 L320.1,553.0 L320.6,553.0 L321.1,553.0 L321.7,553.0 L322.2,553.0 L322.8,553.0 L323.3,553.0 L323.8,553.0 L324.4,553.0 L324.9,553.0 L325.5,553.0 L326.0,553.0 L326.6,553.0 L327.1,553.0 L327.6,553.0 L328.2,553.0 L328.7,553.0 L329.3,553.0 L329.8,553.0 L329.8,554.7 L102.6,554.7 Z" fill="#fff" stroke="none"/>
<path d="M102.6,553.0 L103.1,553.0 L103.7,553.0 L104.2,553.0 L104.8,553.0 L105.3,553.0 L105.8,553.0 L106.4,553.0 L106.9,553.0 L107.5,553.0 L108.0,553.0 L108.6,553.0 L109.1,553.0 L109.6,553.0 L110.2,553.0 L110.7,553.0 L111.3,553.0 L111.8,553.0 L112.3,553.0 L112.9,553.0 L113.4,553.0 L114.0,553.0 L114.5,553.0 L115.0,553.0 L115.6,553.0 L116.1,553.0 L116.7,553.0 L117.2,553.0 L117.7,553.0 L118.3,553.0 L118.8,553.0 L119.4,553.0 L119.9,553.0 L120.5,553.0 L121.0,553.0 L121.5,553.0 L122.1,553.0 L122.6,553.0 L123.2,553.0 L123.7,553.0 L124.2,553.0 L124.8,553.0 L125.3,553.0 L125.9,553.0 L126.4,553.0 L126.9,553.0 L127.5,553.0 L128.0,553.0 L128.6,553.0 L129.1,553.0 L129.6,553.0 L130.2,553.0 L130.7,553.0 L131.3,553.0 L131.8,553.0 L132.4,553.0 L132.9,553.0 L133.4,553.0 L134.0,553.0 L134.5,553.0 L135.1,553.0 L135.6,553.0 L136.1,553.0 L136.7,553.0 L137.2,553.0 L137.8,553.0 L138.3,553.0 L138.8,553.0 L139.4,553.0 L139.9,553.0 L140.5,553.0 L141.0,553.0 L141.5,553.0 L142.1,553.0 L142.6,553.0 L143.2,553.0 L143.7,553.0 L144.3,553.0 L144.8,553.0 L145.3,553.0 L145.9,553.0 L146.4,553.0 L147.0,553.0 L147.5,553.0 L148.0,553.0 L148.6,553.0 L149.1,553.0 L149.7,553.0 L150.2,553.0 L150.7,553.0 L151.3,553.0 L151.8,553.0 L152.4,553.0 L152.9,553.0 L153.4,553.0 L154.0,553.0 L154.5,553.0 L155.1,553.0 L155.6,553.0 L156.2,553.0 L156.7,553.0 L157.2,552.9 L157.8,552.8 L158.3,552.7 L158.9,552.4 L159.4,552.0 L159.9,551.4 L160.5,549.9 L161.0,545.1 L161.6,530.5 L162.1,500.5 L162.6,465.5 L163.2,453.1 L163.7,475.1 L164.3,510.0 L164.8,533.9 L165.4,543.9 L165.9,547.2 L166.4,548.7 L167.0,549.9 L167.5,550.8 L168.1,551.6 L168.6,552.1 L169.1,552.5 L169.7,552.7 L170.2,552.9 L170.8,552.9 L171.3,553.0 L171.8,553.0 L172.4,553.0 L172.9,552.8 L173.5,552.1 L174.0,550.4 L174.5,548.2 L175.1,547.3 L175.6,548.7 L176.2,551.0 L176.7,552.4 L177.3,552.9 L177.8,553.0 L178.3,553.0 L178.9,553.0 L179.4,553.0 L180.0,553.0 L180.5,553.0 L181.0,552.9 L181.6,552.6 L182.1,552.1 L182.7,551.3 L183.2,550.6 L183.7,550.6 L184.3,551.1 L184.8,551.9 L185.4,552.5 L185.9,552.7 L186.4,552.5 L187.0,551.8 L187.5,551.1 L188.1,551.1 L188.6,551.8 L189.2,552.5 L189.7,552.9 L190.2,553.0 L190.8,553.0 L191.3,553.0 L191.9,553.0 L192.4,553.0 L192.9,553.0 L193.5,553.0 L194.0,552.9 L194.6,552.6 L195.1,552.1 L195.6,551.6 L196.2,551.2 L196.7,551.3 L197.3,551.8 L197.8,552.4 L198.3,552.8 L198.9,552.9 L199.4,553.0 L200.0,553.0 L200.5,553.0 L201.1,553.0 L201.6,553.0 L202.1,553.0 L202.7,553.0 L203.2,553.0 L203.8,553.0 L204.3,553.0 L204.8,553.0 L205.4,553.0 L205.9,553.0 L206.5,553.0 L207.0,553.0 L207.5,553.0 L208.1,553.0 L208.6,553.0 L209.2,552.9 L209.7,552.6 L210.2,551.6 L210.8,550.2 L211.3,549.3 L211.9,550.0 L212.4,551.4 L213.0,552.3 L213.5,552.2 L214.0,551.0 L214.6,549.3 L215.1,548.6 L215.7,549.7 L216.2,551.4 L216.7,552.5 L217.3,552.9 L217.8,553.0 L218.4,553.0 L218.9,553.0 L219.4,553.0 L220.0,553.0 L220.5,553.0 L221.1,553.0 L221.6,553.0 L222.2,553.0 L222.7,553.0 L223.2,553.0 L223.8,553.0 L224.3,553.0 L224.9,553.0 L225.4,553.0 L225.9,553.0 L226.5,553.0 L227.0,553.0 L227.6,553.0 L228.1,553.0 L228.6,553.0 L229.2,553.0 L229.7,553.0 L230.3,553.0 L230.8,553.0 L231.3,553.0 L231.9,553.0 L232.4,553.0 L233.0,553.0 L233.5,553.0 L234.1,553.0 L234.6,553.0 L235.1,553.0 L235.7,553.0 L236.2,553.0 L236.8,553.0 L237.3,553.0 L237.8,553.0 L238.4,553.0 L238.9,553.0 L239.5,553.0 L240.0,553.0 L240.5,553.0 L241.1,553.0 L241.6,553.0 L242.2,553.0 L242.7,553.0 L243.2,553.0 L243.8,553.0 L244.3,553.0 L244.9,553.0 L245.4,553.0 L246.0,553.0 L246.5,553.0 L247.0,553.0 L247.6,553.0 L248.1,553.0 L248.7,553.0 L249.2,553.0 L249.7,553.0 L250.3,553.0 L250.8,553.0 L251.4,553.0 L251.9,553.0 L252.4,553.0 L253.0,553.0 L253.5,553.0 L254.1,553.0 L254.6,553.0 L255.1,553.0 L255.7,553.0 L256.2,553.0 L256.8,553.0 L257.3,553.0 L257.9,553.0 L258.4,553.0 L258.9,553.0 L259.5,553.0 L260.0,553.0 L260.6,553.0 L261.1,553.0 L261.6,553.0 L262.2,553.0 L262.7,553.0 L263.3,553.0 L263.8,553.0 L264.3,553.0 L264.9,553.0 L265.4,553.0 L266.0,553.0 L266.5,553.0 L267.0,553.0 L267.6,553.0 L268.1,553.0 L268.7,553.0 L269.2,553.0 L269.8,553.0 L270.3,553.0 L270.8,553.0 L271.4,553.0 L271.9,553.0 L272.5,553.0 L273.0,553.0 L273.5,553.0 L274.1,553.0 L274.6,553.0 L275.2,553.0 L275.7,553.0 L276.2,553.0 L276.8,553.0 L277.3,553.0 L277.9,553.0 L278.4,553.0 L279.0,553.0 L279.5,553.0 L280.0,553.0 L280.6,553.0 L281.1,553.0 L281.7,553.0 L282.2,553.0 L282.7,553.0 L283.3,553.0 L283.8,553.0 L284.4,553.0 L284.9,553.0 L285.4,553.0 L286.0,553.0 L286.5,553.0 L287.1,553.0 L287.6,553.0 L288.1,553.0 L288.7,553.0 L289.2,553.0 L289.8,553.0 L290.3,553.0 L290.9,553.0 L291.4,553.0 L291.9,553.0 L292.5,553.0 L293.0,553.0 L293.6,553.0 L294.1,553.0 L294.6,553.0 L295.2,553.0 L295.7,553.0 L296.3,553.0 L296.8,553.0 L297.3,553.0 L297.9,553.0 L298.4,553.0 L299.0,553.0 L299.5,553.0 L300.0,553.0 L300.6,553.0 L301.1,553.0 L301.7,553.0 L302.2,553.0 L302.8,553.0 L303.3,553.0 L303.8,553.0 L304.4,553.0 L304.9,553.0 L305.5,553.0 L306.0,553.0 L306.5,553.0 L307.1,553.0 L307.6,553.0 L308.2,553.0 L308.7,553.0 L309.2,553.0 L309.8,553.0 L310.3,553.0 L310.9,553.0 L311.4,553.0 L311.9,553.0 L312.5,553.0 L313.0,553.0 L313.6,553.0 L314.1,553.0 L314.7,553.0 L315.2,553.0 L315.7,553.0 L316.3,553.0 L316.8,553.0 L317.4,553.0 L317.9,553.0 L318.4,553.0 L319.0,553.0 L319.5,553.0 L320.1,553.0 L320.6,553.0 L321.1,553.0 L321.7,553.0 L322.2,553.0 L322.8,553.0 L323.3,553.0 L323.8,553.0 L324.4,553.0 L324.9,553.0 L325.5,553.0 L326.0,553.0 L326.6,553.0 L327.1,553.0 L327.6,553.0 L328.2,553.0 L328.7,553.0 L329.3,553.0 L329.8,553.0" fill="none" stroke="#f07878" stroke-width="0.8" stroke-linejoin="round"/>
<path d="M88.2,572.3 L88.8,572.3 L89.3,572.3 L89.9,572.3 L90.4,572.3 L91.0,572.3 L91.5,572.3 L92.1,572.3 L92.6,572.3 L93.2,572.3 L93.8,572.3 L94.3,572.3 L94.9,572.3 L95.4,572.3 L96.0,572.3 L96.5,572.3 L97.1,572.3 L97.6,572.3 L98.2,572.3 L98.7,572.3 L99.3,572.3 L99.9,572.3 L100.4,572.3 L101.0,572.3 L101.5,572.3 L102.1,572.3 L102.6,572.3 L103.2,572.3 L103.7,572.3 L104.3,572.3 L104.9,572.3 L105.4,572.3 L106.0,572.3 L106.5,572.3 L107.1,572.3 L107.6,572.3 L108.2,572.3 L108.7,572.3 L109.3,572.3 L109.9,572.3 L110.4,572.3 L111.0,572.3 L111.5,572.3 L112.1,572.3 L112.6,572.3 L113.2,572.3 L113.7,572.3 L114.3,572.3 L114.9,572.3 L115.4,572.3 L116.0,572.3 L116.5,572.3 L117.1,572.3 L117.6,572.3 L118.2,572.3 L118.7,572.3 L119.3,572.3 L119.8,572.3 L120.4,572.3 L121.0,572.3 L121.5,572.3 L122.1,572.3 L122.6,572.3 L123.2,572.3 L123.7,572.3 L124.3,572.3 L124.8,572.3 L125.4,572.3 L126.0,572.3 L126.5,572.3 L127.1,572.3 L127.6,572.3 L128.2,572.3 L128.7,572.3 L129.3,572.3 L129.8,572.3 L130.4,572.3 L131.0,572.3 L131.5,572.3 L132.1,572.3 L132.6,572.3 L133.2,572.3 L133.7,572.3 L134.3,572.3 L134.8,572.3 L135.4,572.3 L136.0,572.3 L136.5,572.3 L137.1,572.3 L137.6,572.3 L138.2,572.3 L138.7,572.3 L139.3,572.3 L139.8,572.3 L140.4,572.3 L140.9,571.9 L141.5,570.8 L142.1,569.8 L142.6,570.5 L143.2,571.7 L143.7,572.2 L144.3,572.3 L144.8,572.3 L145.4,572.2 L145.9,572.1 L146.5,572.0 L147.1,571.7 L147.6,571.2 L148.2,570.1 L148.7,566.3 L149.3,553.4 L149.8,523.2 L150.4,483.9 L150.9,467.7 L151.5,491.2 L152.1,529.4 L152.6,554.3 L153.2,563.9 L153.7,567.0 L154.3,568.4 L154.8,569.3 L155.4,569.2 L155.9,568.0 L156.5,566.9 L157.0,567.4 L157.6,569.4 L158.2,571.2 L158.7,572.0 L159.3,572.3 L159.8,572.3 L160.4,572.3 L160.9,572.0 L161.5,570.7 L162.0,567.6 L162.6,563.2 L163.2,561.3 L163.7,563.8 L164.3,568.1 L164.8,570.9 L165.4,571.7 L165.9,571.5 L166.5,570.7 L167.0,570.0 L167.6,569.8 L168.2,570.2 L168.7,570.9 L169.3,571.2 L169.8,570.8 L170.4,569.9 L170.9,569.0 L171.5,568.9 L172.0,569.6 L172.6,570.8 L173.2,571.6 L173.7,571.9 L174.3,571.6 L174.8,570.8 L175.4,569.9 L175.9,569.9 L176.5,570.8 L177.0,571.7 L177.6,572.1 L178.1,572.3 L178.7,572.3 L179.3,572.3 L179.8,572.3 L180.4,572.3 L180.9,572.3 L181.5,572.3 L182.0,572.2 L182.6,571.9 L183.1,570.9 L183.7,569.3 L184.3,568.1 L184.8,568.5 L185.4,570.2 L185.9,571.5 L186.5,572.1 L187.0,572.3 L187.6,572.3 L188.1,572.3 L188.7,572.3 L189.3,572.3 L189.8,572.3 L190.4,572.3 L190.9,572.3 L191.5,572.3 L192.0,572.3 L192.6,572.3 L193.1,572.3 L193.7,572.3 L194.3,572.3 L194.8,572.3 L195.4,572.3 L195.9,572.3 L196.5,572.3 L197.0,572.3 L197.6,572.3 L198.1,572.0 L198.7,571.0 L199.2,568.9 L199.8,566.8 L200.4,566.5 L200.9,568.5 L201.5,570.6 L202.0,571.7 L202.6,571.2 L203.1,569.2 L203.7,566.4 L204.2,565.0 L204.8,566.6 L205.4,569.5 L205.9,571.4 L206.5,572.1 L207.0,572.3 L207.6,572.3 L208.1,572.3 L208.7,572.3 L209.2,572.3 L209.8,572.3 L210.4,572.3 L210.9,572.3 L211.5,572.3 L212.0,572.3 L212.6,572.3 L213.1,572.3 L213.7,572.3 L214.2,572.3 L214.8,572.3 L215.3,572.3 L215.9,572.3 L216.5,572.3 L217.0,572.3 L217.6,572.3 L218.1,572.3 L218.7,572.3 L219.2,572.3 L219.8,572.3 L220.3,572.3 L220.9,572.3 L221.5,572.3 L222.0,572.3 L222.6,572.3 L223.1,572.3 L223.7,572.3 L224.2,572.3 L224.8,572.3 L225.3,572.3 L225.9,572.3 L226.5,572.3 L227.0,572.3 L227.6,572.3 L228.1,572.3 L228.7,572.3 L229.2,572.2 L229.8,572.0 L230.3,571.7 L230.9,571.5 L231.5,571.6 L232.0,571.9 L232.6,572.2 L233.1,572.3 L233.7,572.3 L234.2,572.3 L234.8,572.3 L235.3,572.3 L235.9,572.3 L236.4,572.3 L237.0,572.3 L237.6,572.3 L238.1,572.3 L238.7,572.3 L239.2,572.3 L239.8,572.3 L240.3,572.3 L240.9,572.3 L241.4,572.3 L242.0,572.3 L242.6,572.3 L243.1,572.3 L243.7,572.3 L244.2,572.3 L244.8,572.3 L245.3,572.3 L245.9,572.3 L246.4,572.3 L247.0,572.3 L247.6,572.3 L248.1,572.3 L248.7,572.3 L249.2,572.3 L249.8,572.3 L250.3,572.3 L250.9,572.3 L251.4,572.3 L252.0,572.3 L252.6,572.3 L253.1,572.3 L253.7,572.3 L254.2,572.3 L254.8,572.3 L255.3,572.3 L255.9,572.3 L256.4,572.3 L257.0,572.3 L257.5,572.3 L258.1,572.3 L258.7,572.3 L259.2,572.3 L259.8,572.3 L260.3,572.3 L260.9,572.3 L261.4,572.3 L262.0,572.3 L262.5,572.3 L263.1,572.3 L263.7,572.3 L264.2,572.3 L264.8,572.3 L265.3,572.3 L265.9,572.3 L266.4,572.3 L267.0,572.3 L267.5,572.3 L268.1,572.3 L268.7,572.3 L269.2,572.3 L269.8,572.3 L270.3,572.3 L270.9,572.3 L271.4,572.3 L272.0,572.3 L272.5,572.3 L273.1,572.3 L273.6,572.3 L274.2,572.3 L274.8,572.3 L275.3,572.3 L275.9,572.3 L276.4,572.3 L277.0,572.3 L277.5,572.3 L278.1,572.3 L278.6,572.3 L279.2,572.3 L279.8,572.3 L280.3,572.3 L280.9,572.3 L281.4,572.3 L282.0,572.3 L282.5,572.3 L283.1,572.3 L283.6,572.3 L284.2,572.3 L284.8,572.3 L285.3,572.3 L285.9,572.3 L286.4,572.3 L287.0,572.3 L287.5,572.3 L288.1,572.3 L288.6,572.3 L289.2,572.3 L289.8,572.3 L290.3,572.3 L290.9,572.3 L291.4,572.3 L292.0,572.3 L292.5,572.3 L293.1,572.3 L293.6,572.3 L294.2,572.3 L294.7,572.3 L295.3,572.3 L295.9,572.3 L296.4,572.3 L297.0,572.3 L297.5,572.3 L298.1,572.3 L298.6,572.3 L299.2,572.3 L299.7,572.3 L300.3,572.3 L300.9,572.3 L301.4,572.3 L302.0,572.3 L302.5,572.3 L303.1,572.3 L303.6,572.3 L304.2,572.3 L304.7,572.3 L305.3,572.3 L305.9,572.3 L306.4,572.3 L307.0,572.3 L307.5,572.3 L308.1,572.3 L308.6,572.3 L309.2,572.3 L309.7,572.3 L310.3,572.3 L310.9,572.3 L311.4,572.3 L312.0,572.3 L312.5,572.3 L313.1,572.3 L313.6,572.3 L314.2,572.3 L314.7,572.3 L315.3,572.3 L315.8,572.3 L316.4,572.3 L317.0,572.3 L317.5,572.3 L318.1,572.3 L318.6,572.3 L319.2,572.3 L319.7,572.3 L320.3,572.3 L320.8,572.3 L321.4,572.3 L321.4,574.0 L88.2,574.0 Z" fill="#fff" stroke="none"/>
<path d="M88.2,572.3 L88.8,572.3 L89.3,572.3 L89.9,572.3 L90.4,572.3 L91.0,572.3 L91.5,572.3 L92.1,572.3 L92.6,572.3 L93.2,572.3 L93.8,572.3 L94.3,572.3 L94.9,572.3 L95.4,572.3 L96.0,572.3 L96.5,572.3 L97.1,572.3 L97.6,572.3 L98.2,572.3 L98.7,572.3 L99.3,572.3 L99.9,572.3 L100.4,572.3 L101.0,572.3 L101.5,572.3 L102.1,572.3 L102.6,572.3 L103.2,572.3 L103.7,572.3 L104.3,572.3 L104.9,572.3 L105.4,572.3 L106.0,572.3 L106.5,572.3 L107.1,572.3 L107.6,572.3 L108.2,572.3 L108.7,572.3 L109.3,572.3 L109.9,572.3 L110.4,572.3 L111.0,572.3 L111.5,572.3 L112.1,572.3 L112.6,572.3 L113.2,572.3 L113.7,572.3 L114.3,572.3 L114.9,572.3 L115.4,572.3 L116.0,572.3 L116.5,572.3 L117.1,572.3 L117.6,572.3 L118.2,572.3 L118.7,572.3 L119.3,572.3 L119.8,572.3 L120.4,572.3 L121.0,572.3 L121.5,572.3 L122.1,572.3 L122.6,572.3 L123.2,572.3 L123.7,572.3 L124.3,572.3 L124.8,572.3 L125.4,572.3 L126.0,572.3 L126.5,572.3 L127.1,572.3 L127.6,572.3 L128.2,572.3 L128.7,572.3 L129.3,572.3 L129.8,572.3 L130.4,572.3 L131.0,572.3 L131.5,572.3 L132.1,572.3 L132.6,572.3 L133.2,572.3 L133.7,572.3 L134.3,572.3 L134.8,572.3 L135.4,572.3 L136.0,572.3 L136.5,572.3 L137.1,572.3 L137.6,572.3 L138.2,572.3 L138.7,572.3 L139.3,572.3 L139.8,572.3 L140.4,572.3 L140.9,571.9 L141.5,570.8 L142.1,569.8 L142.6,570.5 L143.2,571.7 L143.7,572.2 L144.3,572.3 L144.8,572.3 L145.4,572.2 L145.9,572.1 L146.5,572.0 L147.1,571.7 L147.6,571.2 L148.2,570.1 L148.7,566.3 L149.3,553.4 L149.8,523.2 L150.4,483.9 L150.9,467.7 L151.5,491.2 L152.1,529.4 L152.6,554.3 L153.2,563.9 L153.7,567.0 L154.3,568.4 L154.8,569.3 L155.4,569.2 L155.9,568.0 L156.5,566.9 L157.0,567.4 L157.6,569.4 L158.2,571.2 L158.7,572.0 L159.3,572.3 L159.8,572.3 L160.4,572.3 L160.9,572.0 L161.5,570.7 L162.0,567.6 L162.6,563.2 L163.2,561.3 L163.7,563.8 L164.3,568.1 L164.8,570.9 L165.4,571.7 L165.9,571.5 L166.5,570.7 L167.0,570.0 L167.6,569.8 L168.2,570.2 L168.7,570.9 L169.3,571.2 L169.8,570.8 L170.4,569.9 L170.9,569.0 L171.5,568.9 L172.0,569.6 L172.6,570.8 L173.2,571.6 L173.7,571.9 L174.3,571.6 L174.8,570.8 L175.4,569.9 L175.9,569.9 L176.5,570.8 L177.0,571.7 L177.6,572.1 L178.1,572.3 L178.7,572.3 L179.3,572.3 L179.8,572.3 L180.4,572.3 L180.9,572.3 L181.5,572.3 L182.0,572.2 L182.6,571.9 L183.1,570.9 L183.7,569.3 L184.3,568.1 L184.8,568.5 L185.4,570.2 L185.9,571.5 L186.5,572.1 L187.0,572.3 L187.6,572.3 L188.1,572.3 L188.7,572.3 L189.3,572.3 L189.8,572.3 L190.4,572.3 L190.9,572.3 L191.5,572.3 L192.0,572.3 L192.6,572.3 L193.1,572.3 L193.7,572.3 L194.3,572.3 L194.8,572.3 L195.4,572.3 L195.9,572.3 L196.5,572.3 L197.0,572.3 L197.6,572.3 L198.1,572.0 L198.7,571.0 L199.2,568.9 L199.8,566.8 L200.4,566.5 L200.9,568.5 L201.5,570.6 L202.0,571.7 L202.6,571.2 L203.1,569.2 L203.7,566.4 L204.2,565.0 L204.8,566.6 L205.4,569.5 L205.9,571.4 L206.5,572.1 L207.0,572.3 L207.6,572.3 L208.1,572.3 L208.7,572.3 L209.2,572.3 L209.8,572.3 L210.4,572.3 L210.9,572.3 L211.5,572.3 L212.0,572.3 L212.6,572.3 L213.1,572.3 L213.7,572.3 L214.2,572.3 L214.8,572.3 L215.3,572.3 L215.9,572.3 L216.5,572.3 L217.0,572.3 L217.6,572.3 L218.1,572.3 L218.7,572.3 L219.2,572.3 L219.8,572.3 L220.3,572.3 L220.9,572.3 L221.5,572.3 L222.0,572.3 L222.6,572.3 L223.1,572.3 L223.7,572.3 L224.2,572.3 L224.8,572.3 L225.3,572.3 L225.9,572.3 L226.5,572.3 L227.0,572.3 L227.6,572.3 L228.1,572.3 L228.7,572.3 L229.2,572.2 L229.8,572.0 L230.3,571.7 L230.9,571.5 L231.5,571.6 L232.0,571.9 L232.6,572.2 L233.1,572.3 L233.7,572.3 L234.2,572.3 L234.8,572.3 L235.3,572.3 L235.9,572.3 L236.4,572.3 L237.0,572.3 L237.6,572.3 L238.1,572.3 L238.7,572.3 L239.2,572.3 L239.8,572.3 L240.3,572.3 L240.9,572.3 L241.4,572.3 L242.0,572.3 L242.6,572.3 L243.1,572.3 L243.7,572.3 L244.2,572.3 L244.8,572.3 L245.3,572.3 L245.9,572.3 L246.4,572.3 L247.0,572.3 L247.6,572.3 L248.1,572.3 L248.7,572.3 L249.2,572.3 L249.8,572.3 L250.3,572.3 L250.9,572.3 L251.4,572.3 L252.0,572.3 L252.6,572.3 L253.1,572.3 L253.7,572.3 L254.2,572.3 L254.8,572.3 L255.3,572.3 L255.9,572.3 L256.4,572.3 L257.0,572.3 L257.5,572.3 L258.1,572.3 L258.7,572.3 L259.2,572.3 L259.8,572.3 L260.3,572.3 L260.9,572.3 L261.4,572.3 L262.0,572.3 L262.5,572.3 L263.1,572.3 L263.7,572.3 L264.2,572.3 L264.8,572.3 L265.3,572.3 L265.9,572.3 L266.4,572.3 L267.0,572.3 L267.5,572.3 L268.1,572.3 L268.7,572.3 L269.2,572.3 L269.8,572.3 L270.3,572.3 L270.9,572.3 L271.4,572.3 L272.0,572.3 L272.5,572.3 L273.1,572.3 L273.6,572.3 L274.2,572.3 L274.8,572.3 L275.3,572.3 L275.9,572.3 L276.4,572.3 L277.0,572.3 L277.5,572.3 L278.1,572.3 L278.6,572.3 L279.2,572.3 L279.8,572.3 L280.3,572.3 L280.9,572.3 L281.4,572.3 L282.0,572.3 L282.5,572.3 L283.1,572.3 L283.6,572.3 L284.2,572.3 L284.8,572.3 L285.3,572.3 L285.9,572.3 L286.4,572.3 L287.0,572.3 L287.5,572.3 L288.1,572.3 L288.6,572.3 L289.2,572.3 L289.8,572.3 L290.3,572.3 L290.9,572.3 L291.4,572.3 L292.0,572.3 L292.5,572.3 L293.1,572.3 L293.6,572.3 L294.2,572.3 L294.7,572.3 L295.3,572.3 L295.9,572.3 L296.4,572.3 L297.0,572.3 L297.5,572.3 L298.1,572.3 L298.6,572.3 L299.2,572.3 L299.7,572.3 L300.3,572.3 L300.9,572.3 L301.4,572.3 L302.0,572.3 L302.5,572.3 L303.1,572.3 L303.6,572.3 L304.2,572.3 L304.7,572.3 L305.3,572.3 L305.9,572.3 L306.4,572.3 L307.0,572.3 L307.5,572.3 L308.1,572.3 L308.6,572.3 L309.2,572.3 L309.7,572.3 L310.3,572.3 L310.9,572.3 L311.4,572.3 L312.0,572.3 L312.5,572.3 L313.1,572.3 L313.6,572.3 L314.2,572.3 L314.7,572.3 L315.3,572.3 L315.8,572.3 L316.4,572.3 L317.0,572.3 L317.5,572.3 L318.1,572.3 L318.6,572.3 L319.2,572.3 L319.7,572.3 L320.3,572.3 L320.8,572.3 L321.4,572.3" fill="none" stroke="#8a8a8a" stroke-width="0.8" stroke-linejoin="round"/>
<path d="M79.3,462.4 L79.3,582 L317.7,582 L358.3,489.1" stroke="#2a2a2a" stroke-width="1.2" fill="none"/>
<text x="74.3" y="585.2" font-size="9.2" font-weight="bold" text-anchor="end" fill="#000" >0.0</text>
<text x="74.3" y="563.5" font-size="9.2" font-weight="bold" text-anchor="end" fill="#000" >0.2</text>
<text x="74.3" y="541.7" font-size="9.2" font-weight="bold" text-anchor="end" fill="#000" >0.4</text>
<text x="74.3" y="520.0" font-size="9.2" font-weight="bold" text-anchor="end" fill="#000" >0.6</text>
<text x="74.3" y="498.2" font-size="9.2" font-weight="bold" text-anchor="end" fill="#000" >0.8</text>
<text x="74.3" y="476.5" font-size="9.2" font-weight="bold" text-anchor="end" fill="#000" >1.0</text>
<text x="109.1" y="597.2" font-size="9.5" font-weight="bold" text-anchor="middle" fill="#000" >13</text>
<text x="138.9" y="597.2" font-size="9.5" font-weight="bold" text-anchor="middle" fill="#000" >14</text>
<text x="168.7" y="597.2" font-size="9.5" font-weight="bold" text-anchor="middle" fill="#000" >15</text>
<text x="198.5" y="597.2" font-size="9.5" font-weight="bold" text-anchor="middle" fill="#000" >16</text>
<text x="228.3" y="597.2" font-size="9.5" font-weight="bold" text-anchor="middle" fill="#000" >17</text>
<text x="258.1" y="597.2" font-size="9.5" font-weight="bold" text-anchor="middle" fill="#000" >18</text>
<text x="287.9" y="597.2" font-size="9.5" font-weight="bold" text-anchor="middle" fill="#000" >19</text>
<text x="317.7" y="597.2" font-size="9.5" font-weight="bold" text-anchor="middle" fill="#000" >20</text>
<text x="359.8" y="499.1" font-size="9" font-weight="bold" text-anchor="start" fill="#000" >A1-<tspan font-style="italic">hv</tspan></text>
<text x="355.0" y="512.4" font-size="9" font-weight="bold" text-anchor="start" fill="#000" >FLC-<tspan font-style="italic">black</tspan></text>
<text x="349.0" y="526.2" font-size="9" font-weight="bold" text-anchor="start" fill="#000" >FLC-<tspan font-style="italic">hv</tspan></text>
<text x="341.7" y="542.1" font-size="9" font-weight="bold" text-anchor="start" fill="#000" >A1-<tspan font-style="italic">black</tspan></text>
<text x="335.0" y="559.0" font-size="9" font-weight="bold" text-anchor="start" fill="#000" >Control-<tspan font-style="italic">hv</tspan></text>
<text x="326.8" y="576.3" font-size="9" font-weight="bold" text-anchor="start" fill="#000" >Control-<tspan font-style="italic">black</tspan></text>
<path d="M75.6,582.0 L79.3,582.0 M77.3,571.1 L79.3,571.1 M75.6,560.3 L79.3,560.3 M77.3,549.4 L79.3,549.4 M75.6,538.5 L79.3,538.5 M77.3,527.6 L79.3,527.6 M75.6,516.8 L79.3,516.8 M77.3,505.9 L79.3,505.9 M75.6,495.0 L79.3,495.0 M77.3,484.2 L79.3,484.2 M75.6,473.3 L79.3,473.3 M109.1,582 L109.1,585.6 M138.9,582 L138.9,585.6 M168.7,582 L168.7,585.6 M198.5,582 L198.5,585.6 M228.3,582 L228.3,585.6 M258.1,582 L258.1,585.6 M287.9,582 L287.9,585.6 M317.7,582 L317.7,585.6 M94.2,582 L94.2,584 M124.0,582 L124.0,584 M153.8,582 L153.8,584 M183.6,582 L183.6,584 M213.4,582 L213.4,584 M243.2,582 L243.2,584 M273.0,582 L273.0,584 M302.8,582 L302.8,584 M355.8,495.8 L359.5,496.6 M351.0,509.1 L354.7,509.9 M345.0,522.9 L348.7,523.7 M337.7,538.8 L341.4,539.6 M331.0,555.7 L334.7,556.5 M322.8,573.0 L326.5,573.8 " stroke="#2a2a2a" stroke-width="1.1" fill="none"/>
<text x="198.4" y="612.7" font-size="10.5" font-weight="bold" text-anchor="middle" fill="#000" >Time (min)</text>
<text transform="translate(59.4,523.3) rotate(-90)" font-size="10.3" font-weight="bold" text-anchor="middle">Relative Intensity</text>
<text x="290.0" y="421.0" font-size="9" font-weight="bold" text-anchor="start" fill="#000" >1. Ergosterol</text>
<text x="290.0" y="433.7" font-size="9" font-weight="bold" text-anchor="start" fill="#000" >2. Chalinasterol</text>
<text x="290.0" y="446.4" font-size="9" font-weight="bold" text-anchor="start" fill="#000" >3. Obtusifoliol</text>
<text x="290.0" y="459.1" font-size="9" font-weight="bold" text-anchor="start" fill="#000" >4. Lanosterol</text>
<text x="290.0" y="471.8" font-size="9" font-weight="bold" text-anchor="start" fill="#000" >5. Eburicol</text>
<text x="205.3" y="488.1" font-size="9" font-weight="bold" text-anchor="middle" fill="#000" >1</text>
<text x="218.7" y="488.1" font-size="9" font-weight="bold" text-anchor="middle" fill="#000" >2</text>
<text x="234.9" y="488.1" font-size="9" font-weight="bold" text-anchor="middle" fill="#000" >3</text>
<text x="251.4" y="488.1" font-size="9" font-weight="bold" text-anchor="middle" fill="#000" >4</text>
<text x="280.3" y="488.1" font-size="9" font-weight="bold" text-anchor="middle" fill="#000" >5</text>
<text x="59.3" y="404.1" font-size="18" font-weight="bold" text-anchor="start" fill="#000" >B</text>
<polygon points="596.9,416.0 668.2,451.9 666.2,533.0 596.9,510.4 581.9,501.7 579.9,483.2" fill="rgb(255,100,100)" fill-opacity="0.32" stroke="#f77" stroke-opacity="0.5" stroke-width="0.6"/>
<polygon points="596.9,479.1 610.0,485.4 609.8,500.4 596.9,569.3 528.2,532.6 527.6,453.0" fill="rgb(90,90,240)" fill-opacity="0.36" stroke="#66e" stroke-opacity="0.6" stroke-width="0.6"/>
<polygon points="596.9,477.4 610.0,485.4 615.7,503.8 596.9,513.4 580.0,502.7 579.5,483.0" fill="rgb(120,230,230)" fill-opacity="0.35" stroke="#6dd" stroke-opacity="0.8" stroke-width="0.6"/>
<polygon points="596.9,477.9 610.0,485.4 610.0,500.6 596.9,508.1 583.8,500.6 583.8,485.4" fill="rgb(240,240,120)" fill-opacity="0.25" stroke="none"/>
<polygon points="596.9,473.8 612.1,484.2 610.0,500.6 596.9,507.8 583.0,501.0 581.7,484.2" fill="rgb(90,160,110)" fill-opacity="0.6" stroke="#6d6" stroke-width="0.8"/>
<circle cx="596.9" cy="416.0" r="1.1" fill="#f06a6a" fill-opacity="0.8"/><circle cx="668.2" cy="451.9" r="1.1" fill="#f06a6a" fill-opacity="0.8"/><circle cx="666.2" cy="533.0" r="1.1" fill="#f06a6a" fill-opacity="0.8"/><circle cx="596.9" cy="510.4" r="1.1" fill="#f06a6a" fill-opacity="0.8"/><circle cx="581.9" cy="501.7" r="1.1" fill="#f06a6a" fill-opacity="0.8"/><circle cx="579.9" cy="483.2" r="1.1" fill="#f06a6a" fill-opacity="0.8"/><circle cx="596.9" cy="479.1" r="1.1" fill="#5a5ae0" fill-opacity="0.8"/><circle cx="610.0" cy="485.4" r="1.1" fill="#5a5ae0" fill-opacity="0.8"/><circle cx="609.8" cy="500.4" r="1.1" fill="#5a5ae0" fill-opacity="0.8"/><circle cx="596.9" cy="569.3" r="1.1" fill="#5a5ae0" fill-opacity="0.8"/><circle cx="528.2" cy="532.6" r="1.1" fill="#5a5ae0" fill-opacity="0.8"/><circle cx="527.6" cy="453.0" r="1.1" fill="#5a5ae0" fill-opacity="0.8"/>
<polygon points="596.9,477.9 610.0,485.4 610.0,500.6 596.9,508.1 583.8,500.6 583.8,485.4" fill="none" stroke="#888" stroke-width="0.5"/><polygon points="596.9,462.8 623.1,477.9 623.1,508.1 596.9,523.2 570.7,508.1 570.7,477.9" fill="none" stroke="#888" stroke-width="0.5"/><polygon points="596.9,447.7 636.1,470.4 636.1,515.6 596.9,538.3 557.7,515.6 557.7,470.4" fill="none" stroke="#888" stroke-width="0.5"/><polygon points="596.9,432.6 649.2,462.8 649.2,523.2 596.9,553.4 544.6,523.2 544.6,462.8" fill="none" stroke="#888" stroke-width="0.5"/><polygon points="596.9,417.5 662.3,455.2 662.3,530.8 596.9,568.5 531.5,530.8 531.5,455.2" fill="none" stroke="#888" stroke-width="0.5"/><polygon points="596.9,402.4 675.4,447.7 675.4,538.3 596.9,583.6 518.4,538.3 518.4,447.7" fill="none" stroke="#888" stroke-width="0.5"/>
<path d="M596.9,493.0 L596.9,402.4 M596.9,493.0 L675.4,447.7 M596.9,493.0 L675.4,538.3 M596.9,493.0 L596.9,583.6 M596.9,493.0 L518.4,538.3 M596.9,493.0 L518.4,447.7 " stroke="#333" stroke-width="0.7" fill="none"/>
<text x="595.4" y="496.3" font-size="9" font-weight="bold" text-anchor="end" fill="#000" >-20</text>
<text x="595.4" y="481.2" font-size="9" font-weight="bold" text-anchor="end" fill="#000" >0</text>
<text x="595.4" y="466.1" font-size="9" font-weight="bold" text-anchor="end" fill="#000" >20</text>
<text x="595.4" y="451.0" font-size="9" font-weight="bold" text-anchor="end" fill="#000" >40</text>
<text x="595.4" y="435.9" font-size="9" font-weight="bold" text-anchor="end" fill="#000" >60</text>
<text x="595.4" y="420.8" font-size="9" font-weight="bold" text-anchor="end" fill="#000" >80</text>
<text x="595.4" y="405.7" font-size="9" font-weight="bold" text-anchor="end" fill="#000" >100</text>
<text x="596.9" y="394.8" font-size="9" font-weight="bold" text-anchor="middle" fill="#000" >Control</text>
<text x="676.0" y="445.2" font-size="9" font-weight="bold" text-anchor="start" fill="#000" >Control-<tspan font-style="italic">hv</tspan></text>
<text x="678.3" y="542.5" font-size="9" font-weight="bold" text-anchor="start" fill="#000" >A1-<tspan font-style="italic">black</tspan></text>
<text x="596.9" y="591.9" font-size="9" font-weight="bold" text-anchor="middle" fill="#000" >FLC-<tspan font-style="italic">hv</tspan></text>
<text x="516.5" y="542.5" font-size="9" font-weight="bold" text-anchor="end" fill="#000" >FLC-<tspan font-style="italic">black</tspan></text>
<text x="516.5" y="445.2" font-size="9" font-weight="bold" text-anchor="end" fill="#000" >A1-<tspan font-style="italic">hv</tspan></text>
<rect x="466.6" y="593.4" width="260" height="18.8" fill="#fff" stroke="#5b7fc0" stroke-width="0.8"/>
<rect x="483.2" y="595.2" width="14.2" height="5.8" fill="#f9c4c4"/>
<rect x="539.2" y="595.2" width="14.2" height="5.8" fill="#c4f9c4"/>
<rect x="596.9" y="595.2" width="14.2" height="5.8" fill="#fdfdc4"/>
<rect x="652.2" y="595.2" width="14.2" height="5.8" fill="#c4fbfb"/>
<rect x="699.7" y="595.2" width="14.2" height="5.8" fill="#c4c4fb"/>
<text x="490.0" y="609.0" font-size="8.9" font-weight="bold" text-anchor="middle" fill="#000" >Ergosterol</text>
<text x="546.3" y="609.0" font-size="8.9" font-weight="bold" text-anchor="middle" fill="#000" >Chalinasterol</text>
<text x="605.0" y="609.0" font-size="8.9" font-weight="bold" text-anchor="middle" fill="#000" >Obtusifoliol</text>
<text x="659.0" y="609.0" font-size="8.9" font-weight="bold" text-anchor="middle" fill="#000" >Lanosterol</text>
<text x="707.2" y="609.0" font-size="8.9" font-weight="bold" text-anchor="middle" fill="#000" >Eburicol</text>
<text x="474.0" y="404.5" font-size="18" font-weight="bold" text-anchor="start" fill="#000" >C</text>
<rect x="85.75" y="784.5" width="12.85" height="158.4" fill="#5c5c5c"/><path d="M92.2,784.5 L92.2,776.4 M88.8,776.4 L95.6,776.4" stroke="#5c5c5c" stroke-width="0.9" fill="none"/><rect x="98.90" y="901.9" width="12.85" height="41.0" fill="#e0a9b5"/><path d="M105.3,901.9 L105.3,900.1 M101.9,900.1 L108.8,900.1" stroke="#e0a9b5" stroke-width="0.9" fill="none"/><rect x="112.05" y="813.0" width="12.85" height="129.9" fill="#7c6fc9"/><path d="M118.5,813.0 L118.5,806.0 M115.1,806.0 L121.9,806.0" stroke="#7c6fc9" stroke-width="0.9" fill="none"/><rect x="125.20" y="915.0" width="12.85" height="27.9" fill="#4fa4ff"/><path d="M131.7,915.0 L131.7,914.2 M128.2,914.2 L135.1,914.2" stroke="#4fa4ff" stroke-width="0.9" fill="none"/><rect x="158.42" y="784.5" width="12.85" height="158.4" fill="#5c5c5c"/><path d="M164.9,784.5 L164.9,777.7 M161.5,777.7 L168.3,777.7" stroke="#5c5c5c" stroke-width="0.9" fill="none"/><rect x="171.57" y="874.5" width="12.85" height="68.4" fill="#e0a9b5"/><path d="M178.0,874.5 L178.0,871.5 M174.6,871.5 L181.4,871.5" stroke="#e0a9b5" stroke-width="0.9" fill="none"/><rect x="184.72" y="790.4" width="12.85" height="152.5" fill="#7c6fc9"/><path d="M191.2,790.4 L191.2,784.0 M187.8,784.0 L194.6,784.0" stroke="#7c6fc9" stroke-width="0.9" fill="none"/><rect x="197.87" y="899.0" width="12.85" height="43.9" fill="#4fa4ff"/><path d="M204.3,899.0 L204.3,896.8 M200.9,896.8 L207.7,896.8" stroke="#4fa4ff" stroke-width="0.9" fill="none"/><rect x="231.09" y="784.5" width="12.85" height="158.4" fill="#5c5c5c"/><path d="M237.5,784.5 L237.5,777.4 M234.1,777.4 L240.9,777.4" stroke="#5c5c5c" stroke-width="0.9" fill="none"/><rect x="244.24" y="870.7" width="12.85" height="72.2" fill="#e0a9b5"/><path d="M250.7,870.7 L250.7,869.1 M247.3,869.1 L254.1,869.1" stroke="#e0a9b5" stroke-width="0.9" fill="none"/><rect x="257.39" y="793.2" width="12.85" height="149.7" fill="#7c6fc9"/><path d="M263.8,793.2 L263.8,791.3 M260.4,791.3 L267.2,791.3" stroke="#7c6fc9" stroke-width="0.9" fill="none"/><rect x="270.54" y="897.0" width="12.85" height="45.9" fill="#4fa4ff"/><path d="M277.0,897.0 L277.0,893.6 M273.6,893.6 L280.4,893.6" stroke="#4fa4ff" stroke-width="0.9" fill="none"/><rect x="303.76" y="784.5" width="12.85" height="158.4" fill="#5c5c5c"/><path d="M310.2,784.5 L310.2,772.6 M306.8,772.6 L313.6,772.6" stroke="#5c5c5c" stroke-width="0.9" fill="none"/><rect x="316.91" y="854.2" width="12.85" height="88.7" fill="#e0a9b5"/><path d="M323.4,854.2 L323.4,850.2 M320.0,850.2 L326.8,850.2" stroke="#e0a9b5" stroke-width="0.9" fill="none"/><rect x="330.06" y="822.2" width="12.85" height="120.7" fill="#7c6fc9"/><path d="M336.5,822.2 L336.5,817.8 M333.1,817.8 L339.9,817.8" stroke="#7c6fc9" stroke-width="0.9" fill="none"/><rect x="343.21" y="872.1" width="12.85" height="70.8" fill="#4fa4ff"/><path d="M349.7,872.1 L349.7,869.7 M346.3,869.7 L353.1,869.7" stroke="#4fa4ff" stroke-width="0.9" fill="none"/>
<path d="M78.5,752.3 L78.5,942.9 L363,942.9" stroke="#000" stroke-width="1.2" fill="none"/>
<text x="74.3" y="944.8" font-size="9" font-weight="bold" text-anchor="end" fill="#000" >0.0</text>
<text x="74.3" y="913.1" font-size="9" font-weight="bold" text-anchor="end" fill="#000" >0.2</text>
<text x="74.3" y="881.4" font-size="9" font-weight="bold" text-anchor="end" fill="#000" >0.4</text>
<text x="74.3" y="849.8" font-size="9" font-weight="bold" text-anchor="end" fill="#000" >0.6</text>
<text x="74.3" y="818.1" font-size="9" font-weight="bold" text-anchor="end" fill="#000" >0.8</text>
<text x="74.3" y="786.4" font-size="9" font-weight="bold" text-anchor="end" fill="#000" >1.0</text>
<text x="74.3" y="754.7" font-size="9" font-weight="bold" text-anchor="end" fill="#000" >1.2</text>
<path d="M75,942.9 L78.5,942.9 M75,911.2 L78.5,911.2 M75,879.5 L78.5,879.5 M75,847.9 L78.5,847.9 M75,816.2 L78.5,816.2 M75,784.5 L78.5,784.5 M75,752.8 L78.5,752.8 " stroke="#111" stroke-width="0.9" fill="none"/>
<text x="111.7" y="953.8" font-size="9" font-weight="bold" text-anchor="middle" fill="#000" font-style="italic">ERG25</text>
<text x="184.4" y="953.8" font-size="9" font-weight="bold" text-anchor="middle" fill="#000" font-style="italic">ERG26</text>
<text x="257.0" y="953.8" font-size="9" font-weight="bold" text-anchor="middle" fill="#000" font-style="italic">ERG27</text>
<text x="329.7" y="953.8" font-size="9" font-weight="bold" text-anchor="middle" fill="#000" font-style="italic">ERG6</text>
<text transform="translate(57.6,853) rotate(-90)" font-size="10.4" font-weight="bold" text-anchor="middle">Relative fold change</text>
<rect x="98.8" y="743.2" width="11.9" height="3.4" fill="#5c5c5c"/>
<text x="104.7" y="756.2" font-size="9" font-weight="bold" text-anchor="middle" fill="#000" >Control</text>
<rect x="161.7" y="743.2" width="11.9" height="3.4" fill="#e0a9b5"/>
<text x="167.2" y="756.2" font-size="9" font-weight="bold" text-anchor="middle" fill="#000" >FLC</text>
<rect x="223.6" y="743.2" width="11.9" height="3.4" fill="#7c6fc9"/>
<text x="229.6" y="756.2" font-size="9" font-weight="bold" text-anchor="middle" fill="#000" >A1-<tspan font-style="italic">balck</tspan></text>
<rect x="286.4" y="743.2" width="11.9" height="3.4" fill="#4fa4ff"/>
<text x="292.5" y="756.2" font-size="9" font-weight="bold" text-anchor="middle" fill="#000" >A1-<tspan font-style="italic">hv</tspan></text>
<text x="59.2" y="681.2" font-size="18" font-weight="bold" text-anchor="start" fill="#000" >D</text>
<rect x="491.30" y="691.60" width="22.04" height="22.07" fill="rgb(0,150,0)" shape-rendering="crispEdges"/><rect x="513.04" y="691.60" width="22.04" height="22.07" fill="rgb(0,185,0)" shape-rendering="crispEdges"/><rect x="534.78" y="691.60" width="22.04" height="22.07" fill="rgb(0,212,0)" shape-rendering="crispEdges"/><rect x="556.52" y="691.60" width="22.04" height="22.07" fill="rgb(0,226,0)" shape-rendering="crispEdges"/><rect x="578.26" y="691.60" width="22.04" height="22.07" fill="rgb(0,200,0)" shape-rendering="crispEdges"/><rect x="600.00" y="691.60" width="22.04" height="22.07" fill="rgb(0,252,0)" shape-rendering="crispEdges"/><rect x="621.74" y="691.60" width="22.04" height="22.07" fill="rgb(0,222,0)" shape-rendering="crispEdges"/><rect x="643.48" y="691.60" width="22.04" height="22.07" fill="rgb(0,226,0)" shape-rendering="crispEdges"/><rect x="665.22" y="691.60" width="22.04" height="22.07" fill="rgb(0,226,0)" shape-rendering="crispEdges"/><rect x="686.96" y="691.60" width="22.04" height="22.07" fill="rgb(0,221,0)" shape-rendering="crispEdges"/><rect x="491.30" y="713.38" width="22.04" height="22.07" fill="rgb(0,133,0)" shape-rendering="crispEdges"/><rect x="513.04" y="713.38" width="22.04" height="22.07" fill="rgb(0,180,0)" shape-rendering="crispEdges"/><rect x="534.78" y="713.38" width="22.04" height="22.07" fill="rgb(0,222,0)" shape-rendering="crispEdges"/><rect x="556.52" y="713.38" width="22.04" height="22.07" fill="rgb(0,227,0)" shape-rendering="crispEdges"/><rect x="578.26" y="713.38" width="22.04" height="22.07" fill="rgb(0,227,0)" shape-rendering="crispEdges"/><rect x="600.00" y="713.38" width="22.04" height="22.07" fill="rgb(0,215,0)" shape-rendering="crispEdges"/><rect x="621.74" y="713.38" width="22.04" height="22.07" fill="rgb(0,173,0)" shape-rendering="crispEdges"/><rect x="643.48" y="713.38" width="22.04" height="22.07" fill="rgb(0,226,0)" shape-rendering="crispEdges"/><rect x="665.22" y="713.38" width="22.04" height="22.07" fill="rgb(0,226,0)" shape-rendering="crispEdges"/><rect x="686.96" y="713.38" width="22.04" height="22.07" fill="rgb(0,228,0)" shape-rendering="crispEdges"/><rect x="491.30" y="735.15" width="22.04" height="22.07" fill="rgb(0,78,0)" shape-rendering="crispEdges"/><rect x="513.04" y="735.15" width="22.04" height="22.07" fill="rgb(0,145,0)" shape-rendering="crispEdges"/><rect x="534.78" y="735.15" width="22.04" height="22.07" fill="rgb(0,225,0)" shape-rendering="crispEdges"/><rect x="556.52" y="735.15" width="22.04" height="22.07" fill="rgb(0,225,0)" shape-rendering="crispEdges"/><rect x="578.26" y="735.15" width="22.04" height="22.07" fill="rgb(0,225,0)" shape-rendering="crispEdges"/><rect x="600.00" y="735.15" width="22.04" height="22.07" fill="rgb(0,160,0)" shape-rendering="crispEdges"/><rect x="621.74" y="735.15" width="22.04" height="22.07" fill="rgb(0,140,0)" shape-rendering="crispEdges"/><rect x="643.48" y="735.15" width="22.04" height="22.07" fill="rgb(0,225,0)" shape-rendering="crispEdges"/><rect x="665.22" y="735.15" width="22.04" height="22.07" fill="rgb(0,225,0)" shape-rendering="crispEdges"/><rect x="686.96" y="735.15" width="22.04" height="22.07" fill="rgb(0,228,0)" shape-rendering="crispEdges"/><rect x="491.30" y="756.92" width="22.04" height="22.07" fill="rgb(0,38,0)" shape-rendering="crispEdges"/><rect x="513.04" y="756.92" width="22.04" height="22.07" fill="rgb(0,93,0)" shape-rendering="crispEdges"/><rect x="534.78" y="756.92" width="22.04" height="22.07" fill="rgb(0,225,0)" shape-rendering="crispEdges"/><rect x="556.52" y="756.92" width="22.04" height="22.07" fill="rgb(0,225,0)" shape-rendering="crispEdges"/><rect x="578.26" y="756.92" width="22.04" height="22.07" fill="rgb(0,210,0)" shape-rendering="crispEdges"/><rect x="600.00" y="756.92" width="22.04" height="22.07" fill="rgb(0,160,0)" shape-rendering="crispEdges"/><rect x="621.74" y="756.92" width="22.04" height="22.07" fill="rgb(0,108,0)" shape-rendering="crispEdges"/><rect x="643.48" y="756.92" width="22.04" height="22.07" fill="rgb(0,225,0)" shape-rendering="crispEdges"/><rect x="665.22" y="756.92" width="22.04" height="22.07" fill="rgb(0,225,0)" shape-rendering="crispEdges"/><rect x="686.96" y="756.92" width="22.04" height="22.07" fill="rgb(0,228,0)" shape-rendering="crispEdges"/><rect x="491.30" y="778.70" width="22.04" height="22.07" fill="rgb(0,0,0)" shape-rendering="crispEdges"/><rect x="513.04" y="778.70" width="22.04" height="22.07" fill="rgb(0,48,0)" shape-rendering="crispEdges"/><rect x="534.78" y="778.70" width="22.04" height="22.07" fill="rgb(0,225,0)" shape-rendering="crispEdges"/><rect x="556.52" y="778.70" width="22.04" height="22.07" fill="rgb(0,225,0)" shape-rendering="crispEdges"/><rect x="578.26" y="778.70" width="22.04" height="22.07" fill="rgb(0,225,0)" shape-rendering="crispEdges"/><rect x="600.00" y="778.70" width="22.04" height="22.07" fill="rgb(0,113,0)" shape-rendering="crispEdges"/><rect x="621.74" y="778.70" width="22.04" height="22.07" fill="rgb(0,73,0)" shape-rendering="crispEdges"/><rect x="643.48" y="778.70" width="22.04" height="22.07" fill="rgb(0,225,0)" shape-rendering="crispEdges"/><rect x="665.22" y="778.70" width="22.04" height="22.07" fill="rgb(0,225,0)" shape-rendering="crispEdges"/><rect x="686.96" y="778.70" width="22.04" height="22.07" fill="rgb(0,228,0)" shape-rendering="crispEdges"/><rect x="491.30" y="800.48" width="22.04" height="22.07" fill="rgb(0,63,0)" shape-rendering="crispEdges"/><rect x="513.04" y="800.48" width="22.04" height="22.07" fill="rgb(0,48,0)" shape-rendering="crispEdges"/><rect x="534.78" y="800.48" width="22.04" height="22.07" fill="rgb(0,222,0)" shape-rendering="crispEdges"/><rect x="556.52" y="800.48" width="22.04" height="22.07" fill="rgb(0,222,0)" shape-rendering="crispEdges"/><rect x="578.26" y="800.48" width="22.04" height="22.07" fill="rgb(0,225,0)" shape-rendering="crispEdges"/><rect x="600.00" y="800.48" width="22.04" height="22.07" fill="rgb(0,74,0)" shape-rendering="crispEdges"/><rect x="621.74" y="800.48" width="22.04" height="22.07" fill="rgb(0,83,0)" shape-rendering="crispEdges"/><rect x="643.48" y="800.48" width="22.04" height="22.07" fill="rgb(0,225,0)" shape-rendering="crispEdges"/><rect x="665.22" y="800.48" width="22.04" height="22.07" fill="rgb(0,225,0)" shape-rendering="crispEdges"/><rect x="686.96" y="800.48" width="22.04" height="22.07" fill="rgb(0,228,0)" shape-rendering="crispEdges"/><rect x="491.30" y="822.25" width="22.04" height="22.07" fill="rgb(0,68,0)" shape-rendering="crispEdges"/><rect x="513.04" y="822.25" width="22.04" height="22.07" fill="rgb(0,63,0)" shape-rendering="crispEdges"/><rect x="534.78" y="822.25" width="22.04" height="22.07" fill="rgb(0,222,0)" shape-rendering="crispEdges"/><rect x="556.52" y="822.25" width="22.04" height="22.07" fill="rgb(0,220,0)" shape-rendering="crispEdges"/><rect x="578.26" y="822.25" width="22.04" height="22.07" fill="rgb(0,225,0)" shape-rendering="crispEdges"/><rect x="600.00" y="822.25" width="22.04" height="22.07" fill="rgb(0,78,0)" shape-rendering="crispEdges"/><rect x="621.74" y="822.25" width="22.04" height="22.07" fill="rgb(0,78,0)" shape-rendering="crispEdges"/><rect x="643.48" y="822.25" width="22.04" height="22.07" fill="rgb(0,225,0)" shape-rendering="crispEdges"/><rect x="665.22" y="822.25" width="22.04" height="22.07" fill="rgb(0,228,0)" shape-rendering="crispEdges"/><rect x="686.96" y="822.25" width="22.04" height="22.07" fill="rgb(0,228,0)" shape-rendering="crispEdges"/><rect x="491.30" y="844.02" width="22.04" height="22.07" fill="rgb(0,58,0)" shape-rendering="crispEdges"/><rect x="513.04" y="844.02" width="22.04" height="22.07" fill="rgb(0,78,0)" shape-rendering="crispEdges"/><rect x="534.78" y="844.02" width="22.04" height="22.07" fill="rgb(0,215,0)" shape-rendering="crispEdges"/><rect x="556.52" y="844.02" width="22.04" height="22.07" fill="rgb(0,170,0)" shape-rendering="crispEdges"/><rect x="578.26" y="844.02" width="22.04" height="22.07" fill="rgb(0,225,0)" shape-rendering="crispEdges"/><rect x="600.00" y="844.02" width="22.04" height="22.07" fill="rgb(0,83,0)" shape-rendering="crispEdges"/><rect x="621.74" y="844.02" width="22.04" height="22.07" fill="rgb(0,83,0)" shape-rendering="crispEdges"/><rect x="643.48" y="844.02" width="22.04" height="22.07" fill="rgb(0,225,0)" shape-rendering="crispEdges"/><rect x="665.22" y="844.02" width="22.04" height="22.07" fill="rgb(0,228,0)" shape-rendering="crispEdges"/><rect x="686.96" y="844.02" width="22.04" height="22.07" fill="rgb(0,228,0)" shape-rendering="crispEdges"/><rect x="491.30" y="865.80" width="22.04" height="22.07" fill="rgb(0,38,0)" shape-rendering="crispEdges"/><rect x="513.04" y="865.80" width="22.04" height="22.07" fill="rgb(0,48,0)" shape-rendering="crispEdges"/><rect x="534.78" y="865.80" width="22.04" height="22.07" fill="rgb(0,165,0)" shape-rendering="crispEdges"/><rect x="556.52" y="865.80" width="22.04" height="22.07" fill="rgb(0,118,0)" shape-rendering="crispEdges"/><rect x="578.26" y="865.80" width="22.04" height="22.07" fill="rgb(0,200,0)" shape-rendering="crispEdges"/><rect x="600.00" y="865.80" width="22.04" height="22.07" fill="rgb(0,73,0)" shape-rendering="crispEdges"/><rect x="621.74" y="865.80" width="22.04" height="22.07" fill="rgb(0,83,0)" shape-rendering="crispEdges"/><rect x="643.48" y="865.80" width="22.04" height="22.07" fill="rgb(0,225,0)" shape-rendering="crispEdges"/><rect x="665.22" y="865.80" width="22.04" height="22.07" fill="rgb(0,222,0)" shape-rendering="crispEdges"/><rect x="686.96" y="865.80" width="22.04" height="22.07" fill="rgb(0,225,0)" shape-rendering="crispEdges"/><rect x="491.30" y="887.58" width="22.04" height="22.07" fill="rgb(0,53,0)" shape-rendering="crispEdges"/><rect x="513.04" y="887.58" width="22.04" height="22.07" fill="rgb(0,73,0)" shape-rendering="crispEdges"/><rect x="534.78" y="887.58" width="22.04" height="22.07" fill="rgb(0,73,0)" shape-rendering="crispEdges"/><rect x="556.52" y="887.58" width="22.04" height="22.07" fill="rgb(0,83,0)" shape-rendering="crispEdges"/><rect x="578.26" y="887.58" width="22.04" height="22.07" fill="rgb(0,125,0)" shape-rendering="crispEdges"/><rect x="600.00" y="887.58" width="22.04" height="22.07" fill="rgb(0,83,0)" shape-rendering="crispEdges"/><rect x="621.74" y="887.58" width="22.04" height="22.07" fill="rgb(0,83,0)" shape-rendering="crispEdges"/><rect x="643.48" y="887.58" width="22.04" height="22.07" fill="rgb(0,225,0)" shape-rendering="crispEdges"/><rect x="665.22" y="887.58" width="22.04" height="22.07" fill="rgb(0,170,0)" shape-rendering="crispEdges"/><rect x="686.96" y="887.58" width="22.04" height="22.07" fill="rgb(0,210,0)" shape-rendering="crispEdges"/><rect x="491.30" y="909.35" width="22.04" height="22.07" fill="rgb(0,53,0)" shape-rendering="crispEdges"/><rect x="513.04" y="909.35" width="22.04" height="22.07" fill="rgb(0,43,0)" shape-rendering="crispEdges"/><rect x="534.78" y="909.35" width="22.04" height="22.07" fill="rgb(0,68,0)" shape-rendering="crispEdges"/><rect x="556.52" y="909.35" width="22.04" height="22.07" fill="rgb(0,88,0)" shape-rendering="crispEdges"/><rect x="578.26" y="909.35" width="22.04" height="22.07" fill="rgb(0,58,0)" shape-rendering="crispEdges"/><rect x="600.00" y="909.35" width="22.04" height="22.07" fill="rgb(0,73,0)" shape-rendering="crispEdges"/><rect x="621.74" y="909.35" width="22.04" height="22.07" fill="rgb(0,48,0)" shape-rendering="crispEdges"/><rect x="643.48" y="909.35" width="22.04" height="22.07" fill="rgb(0,200,0)" shape-rendering="crispEdges"/><rect x="665.22" y="909.35" width="22.04" height="22.07" fill="rgb(0,128,0)" shape-rendering="crispEdges"/><rect x="686.96" y="909.35" width="22.04" height="22.07" fill="rgb(0,210,0)" shape-rendering="crispEdges"/><rect x="491.30" y="931.12" width="22.04" height="22.07" fill="rgb(0,53,0)" shape-rendering="crispEdges"/><rect x="513.04" y="931.12" width="22.04" height="22.07" fill="rgb(0,83,0)" shape-rendering="crispEdges"/><rect x="534.78" y="931.12" width="22.04" height="22.07" fill="rgb(0,38,0)" shape-rendering="crispEdges"/><rect x="556.52" y="931.12" width="22.04" height="22.07" fill="rgb(0,33,0)" shape-rendering="crispEdges"/><rect x="578.26" y="931.12" width="22.04" height="22.07" fill="rgb(0,53,0)" shape-rendering="crispEdges"/><rect x="600.00" y="931.12" width="22.04" height="22.07" fill="rgb(0,53,0)" shape-rendering="crispEdges"/><rect x="621.74" y="931.12" width="22.04" height="22.07" fill="rgb(0,53,0)" shape-rendering="crispEdges"/><rect x="643.48" y="931.12" width="22.04" height="22.07" fill="rgb(0,53,0)" shape-rendering="crispEdges"/><rect x="665.22" y="931.12" width="22.04" height="22.07" fill="rgb(0,48,0)" shape-rendering="crispEdges"/><rect x="686.96" y="931.12" width="22.04" height="22.07" fill="rgb(0,53,0)" shape-rendering="crispEdges"/>
<text x="487.4" y="705.1" font-size="9" font-weight="bold" text-anchor="end" fill="#000" >64</text>
<text x="487.4" y="726.9" font-size="9" font-weight="bold" text-anchor="end" fill="#000" >32</text>
<text x="487.4" y="748.6" font-size="9" font-weight="bold" text-anchor="end" fill="#000" >16</text>
<text x="487.4" y="770.4" font-size="9" font-weight="bold" text-anchor="end" fill="#000" >8</text>
<text x="487.4" y="792.2" font-size="9" font-weight="bold" text-anchor="end" fill="#000" >4</text>
<text x="487.4" y="814.0" font-size="9" font-weight="bold" text-anchor="end" fill="#000" >2</text>
<text x="487.4" y="835.7" font-size="9" font-weight="bold" text-anchor="end" fill="#000" >1</text>
<text x="487.4" y="857.5" font-size="9" font-weight="bold" text-anchor="end" fill="#000" >0.5</text>
<text x="487.4" y="879.3" font-size="9" font-weight="bold" text-anchor="end" fill="#000" >0.25</text>
<text x="487.4" y="901.1" font-size="9" font-weight="bold" text-anchor="end" fill="#000" >0.13</text>
<text x="487.4" y="922.8" font-size="9" font-weight="bold" text-anchor="end" fill="#000" >0.063</text>
<text x="487.4" y="944.6" font-size="9" font-weight="bold" text-anchor="end" fill="#000" >0</text>
<text transform="translate(504.2,956.6) rotate(-90)" font-size="8.5" font-weight="bold" text-anchor="end">A1-<tspan font-style="italic">black</tspan></text>
<text transform="translate(525.9,956.6) rotate(-90)" font-size="8.5" font-weight="bold" text-anchor="end">A2-<tspan font-style="italic">black</tspan></text>
<text transform="translate(547.6,956.6) rotate(-90)" font-size="8.5" font-weight="bold" text-anchor="end">A1-<tspan font-style="italic">hv</tspan></text>
<text transform="translate(569.4,956.6) rotate(-90)" font-size="8.5" font-weight="bold" text-anchor="end">A2-<tspan font-style="italic">hv</tspan></text>
<text transform="translate(591.1,956.6) rotate(-90)" font-size="8.5" font-weight="bold" text-anchor="end">FLC</text>
<text transform="translate(612.9,956.6) rotate(-90)" font-size="8.5" font-weight="bold" text-anchor="end">A1-<tspan font-style="italic">black</tspan></text>
<text transform="translate(634.6,956.6) rotate(-90)" font-size="8.5" font-weight="bold" text-anchor="end">A2-<tspan font-style="italic">black</tspan></text>
<text transform="translate(656.4,956.6) rotate(-90)" font-size="8.5" font-weight="bold" text-anchor="end">A1-<tspan font-style="italic">hv</tspan></text>
<text transform="translate(678.1,956.6) rotate(-90)" font-size="8.5" font-weight="bold" text-anchor="end">A2-<tspan font-style="italic">hv</tspan></text>
<text transform="translate(699.8,956.6) rotate(-90)" font-size="8.5" font-weight="bold" text-anchor="end">FLC</text>
<text transform="translate(461,821.5) rotate(-90)" font-size="10.4" font-weight="bold" text-anchor="middle">Concentration (μg/mL)</text>
<text x="545.1" y="682.8" font-size="9" font-weight="bold" text-anchor="middle" fill="#000" >SC5314</text>
<text x="653.2" y="670.1" font-size="9" font-weight="bold" text-anchor="middle" fill="#000" >SC5314</text>
<text x="653.2" y="681.4" font-size="9" font-weight="bold" text-anchor="middle" fill="#000" font-style="italic">(erg11/ERG11)</text>
<path d="M499.3,686.3 L590.1,686.3 M607.7,686.3 L698.4,686.3" stroke="#222" stroke-width="0.8"/>
<defs><linearGradient id="cb" x1="0" y1="0" x2="0" y2="1"><stop offset="0" stop-color="#000"/><stop offset="0.5" stop-color="#007a00"/><stop offset="1" stop-color="#00ff00"/></linearGradient></defs>
<rect x="718.4" y="893.6" width="6.3" height="60" fill="url(#cb)"/>
<text transform="translate(715.1,954.6) rotate(-90)" font-size="9.2" font-weight="normal" text-anchor="start">Relative growth</text>
<text x="728.1" y="910.7" font-size="8.7" font-weight="normal" text-anchor="start" fill="#000" >1.0</text>
<text x="728.1" y="930.3" font-size="8.7" font-weight="normal" text-anchor="start" fill="#000" >0.5</text>
<text x="728.1" y="950.0" font-size="8.7" font-weight="normal" text-anchor="start" fill="#000" >0.0</text>
<text x="473.7" y="681.3" font-size="18" font-weight="bold" text-anchor="start" fill="#000" >E</text>
<text x="4.5" y="14.7" font-size="18" font-weight="bold" text-anchor="start" fill="#000" >A</text>
</svg>
</body></html>
